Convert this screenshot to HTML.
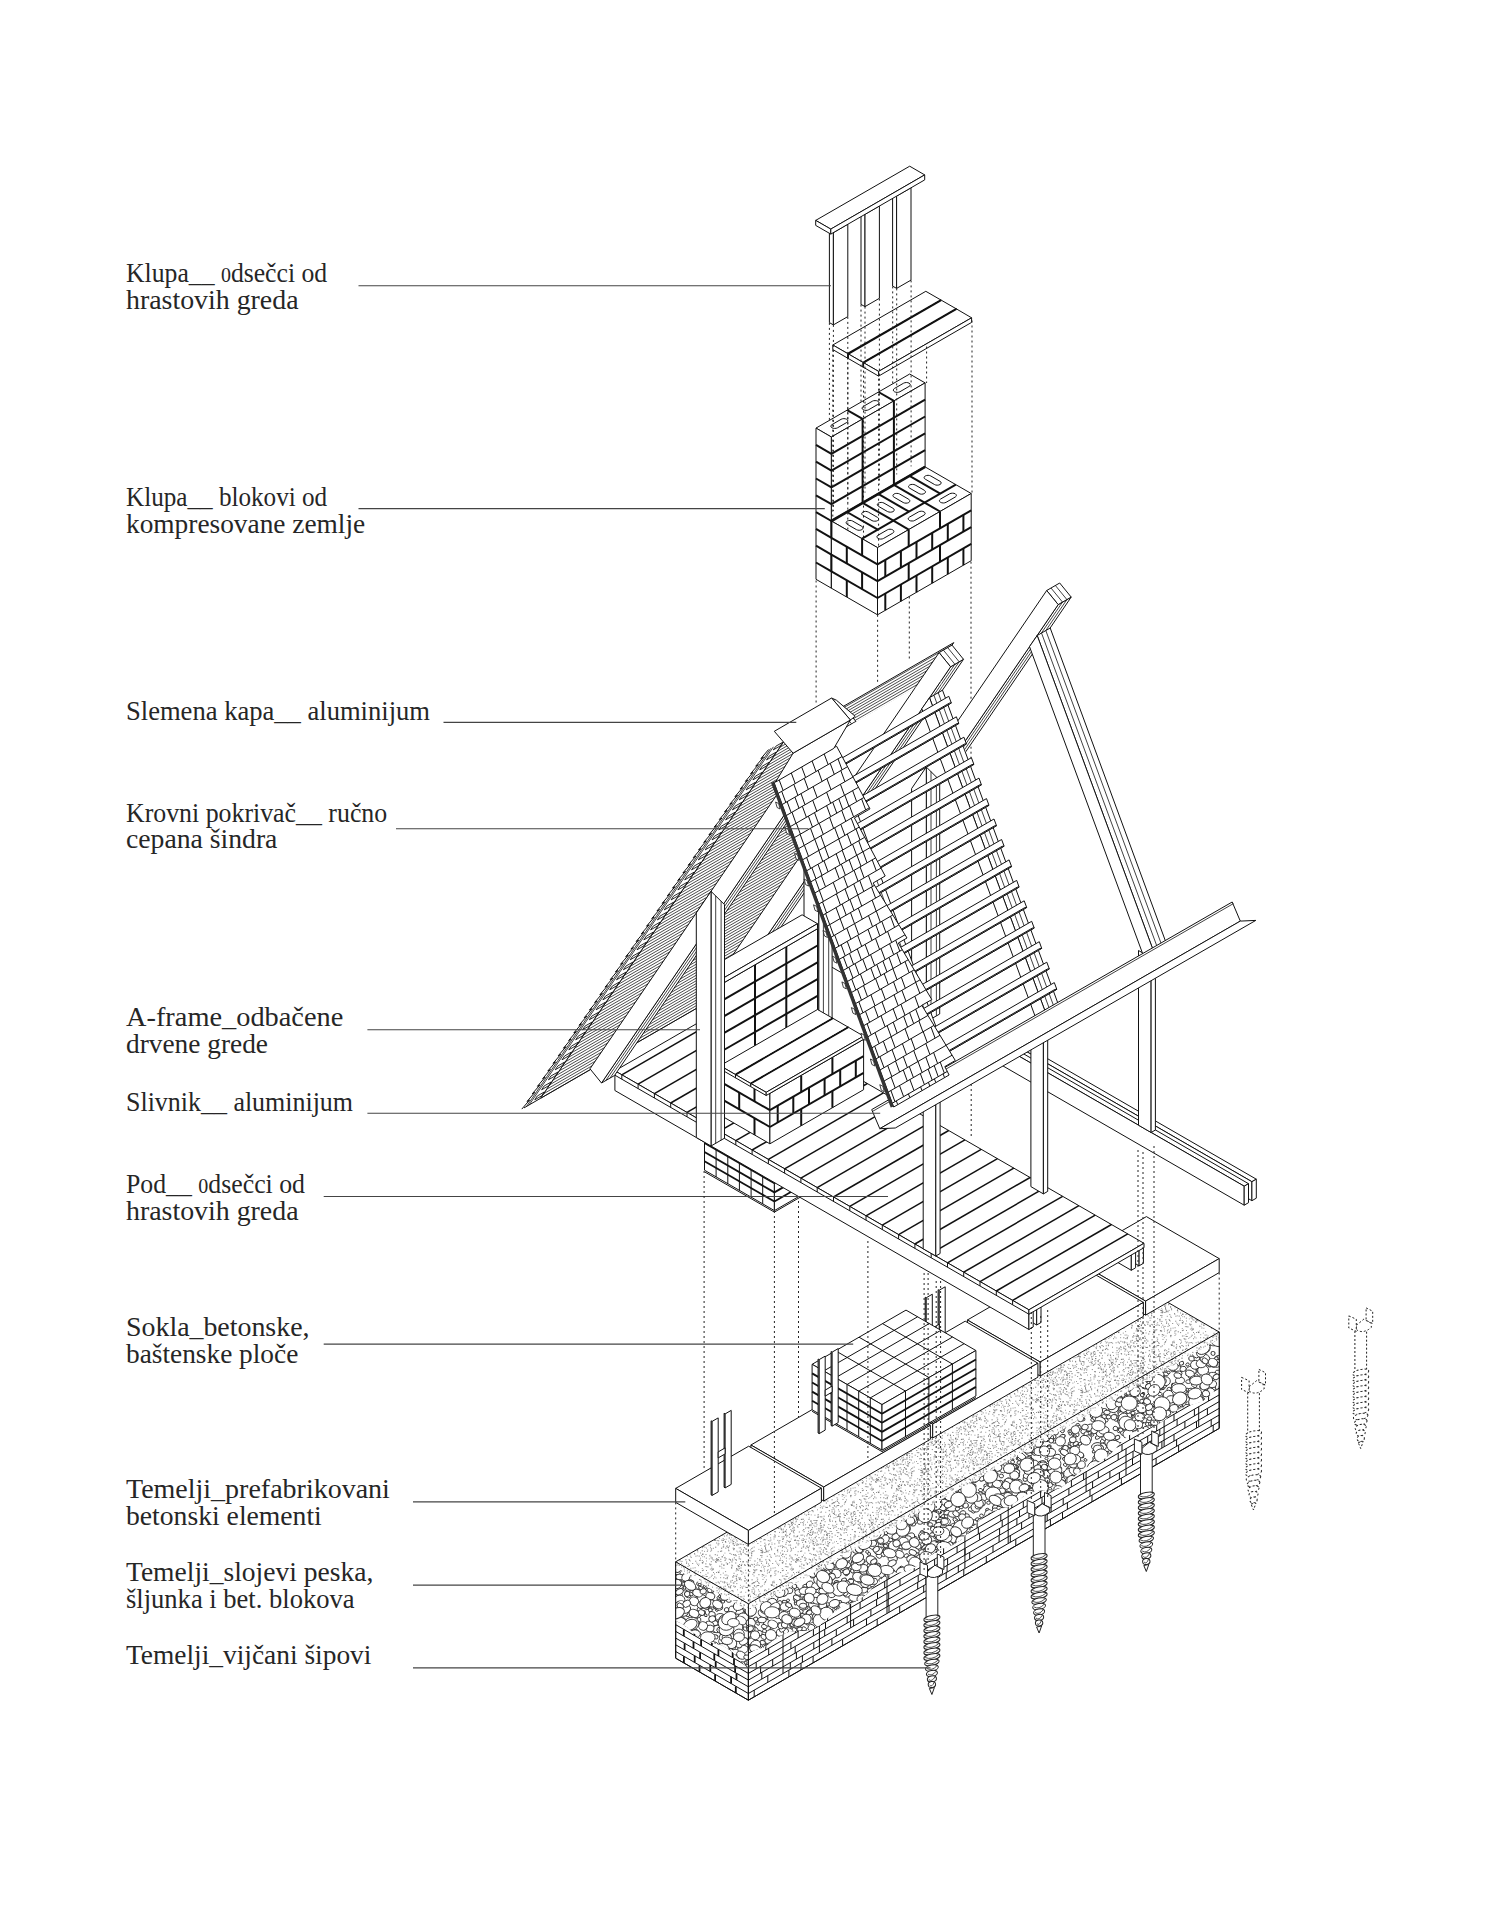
<!DOCTYPE html>
<html><head><meta charset="utf-8"><title>Aksonometrija</title>
<style>
html,body{margin:0;padding:0;background:#fff}
body{width:1493px;height:1920px;position:relative;overflow:hidden;font-family:"Liberation Serif","DejaVu Serif",serif}
svg{position:absolute;left:0;top:0}
.lb{position:absolute;left:126px;color:#1e1e1e;white-space:nowrap;font-size:25.5px;line-height:27px}
</style></head><body>
<svg width="1493" height="1920" viewBox="0 0 1493 1920" stroke-linecap="butt" stroke-linejoin="miter">
<text x="126" y="282.1" textLength="201.2" lengthAdjust="spacingAndGlyphs" font-family="'Liberation Serif','DejaVu Serif',serif" font-size="26.4" fill="#262626">Klupa__ <tspan font-size="20.5">0</tspan>dsečci od</text>
<text x="126" y="309.1" textLength="172.5" lengthAdjust="spacingAndGlyphs" font-family="'Liberation Serif','DejaVu Serif',serif" font-size="26.4" fill="#262626">hrastovih greda</text>
<text x="126" y="506" textLength="201.2" lengthAdjust="spacingAndGlyphs" font-family="'Liberation Serif','DejaVu Serif',serif" font-size="26.4" fill="#262626">Klupa__ blokovi od</text>
<text x="126" y="532.8" textLength="239.2" lengthAdjust="spacingAndGlyphs" font-family="'Liberation Serif','DejaVu Serif',serif" font-size="26.4" fill="#262626">kompresovane zemlje</text>
<text x="126" y="719.7" textLength="304" lengthAdjust="spacingAndGlyphs" font-family="'Liberation Serif','DejaVu Serif',serif" font-size="26.4" fill="#262626">Slemena kapa__ aluminijum</text>
<text x="126" y="821.5" textLength="261.2" lengthAdjust="spacingAndGlyphs" font-family="'Liberation Serif','DejaVu Serif',serif" font-size="26.4" fill="#262626">Krovni pokrivač__ ručno</text>
<text x="126" y="848.3" textLength="151.4" lengthAdjust="spacingAndGlyphs" font-family="'Liberation Serif','DejaVu Serif',serif" font-size="26.4" fill="#262626">cepana šindra</text>
<text x="126" y="1026.1" textLength="217.3" lengthAdjust="spacingAndGlyphs" font-family="'Liberation Serif','DejaVu Serif',serif" font-size="26.4" fill="#262626">A-frame_odbačene</text>
<text x="126" y="1052.9" textLength="142" lengthAdjust="spacingAndGlyphs" font-family="'Liberation Serif','DejaVu Serif',serif" font-size="26.4" fill="#262626">drvene grede</text>
<text x="126" y="1110.5" textLength="227" lengthAdjust="spacingAndGlyphs" font-family="'Liberation Serif','DejaVu Serif',serif" font-size="26.4" fill="#262626">Slivnik__ aluminijum</text>
<text x="126" y="1193" textLength="179" lengthAdjust="spacingAndGlyphs" font-family="'Liberation Serif','DejaVu Serif',serif" font-size="26.4" fill="#262626">Pod__ <tspan font-size="20.5">0</tspan>dsečci od</text>
<text x="126" y="1220.3" textLength="172.5" lengthAdjust="spacingAndGlyphs" font-family="'Liberation Serif','DejaVu Serif',serif" font-size="26.4" fill="#262626">hrastovih greda</text>
<text x="126" y="1336.3" textLength="183.5" lengthAdjust="spacingAndGlyphs" font-family="'Liberation Serif','DejaVu Serif',serif" font-size="26.4" fill="#262626">Sokla_betonske,</text>
<text x="126" y="1363.1" textLength="172.3" lengthAdjust="spacingAndGlyphs" font-family="'Liberation Serif','DejaVu Serif',serif" font-size="26.4" fill="#262626">baštenske ploče</text>
<text x="126" y="1498.2" textLength="263.9" lengthAdjust="spacingAndGlyphs" font-family="'Liberation Serif','DejaVu Serif',serif" font-size="26.4" fill="#262626">Temelji_prefabrikovani</text>
<text x="126" y="1524.5" textLength="195.8" lengthAdjust="spacingAndGlyphs" font-family="'Liberation Serif','DejaVu Serif',serif" font-size="26.4" fill="#262626">betonski elementi</text>
<text x="126" y="1581.3" textLength="247.3" lengthAdjust="spacingAndGlyphs" font-family="'Liberation Serif','DejaVu Serif',serif" font-size="26.4" fill="#262626">Temelji_slojevi peska,</text>
<text x="126" y="1608" textLength="228.5" lengthAdjust="spacingAndGlyphs" font-family="'Liberation Serif','DejaVu Serif',serif" font-size="26.4" fill="#262626">šljunka i bet. blokova</text>
<text x="126" y="1664.3" textLength="245.4" lengthAdjust="spacingAndGlyphs" font-family="'Liberation Serif','DejaVu Serif',serif" font-size="26.4" fill="#262626">Temelji_vijčani šipovi</text>
<polygon points="829.4,230.3 833.4,232.6 833.4,324.9 829.4,322.6" fill="#fff" stroke="#111" stroke-width="1" />
<polygon points="833.4,232.6 847.8,224.2 847.8,316.6 833.4,324.9" fill="#fff" stroke="#111" stroke-width="1" />
<polygon points="861,212.1 865,214.3 865,306.6 861,304.4" fill="#fff" stroke="#111" stroke-width="1" />
<polygon points="865,214.3 879.4,206 879.4,298.3 865,306.6" fill="#fff" stroke="#111" stroke-width="1" />
<polygon points="892.6,193.8 896.6,196.1 896.6,288.4 892.6,286.1" fill="#fff" stroke="#111" stroke-width="1" />
<polygon points="896.6,196.1 911,187.8 911,280.1 896.6,288.4" fill="#fff" stroke="#111" stroke-width="1" />
<polygon points="815.7,220.4 909.7,166.2 924.7,174.9 830.8,229.1" fill="#fff" stroke="#111" stroke-width="1" />
<polygon points="815.7,220.4 830.8,229.1 830.8,234.1 815.7,225.4" fill="#fff" stroke="#111" stroke-width="1" />
<polygon points="830.8,229.1 924.7,174.9 924.7,179.9 830.8,234.1" fill="#fff" stroke="#111" stroke-width="1" />
<polygon points="832.8,345 925.8,291.3 941.1,300.1 848.1,353.8" fill="#fff" stroke="#111" stroke-width="1" />
<polygon points="832.8,345 848.1,353.8 848.1,358.4 832.8,349.6" fill="#fff" stroke="#111" stroke-width="1" />
<polygon points="848.1,353.8 941.1,300.1 941.1,304.7 848.1,358.4" fill="#fff" stroke="#111" stroke-width="1" />
<polygon points="848.1,353.8 941.1,300.1 956.4,308.9 863.3,362.6" fill="#fff" stroke="#111" stroke-width="1" />
<polygon points="848.1,353.8 863.3,362.6 863.3,367.2 848.1,358.4" fill="#fff" stroke="#111" stroke-width="1" />
<polygon points="863.3,362.6 956.4,308.9 956.4,313.5 863.3,367.2" fill="#fff" stroke="#111" stroke-width="1" />
<polygon points="863.3,362.6 956.4,308.9 971.6,317.8 878.6,371.4" fill="#fff" stroke="#111" stroke-width="1" />
<polygon points="863.3,362.6 878.6,371.4 878.6,376.1 863.3,367.2" fill="#fff" stroke="#111" stroke-width="1" />
<polygon points="878.6,371.4 971.6,317.8 971.6,322.4 878.6,376.1" fill="#fff" stroke="#111" stroke-width="1" />
<line x1="848.1" y1="353.8" x2="941.1" y2="300.1" stroke="#111" stroke-width="2.2" />
<line x1="848.1" y1="353.8" x2="848.1" y2="358.4" stroke="#111" stroke-width="1.6" />
<line x1="863.3" y1="362.6" x2="956.4" y2="308.9" stroke="#111" stroke-width="2.2" />
<line x1="863.3" y1="362.6" x2="863.3" y2="367.2" stroke="#111" stroke-width="1.6" />
<polygon points="816,428.1 909.7,374 925.1,382.9 831.4,437" fill="#fff" stroke="#111" stroke-width="1" />
<polygon points="816,428.1 831.4,437 831.4,588.2 816,579.3" fill="#fff" stroke="#111" stroke-width="1" />
<polygon points="831.4,437 925.1,382.9 925.1,534.1 831.4,588.2" fill="#fff" stroke="#111" stroke-width="1" />
<line x1="831.4" y1="521" x2="925.1" y2="466.9" stroke="#111" stroke-width="2.0" />
<line x1="831.4" y1="504.2" x2="925.1" y2="450.1" stroke="#111" stroke-width="2.0" />
<line x1="831.4" y1="487.4" x2="925.1" y2="433.3" stroke="#111" stroke-width="2.0" />
<line x1="831.4" y1="470.6" x2="925.1" y2="416.5" stroke="#111" stroke-width="2.0" />
<line x1="831.4" y1="453.8" x2="925.1" y2="399.7" stroke="#111" stroke-width="2.0" />
<line x1="862.6" y1="502.9" x2="862.6" y2="418.9" stroke="#111" stroke-width="2.0" />
<line x1="847.2" y1="410.1" x2="862.6" y2="418.9" stroke="#111" stroke-width="2.0" />
<line x1="893.9" y1="484.9" x2="893.9" y2="400.9" stroke="#111" stroke-width="2.0" />
<line x1="878.5" y1="392" x2="893.9" y2="400.9" stroke="#111" stroke-width="2.0" />
<line x1="816" y1="562.5" x2="831.4" y2="571.4" stroke="#111" stroke-width="2.0" />
<line x1="816" y1="545.7" x2="831.4" y2="554.6" stroke="#111" stroke-width="2.0" />
<line x1="816" y1="528.9" x2="831.4" y2="537.8" stroke="#111" stroke-width="2.0" />
<line x1="816" y1="512.1" x2="831.4" y2="521" stroke="#111" stroke-width="2.0" />
<line x1="816" y1="495.3" x2="831.4" y2="504.2" stroke="#111" stroke-width="2.0" />
<line x1="816" y1="478.5" x2="831.4" y2="487.4" stroke="#111" stroke-width="2.0" />
<line x1="816" y1="461.7" x2="831.4" y2="470.6" stroke="#111" stroke-width="2.0" />
<line x1="816" y1="444.9" x2="831.4" y2="453.8" stroke="#111" stroke-width="2.0" />
<polygon points="831.4,521 925.1,466.9 971.2,493.5 877.5,547.6" fill="#fff" stroke="#111" stroke-width="1" />
<polygon points="831.4,521 877.5,547.6 877.5,614.8 831.4,588.2" fill="#fff" stroke="#111" stroke-width="1" />
<polygon points="877.5,547.6 971.2,493.5 971.2,560.7 877.5,614.8" fill="#fff" stroke="#111" stroke-width="1" />
<line x1="831.4" y1="571.4" x2="877.5" y2="598" stroke="#111" stroke-width="2.0" />
<line x1="831.4" y1="554.6" x2="877.5" y2="581.2" stroke="#111" stroke-width="2.0" />
<line x1="831.4" y1="537.8" x2="877.5" y2="564.4" stroke="#111" stroke-width="2.0" />
<line x1="831.4" y1="537.8" x2="831.4" y2="521" stroke="#111" stroke-width="2.0" />
<line x1="862.1" y1="555.5" x2="862.1" y2="538.7" stroke="#111" stroke-width="2.0" />
<line x1="846.8" y1="563.4" x2="846.8" y2="546.6" stroke="#111" stroke-width="2.0" />
<line x1="831.4" y1="571.4" x2="831.4" y2="554.6" stroke="#111" stroke-width="2.0" />
<line x1="862.1" y1="589.1" x2="862.1" y2="572.3" stroke="#111" stroke-width="2.0" />
<line x1="846.8" y1="597" x2="846.8" y2="580.2" stroke="#111" stroke-width="2.0" />
<line x1="877.5" y1="598" x2="971.2" y2="543.9" stroke="#111" stroke-width="2.0" />
<line x1="877.5" y1="581.2" x2="971.2" y2="527.1" stroke="#111" stroke-width="2.0" />
<line x1="877.5" y1="564.4" x2="971.2" y2="510.3" stroke="#111" stroke-width="2.0" />
<line x1="908.7" y1="546.4" x2="908.7" y2="529.6" stroke="#111" stroke-width="2.0" />
<line x1="940" y1="528.3" x2="940" y2="511.5" stroke="#111" stroke-width="2.0" />
<line x1="908.7" y1="580" x2="908.7" y2="563.2" stroke="#111" stroke-width="2.0" />
<line x1="940" y1="561.9" x2="940" y2="545.1" stroke="#111" stroke-width="2.0" />
<line x1="885.3" y1="576.7" x2="885.3" y2="559.9" stroke="#111" stroke-width="2.0" />
<line x1="900.9" y1="567.7" x2="900.9" y2="550.9" stroke="#111" stroke-width="2.0" />
<line x1="916.5" y1="558.7" x2="916.5" y2="541.9" stroke="#111" stroke-width="2.0" />
<line x1="932.2" y1="549.6" x2="932.2" y2="532.8" stroke="#111" stroke-width="2.0" />
<line x1="947.8" y1="540.6" x2="947.8" y2="523.8" stroke="#111" stroke-width="2.0" />
<line x1="963.4" y1="531.6" x2="963.4" y2="514.8" stroke="#111" stroke-width="2.0" />
<line x1="885.3" y1="610.3" x2="885.3" y2="593.5" stroke="#111" stroke-width="2.0" />
<line x1="900.9" y1="601.3" x2="900.9" y2="584.5" stroke="#111" stroke-width="2.0" />
<line x1="916.5" y1="592.3" x2="916.5" y2="575.5" stroke="#111" stroke-width="2.0" />
<line x1="932.2" y1="583.2" x2="932.2" y2="566.4" stroke="#111" stroke-width="2.0" />
<line x1="947.8" y1="574.2" x2="947.8" y2="557.4" stroke="#111" stroke-width="2.0" />
<line x1="963.4" y1="565.2" x2="963.4" y2="548.4" stroke="#111" stroke-width="2.0" />
<line x1="862.1" y1="538.7" x2="955.8" y2="484.6" stroke="#111" stroke-width="2.0" />
<line x1="831.4" y1="521" x2="925.1" y2="466.9" stroke="#111" stroke-width="2.6" />
<line x1="847" y1="512" x2="877.7" y2="529.7" stroke="#111" stroke-width="2.0" />
<line x1="862.6" y1="502.9" x2="893.4" y2="520.7" stroke="#111" stroke-width="2.0" />
<line x1="878.2" y1="493.9" x2="909" y2="511.7" stroke="#111" stroke-width="2.0" />
<line x1="893.9" y1="484.9" x2="924.6" y2="502.7" stroke="#111" stroke-width="2.0" />
<line x1="909.5" y1="475.9" x2="940.2" y2="493.6" stroke="#111" stroke-width="2.0" />
<line x1="893.4" y1="520.7" x2="908.7" y2="529.6" stroke="#111" stroke-width="2.0" />
<line x1="924.6" y1="502.7" x2="940" y2="511.5" stroke="#111" stroke-width="2.0" />
<polygon points="856.4,529.6 857.7,530.1 859.2,530.3 860.7,530.1 861.9,529.6 862.8,528.9 863.1,528 862.8,527.1 861.9,526.4 852.7,521.1 851.5,520.6 850,520.4 848.5,520.6 847.2,521.1 846.4,521.8 846.1,522.7 846.4,523.6 847.2,524.3" fill="#fff" stroke="#111" stroke-width="1" />
<polygon points="872,520.6 873.3,521.1 874.8,521.2 876.3,521.1 877.5,520.6 878.4,519.8 878.7,519 878.4,518.1 877.5,517.4 868.4,512.1 867.1,511.6 865.6,511.4 864.1,511.6 862.8,512.1 862,512.8 861.7,513.7 862,514.5 862.8,515.3" fill="#fff" stroke="#111" stroke-width="1" />
<polygon points="887.6,511.6 888.9,512 890.4,512.2 891.9,512 893.2,511.6 894,510.8 894.3,510 894,509.1 893.2,508.4 884,503.1 882.7,502.6 881.2,502.4 879.7,502.6 878.4,503.1 877.6,503.8 877.3,504.7 877.6,505.5 878.4,506.3" fill="#fff" stroke="#111" stroke-width="1" />
<polygon points="903.2,502.5 904.5,503 906,503.2 907.5,503 908.8,502.5 909.6,501.8 909.9,500.9 909.6,500.1 908.8,499.3 899.6,494 898.3,493.5 896.8,493.4 895.3,493.5 894.1,494 893.2,494.8 892.9,495.6 893.2,496.5 894.1,497.2" fill="#fff" stroke="#111" stroke-width="1" />
<polygon points="918.9,493.5 920.1,494 921.6,494.2 923.1,494 924.4,493.5 925.2,492.8 925.5,491.9 925.2,491.1 924.4,490.3 915.2,485 913.9,484.5 912.4,484.4 910.9,484.5 909.7,485 908.8,485.8 908.5,486.6 908.8,487.5 909.7,488.2" fill="#fff" stroke="#111" stroke-width="1" />
<polygon points="934.5,484.5 935.7,485 937.2,485.2 938.7,485 940,484.5 940.9,483.8 941.2,482.9 940.9,482 940,481.3 930.8,476 929.6,475.5 928.1,475.3 926.6,475.5 925.3,476 924.4,476.7 924.1,477.6 924.4,478.5 925.3,479.2" fill="#fff" stroke="#111" stroke-width="1" />
<polygon points="892.8,533.1 893.6,532.4 893.9,531.5 893.6,530.6 892.8,529.9 891.5,529.4 890,529.2 888.5,529.4 887.3,529.9 878.1,535.2 877.2,535.9 876.9,536.8 877.2,537.7 878.1,538.4 879.3,538.9 880.8,539.1 882.3,538.9 883.6,538.4" fill="#fff" stroke="#111" stroke-width="1" />
<polygon points="846.7,422.5 847.5,421.7 847.8,420.9 847.5,420 846.7,419.3 845.4,418.8 843.9,418.6 842.4,418.8 841.1,419.3 832,424.6 831.1,425.3 830.8,426.2 831.1,427 832,427.8 833.2,428.3 834.7,428.4 836.2,428.3 837.5,427.8" fill="#fff" stroke="#111" stroke-width="1" />
<polygon points="924,515.1 924.9,514.3 925.2,513.5 924.9,512.6 924,511.9 922.8,511.4 921.3,511.2 919.8,511.4 918.5,511.9 909.3,517.2 908.5,517.9 908.2,518.8 908.5,519.6 909.3,520.4 910.6,520.9 912.1,521 913.6,520.9 914.8,520.4" fill="#fff" stroke="#111" stroke-width="1" />
<polygon points="877.9,404.4 878.8,403.7 879.1,402.8 878.8,402 877.9,401.2 876.6,400.7 875.1,400.6 873.6,400.7 872.4,401.2 863.2,406.5 862.3,407.3 862,408.1 862.3,409 863.2,409.7 864.5,410.2 866,410.4 867.5,410.2 868.7,409.7" fill="#fff" stroke="#111" stroke-width="1" />
<polygon points="955.3,497 956.1,496.3 956.4,495.4 956.1,494.6 955.3,493.8 954,493.3 952.5,493.2 951,493.3 949.7,493.8 940.5,499.1 939.7,499.9 939.4,500.7 939.7,501.6 940.5,502.3 941.8,502.8 943.3,503 944.8,502.8 946.1,502.3" fill="#fff" stroke="#111" stroke-width="1" />
<polygon points="909.1,386.4 910,385.7 910.3,384.8 910,383.9 909.1,383.2 907.9,382.7 906.4,382.5 904.9,382.7 903.6,383.2 894.4,388.5 893.6,389.2 893.3,390.1 893.6,391 894.4,391.7 895.7,392.2 897.2,392.4 898.7,392.2 900,391.7" fill="#fff" stroke="#111" stroke-width="1" />
<line x1="829.4" y1="322.9" x2="829.4" y2="422.9" stroke="#222" stroke-width="1" stroke-dasharray="2 3"/>
<line x1="861" y1="304.6" x2="861" y2="404.6" stroke="#222" stroke-width="1" stroke-dasharray="2 3"/>
<line x1="892.7" y1="286.4" x2="892.7" y2="386.4" stroke="#222" stroke-width="1" stroke-dasharray="2 3"/>
<line x1="833.4" y1="324.9" x2="833.4" y2="510.9" stroke="#222" stroke-width="1" stroke-dasharray="2 3"/>
<line x1="865" y1="306.6" x2="865" y2="492.6" stroke="#222" stroke-width="1" stroke-dasharray="2 3"/>
<line x1="896.7" y1="288.4" x2="896.7" y2="474.4" stroke="#222" stroke-width="1" stroke-dasharray="2 3"/>
<line x1="847.8" y1="316.9" x2="847.8" y2="502.9" stroke="#222" stroke-width="1" stroke-dasharray="2 3"/>
<line x1="879.4" y1="298.6" x2="879.4" y2="484.6" stroke="#222" stroke-width="1" stroke-dasharray="2 3"/>
<line x1="911.1" y1="280.4" x2="911.1" y2="466.4" stroke="#222" stroke-width="1" stroke-dasharray="2 3"/>
<line x1="832.8" y1="349.6" x2="832.8" y2="521" stroke="#222" stroke-width="1" stroke-dasharray="2 3"/>
<line x1="847.8" y1="357.6" x2="847.8" y2="529.5" stroke="#222" stroke-width="1" stroke-dasharray="2 3"/>
<line x1="863.5" y1="365.6" x2="863.5" y2="538.5" stroke="#222" stroke-width="1" stroke-dasharray="2 3"/>
<line x1="878.6" y1="373.7" x2="878.6" y2="547.6" stroke="#222" stroke-width="1" stroke-dasharray="2 3"/>
<line x1="972" y1="320.5" x2="972" y2="493.5" stroke="#222" stroke-width="1" stroke-dasharray="2 3"/>
<line x1="926.6" y1="346.5" x2="926.6" y2="383" stroke="#222" stroke-width="1" stroke-dasharray="2 3"/>
<line x1="816.1" y1="580.5" x2="816.1" y2="705" stroke="#222" stroke-width="1" stroke-dasharray="2 3"/>
<line x1="877.6" y1="614.8" x2="877.6" y2="682" stroke="#222" stroke-width="1" stroke-dasharray="2 3"/>
<line x1="909.3" y1="596.5" x2="909.3" y2="660" stroke="#222" stroke-width="1" stroke-dasharray="2 3"/>
<line x1="971" y1="561.7" x2="971" y2="950" stroke="#222" stroke-width="1" stroke-dasharray="2 3"/>
<defs><pattern id="sand" width="80" height="80" patternUnits="userSpaceOnUse"><rect width="80" height="80" fill="#fff"/><path d="M25.9 12.1h1.1M5.8 42.9h0.9M4.6 40.6h0.7M34.7 5.6h0.8M34 66.1h0.8M17.9 50.2h1.3M46.2 31.7h1.3M3.7 68.7h0.9M11.5 9.4h0.9M65.3 14.5h1M51.1 29.8h1M5 4.8h0.8M54.4 34.2h0.9M46.8 36.3h0.9M63.6 55.9h0.8M46 42h1.2M58.4 23h1.3M9.4 33.4h1.2M12.2 39.1h0.7M53.5 61.2h1M70 25.1h1.1M47.5 46.4h1M67.2 75.6h1M53.1 4.9h1.1M51.8 79.4h1.2M22.8 30.9h1.1M1.8 36.9h0.8M9.4 4.7h1.2M10.3 19.8h0.9M69.7 6.4h1M44 70.7h1.2M69.1 22.3h0.9M28.7 70.7h1.3M12.1 14.1h0.8M18.7 38.8h1.1M21 0.3h1M29.5 45.3h1.3M55.2 41.2h1.1M54.1 4.3h1.2M62.4 70h1.2M31.4 31.9h0.8M50.7 5h0.7M16.7 13h0.9M4.2 0h0.8M8.1 29.1h0.7M69.9 49.1h0.8M20.2 27.8h0.9M9.8 67.9h1.3M37.3 38.7h0.8M8.2 27.4h0.9M66.3 12.9h0.7M76.1 42.3h0.8M43.5 2.2h1M78.3 69.1h1.1M20.9 29.3h0.8M61.8 42.6h1.2M26.4 17.8h1.2M78.8 68.2h1.2M65.5 59.2h0.8M41.4 28.4h0.7M2.2 22.4h0.9M55.4 76.5h1M75 79h1.3M29.2 17.6h0.8M15.7 16.3h1.1M72 67.2h1M52.2 64h0.8M52.8 72.8h1.2M60 38.2h0.8M63.1 26.6h1.2M77.7 31.7h0.9M75.7 58h0.8M10.2 12.1h1.2M64.5 11.7h1.2M78.4 52.6h0.9M43.9 10.5h0.7M77.7 52h1M74.7 34.7h1.2M66.1 16.9h0.9M23.4 19.2h1.1M20.7 33.5h0.8M72.8 28.3h1M46.7 72.3h1M73.4 40.1h1M41.9 1.5h1M14.6 0.3h1.2M13.8 37.9h1.1M44.5 26.1h1M44.4 62.7h0.8M44.8 19.9h0.9M61.8 40.6h1M60.8 73h1M49 40.4h1M55.4 36.2h1M38.2 75.3h1.1M70.1 75.4h0.9M44.8 75.5h1.2M11 9.7h1M5.8 19.3h0.7M53.6 62.7h1.2M12.4 57.3h1.1M11.4 70.6h1.3M17.6 76.2h0.9M39 79.2h1.2M12.9 34.5h1M27.1 15.7h0.9M57.8 1.6h1M35.2 1.4h0.9M49.9 41h0.7M78.8 63.1h1.3M8.4 21.2h0.7M62.3 21.6h0.8M33.8 72.9h1.2M20.7 11.9h1.3M45.6 56h0.8M4.6 55.1h1M5.8 75.1h1.1M64.1 6.7h1.2M5.3 69h1M27.1 44.2h1.3M21.4 10.3h1M19.1 8.8h0.8M4 16.1h0.9M24.4 60.8h0.9M40 14.2h0.9M1.5 20h0.7M58.6 44.1h0.8M38 74.8h0.8M65.5 34.6h1M66.8 31.4h1M55 78.6h0.9M66.6 56.5h1.1M32.4 27.8h0.7M10.4 5.7h1.1M20.4 13.1h0.8M67.3 69.6h1.1M22.6 19.4h0.9M36.8 12.6h1M21.1 76.9h1.3M43.8 19.6h1.3M24.8 28.5h0.7M30.5 38h1M16.1 40.4h0.7M21.1 7.2h0.9M3.3 1.8h0.9M18.6 46.8h1M60 52.6h1.1M70.3 31.2h0.9M78.8 12h1.1M51.5 3.5h1.2M71.4 50.2h1.1M65 11.1h1M40.3 66.8h1.2M66.1 46.7h1.2M54.6 55.5h0.8M2.5 10.6h0.9M8.4 66.9h1M50.2 50.1h1.1M39.1 0.3h1.2M59.9 40.2h1M52.7 5.3h1.1M20.2 6h0.9M58.3 16.4h1.1M78.1 39.5h0.9M38.3 54.7h1.2M49.4 51.4h0.7M11.8 20.3h1.1M24.4 45.4h0.7M4.9 21.5h1.1M55.4 54.1h0.9M41.3 37.2h1M9.5 71.5h0.8M78.3 74.9h0.7M36.7 65.6h1.3M36 21.5h0.8M75.6 16.9h1M11.3 41.9h1.3M10.6 65.6h1M70.9 56.3h0.8M71.8 38.9h0.7M0.3 39.3h1M24.2 11.3h0.9M25.3 67.2h0.7M60.1 67.1h0.8M74.1 57h1.2M23.2 29.8h0.9M79.9 47.1h0.9M34.2 22h0.7M8.1 66.8h0.9M74.8 19.9h0.9M40.9 15.2h0.9M76.5 70.7h1.2M50.5 73.1h1.3M43.9 57.6h0.7M58.6 36.1h1.2M51.6 22.9h0.7M74.1 10.2h1M27.5 23.8h1.1M78.1 20.8h1.1M24.1 44.6h0.9M13.4 12.9h0.8M72.5 39.8h0.8M72.5 79.7h1M11.2 15.4h0.8M27.4 7.3h0.8M20.7 45.6h1.2M60 33h0.9M41.9 30.1h0.9M5 22.2h1.3M10.1 40.3h1.1M69 17.3h0.9M19.9 32h1M76.3 67.9h1.2M1.7 2.6h1.1M71.7 37.9h1.1M0 31.3h1.3M66 68.4h1.3M19.9 8.7h0.8M41.8 54.6h1.3M57.7 51.8h1.2M36.6 44.1h0.7M62.6 18.6h1.3M51.6 24.3h0.8M20.1 50.9h1.1M9 5.6h1M46.6 31h0.8M48.1 0.8h0.9M36.9 76.7h1.1M70.7 38h0.8M19.8 76.8h1.1M24.6 1.7h1M54 33.6h0.9M53.4 74h0.8M2.7 27h1M54.6 15.8h1.2M59.1 40.4h0.8M77.6 24.9h1.2M18.5 17.7h1.2M23.6 76.2h1M15 17.9h1M53.2 75.9h0.8M31.5 17h1.3M11.4 4.1h0.7M31.5 71.9h1.2M58.6 79.8h1.3M26.3 14.8h1.3M59.7 2.6h1.1M30.3 29.9h0.9M13.5 0.2h0.9M28.1 76.4h0.8M77.1 16.6h0.9M65.7 65.8h1M3.9 37.9h0.9M73.6 15.4h0.9M71.8 2.4h0.9M64.9 61.3h0.7M2.8 5h1.3M20.6 59.8h1.2M27.1 21.8h1.3M49.4 21h1.1M25.3 22.1h0.7M60.5 73.3h1.1M75.5 1.9h0.8M38 76.5h1.3M30.9 20.1h1M39.5 74.2h0.8M64.2 59.1h1.2M61.8 48.6h0.9M25.6 28.9h1.2M6.3 15.8h1.2M19.8 5.2h0.7M44.2 26.1h1.3M70.7 79h0.9M6.7 7.7h1M56.8 35.8h0.8M33.3 49.6h1.1M59.8 67.8h1.1M9.7 67.3h0.9M45.4 29.8h1.1M15.9 19.8h0.8M12.3 70.7h1M26.1 31.7h1.3M40.6 18.5h1.2M52.3 79.3h0.8M38 65.5h1.2M73.2 3.2h0.9M9.5 15.2h1.3M46.7 74.4h0.9M69.3 35.9h0.9M62.2 75.7h0.8M47.7 49.6h0.8M29.5 11.3h0.8M20.4 48h1.1M16.3 0.9h0.9M54.3 14.8h0.9M16.3 63.6h1M5.1 8.1h0.9M44 51.1h0.8M13.1 55.6h0.9M22.7 24.6h1.3M25 45.3h0.9M33.3 69.1h1.3M29.1 15.8h1.1M16.3 0.5h1.2M33.9 65.6h0.9M70.6 36.9h0.8M1.2 44.1h1.1M72.8 7.1h1.1M29.7 40.4h0.8M22.7 41.7h1.3M8.7 39.2h1.2M77.4 15.8h0.8M75.4 78h1M4.3 74.1h0.9M72.3 49.6h1.2M12.8 62.9h0.8M32.4 67.7h1.2M14.6 17.5h0.9M41.4 30.7h0.8M19.8 58h1.2M3.3 45h1.2M3.1 67.1h0.8M48 44h1.1M24.5 33.6h1M34.1 52.7h1M35.1 1.9h1.1M39.2 18.8h1.2M62.4 36.7h0.8M37.9 8.6h0.8M34.4 7.3h1M40.8 3.3h1.1M6.6 58.7h1.2M40.9 4.3h1M30.2 76.1h0.8M68.6 79.7h1.1M65.2 15.5h1.3M39.3 76.5h1.2M13.2 63.1h1.3M5.2 28.1h1.2M12.7 71.7h0.9M65.3 11.5h1M73.6 16.7h0.9M40.5 25.5h0.7M14.6 12.9h1.3M54.4 71.6h0.8M62.8 9.2h1M50.9 28.8h1.2M44.4 46.4h1.2M8.4 79.4h1.1M31.5 63.8h0.9M79.2 46.2h0.9M61.2 35.4h0.8M59.5 3.9h1.2M20.3 51.1h1.3M46.9 53.1h0.9M0.1 2.7h0.8M49.3 34.6h1M71.6 10.6h0.8M52.2 1.8h0.7M28.4 8.5h0.9M17.9 46.7h1.1M16.3 49.9h1M10.8 74.9h0.8M11.9 7.7h1.1M69.7 62.6h0.9M21.1 0.9h1.1M45 28h1.1M35.5 75h1.1M19.9 72.3h0.7M42.5 32.5h0.8M4.7 62.3h0.7M44.1 75.3h0.8M16 48.6h1M51.3 65.1h0.8M24.8 24h0.7M71.1 62.6h1.1M0.5 67.6h1.1M37.2 59.3h1M18.1 8.4h0.8M3.1 26.8h1.1M55.6 67.6h1.1M21.3 44.3h1M63.1 41.9h0.9M51.4 77.2h0.8M70.4 1.2h0.9M18.9 59.5h1.3M59.7 26.1h1.2M26.3 19.1h1.2M50.5 55.4h1.1M78.3 37.6h1.2M55.8 68.6h1M58 45.6h0.9M17 49.8h0.7M72.9 11.6h0.7M8.5 74.3h0.9M11.3 2.3h0.7M55.4 50.7h1.1M58.9 5.3h1.1M29.1 65.4h1.2M71.3 5.3h1.2M73.2 75.5h0.8M16.5 9h0.7M67.8 65h1.1M66 50.5h0.9M8 7.8h1.2M16.4 25.5h1M1.7 20.5h0.9M57.3 29.4h0.9M77.1 40.3h1.2M49.5 2.5h0.9M34.9 61.8h0.9M56.4 43h0.8M69 7.3h1.2M13.6 0.1h0.8M61 78.2h0.7M39.3 39.3h1.2M14.8 39.6h0.9M66.5 20.8h1.3M22.7 17.2h1.1M39.9 8.8h1.1M6.5 63h1.1M63 50.2h0.9M32.1 31.6h1.2M6.9 71.1h0.7M16.5 21.1h1.2M40.1 30.3h1.2M18.7 36.9h1M60.4 60.2h1.1M27.9 26.1h0.8M67.4 53h1.1M13.6 35.1h1.2M46.3 10.1h1M70.8 19h0.8M24.1 56.3h1.2M12.4 12.5h0.8M26.1 41.8h0.8M26.2 15.1h1.3M58.3 8.1h1.3M8.1 30.7h1.3M63.6 58.7h1M15.7 51h0.8M16.5 31.1h0.7M31.9 63.3h1.1M40 50.6h1M11.3 48.3h0.9M59.3 72.6h1M45.9 59.9h1M18.3 57.8h1.2M61.9 56h1.2M54.4 51.3h1M25 50.3h0.8M33.6 62.6h1.1M50.4 20h1M36.4 49.7h0.9M54 74.4h0.8M52.4 62.3h0.9M39.2 78h0.7M43.5 12.9h1.2M75.2 41.5h0.8M46 43.3h1.1M41 51.1h1.2M41.7 32.8h1.3M16.8 54.7h0.9M61 9.8h1.3M28.4 4.5h0.9M32 1.1h1M33.6 55.9h0.9M21.2 18h1.1M75.2 42.2h0.8M64.1 31.4h0.8M10.3 62.1h1.2M50.7 37.5h1M18.1 77.1h0.9M51.1 65.5h1.2M37.4 23.5h1M10 66.7h0.9M68.1 21.4h0.9M20.3 34.1h0.8M0.2 57.7h0.9M19.6 24.1h1M34.3 51h1.1M29 74.3h1.2M4.6 66.2h1.2M62.7 11.2h1.2M50.7 1.2h0.7M76.1 52.5h0.9M8.1 11.4h0.8M62.1 27.7h0.8M72.3 63.3h0.8M71.3 48.7h1.2M53.5 71.5h1.2M67.1 15.8h1.1M42.5 59.4h1M70.6 44.4h0.9M18.7 11.1h1M4.7 37.4h0.8M39.3 39.9h1M69 0.5h1.2M37.4 45h1.1M67.2 30h1M76.8 6h1.1M50.9 2.3h1.1M54.6 74.5h0.9M78.5 40.9h1M71.8 2.7h1.1M50 27.1h1.2M29.3 38h1M61.6 16.9h1M33.8 44.3h1.2M23.4 66.2h0.9M40.3 21.7h1M78 52.4h1.2M26.5 25.4h0.9M46.9 50.8h1.2M3.2 57.8h1.2M43.6 4h0.9M0.5 15.2h1.3M48.7 52.6h1.2M72.8 48.9h1.1M50.1 55.7h1.1M54.5 17h1.1M36.6 61h0.8M14.5 3h1.2M73.1 52.5h0.9M65.8 62.9h1M20.6 24.2h1M25.5 34.5h1.1M74.7 4.4h1M3.2 9.5h1.2M46 73.5h1M1.1 31h1.1M75 78.5h1M33 8.2h1.1M17 12.1h0.7M0.4 54.7h0.8M77.3 7.1h1.2M10.3 1.4h1.1M19.4 58.7h0.8M4 61.9h1.1M68.4 58.4h0.8M50.3 56.7h1M74.6 20.3h1.3M57.4 0.9h0.7M52.1 65.4h0.7M24.9 58.4h0.8M68.9 38.9h0.7M29.4 46h1M54.2 11.6h1.2M29.1 51.6h1.1M33.4 30.9h1.2M75.6 62.8h1M23.4 4.9h1.3M56.3 66.2h0.9M48.5 78.2h1.2M48.1 24.7h1M71 30.1h1.1M48.1 71.7h1.2M22.7 0.1h0.9M33.8 46.9h1.2M71 3.4h1.2M64.9 69.4h1M21.9 68.1h1.2M54.8 73.1h0.9M6.8 44.3h1.2M16 60h1.3M18.7 48.6h1.1M37.2 16.5h0.9M60.1 63.3h1M7 64.5h1.2M18.6 46.4h1.2M70.8 41.7h1M47.1 15.1h0.8M14.5 56.1h0.9M45.2 32.2h1M11.9 3.6h1.3M29.9 8.5h1.1M63 12.5h1.1M27.6 41.6h0.7M2.7 79.2h1.2M38.9 45.4h0.9M62.3 34.1h1.3M61.4 65.5h1.3M20.3 3h0.8M14.5 6.7h0.7M44.6 69.7h1M75.8 72.8h0.7M47.8 31.8h0.8M76.7 20.6h1M51.3 76.5h1.1M31.4 35.9h0.8M77.3 79.3h0.8M3.1 20.5h0.9M72.2 72.4h1.2M3.8 62.9h1.1M51.7 78.8h0.7M11.6 60.4h1.3M54.2 23.9h1.1M60.6 8.4h0.9M20.6 9.9h1M13.5 19.1h0.8M54.2 1h1.1M15.6 2.9h1.3M17.6 74.7h1.2M71.1 11.2h1M7.8 74.3h1.2M50.3 36.2h0.9M65.8 38.2h1.1M11.4 17.7h0.7M57.1 44.3h0.8M69.7 21.3h0.9M12.5 21.7h1.2M26.8 13.4h1M25.4 72.3h0.8M78.3 4.5h1.2M53.5 16.9h1M22.9 20.6h0.8M29.1 79.3h1.3M74 7.8h0.9M71.7 4.6h1.1M23.5 78.3h0.7M64.6 27.3h0.8M0.2 66.6h1M14.9 34.8h1.2M17.5 45.7h0.8M14.4 61.6h1.1M15.7 6.3h0.8M48.7 39.6h0.9M16.5 49h1.1M64.9 46.6h0.8M5.3 58.6h0.9M57.7 4.4h1.2M26.8 67.4h1.2M39.4 1.2h1.2M38.1 69.8h0.9M14.9 66.5h0.9M13.1 29.7h1.1M0.4 41.6h1M41.3 9.7h1.1M65.3 69.2h0.9M56.9 30.5h1.2M4.9 69.8h1.3M39.6 41.1h1M43 1.7h1.3M17.9 14.6h0.8M20 65.4h0.7M7.7 55.9h0.8M1.4 48h1M41.8 56.2h0.8M69.6 57.4h0.7M9.8 39.5h1M22.4 9.8h0.9M11 47.3h1.2M11.8 45.8h1.1M13.1 66.1h1.3M31.1 33.6h1.2M42 31.7h1.3M62.2 27.1h0.8M26.8 34.8h1.3M64.4 73h1.2M67.8 4.3h1M76.6 74.7h0.8M33.8 50.6h0.9M42.5 5.5h1M40.4 1.7h0.8M77.6 62.1h1.3M50.7 64.7h1.2M70.8 2.7h1.1M21.3 54.3h0.9M43.4 74h1.1M20 41.6h1M76.1 23h0.9M51.8 9.6h1.1M76.5 41.1h0.9M37.3 42.7h0.8M9.9 10.5h0.9M32.5 23.1h0.8M7 43.7h1.2M48.8 45.6h1.1M16.1 56.8h1M43.8 49h1M24.8 19.4h0.8M41 30.7h1.1M1 28.2h1.2M19.1 44.5h1M22.8 79h0.9M61.8 12.7h0.7M69.7 35.2h0.7M31 35.2h1.1M8.7 18h1.3M59.1 12.4h0.9M28.2 54h1.1M68 65.7h1M59.1 59.5h1.2M38 62.8h1.1M73.2 10.2h1.2M0.3 61.3h1.1M39.8 77h1M33.4 62.7h1.2M48.6 30.4h1M36.6 57.8h0.9M31.3 44.4h0.9M25.8 63h1.2M40 35.5h0.8M24.3 11.6h1M46.5 7h1.3M25.9 67.5h1.2M76.7 16.3h1M72.8 0.9h0.7M45.2 39.8h1.3M61.9 43.1h1.3M41.4 41.4h1.1M31.2 28.6h1.1M28.1 75.8h1.1M42 7.9h0.9M32.1 44.9h1M70.4 77.2h1M35.2 50h1.3M27.5 42.4h1.2M13.7 25.4h1.3M66.1 41h0.8M71.6 55.2h1.2M79.2 71.1h1M12.5 23.2h1M40.4 15h0.8M50.4 48.3h0.9M79.5 50.9h0.7M32.9 63h0.9M55.3 0.3h0.9M67.4 46.9h1.1M15.7 39.8h1M21.3 51.7h1M79.8 46h0.9M9.7 12.5h1.2M8.5 8h0.8M41.8 65.9h1.1M64.5 5h0.7M61.6 25.8h1.1M28.3 13.6h0.9M8 72.3h1M27.9 36h0.9M4.4 71.2h1M76.8 35.2h1.1M19.9 3.5h1.3M68.4 25.2h1.2M65.3 24.3h1.1M76.8 39.6h1.3M19.4 31.2h1.1M17.7 24.7h1.2M38.8 63.4h0.8M13.9 28.7h0.8M77.7 23.3h1M9.2 42.7h0.9M32.3 5.2h0.8M66.1 28.1h0.8M15.3 22.7h0.8M2.8 53.1h0.9M12.5 56.5h0.8M21.6 66.8h0.8M35.5 66.9h1.2M12.7 28.2h1.1M30.2 76.7h0.8M76.1 40.4h0.8M36.2 10.5h1.1M20.9 72h1.1M29.4 19.7h1.1M17 69.8h0.8M41 43.4h0.9M61.7 30.8h1.1M45.4 24.9h0.9M6.9 14.2h1.2M25.7 53h0.8M45 28.9h1M23.8 5.3h0.9M18.1 10.1h1.1M22.6 32.3h1.2M62 70.6h1.2M10.6 22.1h0.7M54.4 53.1h0.9M33 52.7h1.1M19.9 67.7h0.9M50.3 14.5h0.8M73 58.7h1.1M3.2 3.2h0.8M15.8 24.2h0.9M3.1 24.9h1.1M14.4 67.2h1M57.3 20.4h1M54.7 27.9h0.7M66.7 62.1h0.9M3.4 68.3h1.1M3.8 19.6h0.8M63.3 16.8h1.2M60 6.9h1.1M31.5 59.8h1.2M22.5 7.2h1.3M33.9 74.4h1.1M59.1 66.4h1.1M36.2 4.3h1.1M34.3 41h1.3M10.2 61h0.7M56.2 64.5h0.9M43.7 77.6h1.1M43.5 20h0.7M28.6 32.9h0.8M24.8 10.9h1.1M53.6 19h0.8M41.2 35.6h1.3M28.1 23.9h1.2M11.4 45.1h0.9M65.2 43.9h1.2M13.5 53.3h1.1M36.9 61.3h1.2M9.2 23.1h0.9M16.5 4.8h0.9M15.8 56.1h1M9 26h1M29 13.4h0.7M0.9 79.4h1.2M6.7 57.4h1.3M45.1 8.7h1M34.7 15.2h1M0.7 73.6h1.1M50.2 74.8h1.1M20.1 19.7h0.8M2.2 62h1.2M23.7 14.9h1.1M67.7 74.1h0.8M62.8 66.4h1.1M26.1 14.8h1.2M25.6 29.5h1M29.5 66.5h0.8M3.3 45.3h1.1M65.6 56.4h1.2M75.6 39.6h1M12.6 24h1M6.4 55h0.8M35.5 77.6h0.8M3.2 35.2h0.8M57.8 0.2h1.2M68.4 63h1M22.7 52.9h1M33.7 27.1h1M53.3 66.1h1.2M13.2 23.7h1M45.1 27.8h0.8M6.8 25.9h1M77.7 72.7h1.2M77.9 76.9h1.1M64.9 4.8h1.1M48.7 23.8h1M76.2 38.5h1.1M23.9 27.5h1.2M2.2 15.1h1.1M35.8 6.8h1.1M29.8 46.5h0.9M42.4 45.2h0.9M9.1 14.4h1.2M43.8 9h1.2M20.3 7.6h1M20.1 39.1h1M18.1 45.8h0.8M41.1 47.1h0.7M32.6 5.9h1M69.1 44h1.1M60.6 9.2h1.3M57.7 8.2h1.2M31.4 13.7h1.3M45 62h0.8M62.1 4.6h0.8M29.8 1.2h1.1M17.1 24h1.1M34.1 71.1h1.1M69.8 45h1.3M69.7 13.4h1.1M27.3 61.1h1.1M66.1 9.8h0.9M59 75.8h1.1M3.5 48.3h0.8M43.9 64.2h0.8M74 54h0.9M15.5 35.7h1.2M46.5 9.1h0.7M8.8 64.1h0.8M44.3 23.2h1.1M30.5 11.5h1.2M43.1 55.2h1.2M75.9 1.1h0.9M12.1 40.1h1.2M64 2.8h0.8M65.5 54.4h0.9M38.1 12.7h1.2M31.5 69.8h1.1M6.1 26.3h0.8M71.5 47.1h0.7M13.6 28.9h1M46.2 31h0.9M0.5 46.3h0.9M1.6 36.8h1.3M3.6 11.7h1.1M21.8 21.9h1M21 45.5h1M76.6 79.4h0.7M44.9 61.7h1.2M61.9 50.6h1.1M29 22.5h1.2M69.8 75.1h1.1M24.3 61.1h1.1M40.7 50.8h0.9M44.1 32.5h0.7M27 25.9h1.3M38.5 29.4h0.8M18.8 27.9h0.8M0.6 69.7h1M35.6 45.5h0.9M13.5 5.3h0.9M24.7 58.1h1M75 27.2h1.3M46.7 6.4h0.8M46.4 79h0.9M62 34.3h1.2M5.4 38.8h1.2M22.1 20.6h0.7M13.2 21.4h1.1M17.5 32h0.8M48.2 69.1h1.1M15.7 58.7h1.3M48.1 6.3h1.2M70 27.3h0.8M15.1 43h1.2M51.2 73.8h0.8M26.1 59.9h1.1M32.4 54.3h0.9M4.6 33.1h0.7M50.1 26.8h1M47.8 20.6h1M1.1 74h1M79 4.5h1.1M57.9 26.3h0.8M12.5 11.4h1.2M7.2 65.1h1M43.1 47.1h1M52.6 48.1h0.9M59.3 20.6h1.1M61.1 62.1h0.9M61.8 78.2h1M22.3 41.9h1.3M10.5 0.7h1M52.4 61.9h0.9M79.2 18.3h1.2M7.2 2.2h0.8M4.8 40.1h1M14.5 75.2h0.9M11.9 14.2h1.1M73.7 13h0.7M62.2 19.4h1.3M39.9 50.9h0.9M64 36.8h0.9M72.3 8.6h1.1M5.2 51.6h0.9M69.1 4.8h1M32.8 73.5h1.3M50.2 17.9h0.9M21 34.7h0.8M16.3 60.7h1.1M23.9 79.5h0.8M45.6 12.5h1.2M69.5 21.4h1.2M65.8 22.6h0.9M38.8 71.3h0.8M54.6 47.8h1M46.3 70.6h0.8M70.7 28.8h1.2M69.1 14.6h1.2M79.6 23.8h0.7M8.9 77.9h0.7M72.9 12.1h1.1M7.8 13.5h1.1M7.2 27.2h1.3M57.3 70.6h1.3M2.6 18.8h1.2M55.2 3h1M18.5 34.4h0.8M1.6 79.3h0.9M70.3 9.6h1M10.9 34.3h0.8M54.8 11.8h1.1M40.1 9h0.9M39.7 73.5h0.9M17.2 77.4h1.2M58.5 21.8h0.8M21.2 5.5h0.7M40.7 32.6h1M29 0.8h1.1M52.2 43.5h1M55.2 78.6h1.2M57.4 31.9h0.9M33.5 77.8h0.9M30.8 32.8h0.8M79.9 0.4h1.1M74.1 20.4h1.1" stroke="#666" stroke-width="0.8" fill="none"/></pattern></defs>
<polygon points="675.7,1561.8 748.4,1603.8 748.4,1700.2 675.7,1658.2" fill="#fff" stroke="#111" stroke-width="1" />
<polygon points="748.4,1603.8 1219.2,1332 1219.2,1428.4 748.4,1700.2" fill="#fff" stroke="#111" stroke-width="1" />
<line x1="675.7" y1="1651.5" x2="748.4" y2="1693.5" stroke="#111" stroke-width="1" />
<line x1="748.4" y1="1693.5" x2="1219.2" y2="1421.7" stroke="#111" stroke-width="1" />
<line x1="675.7" y1="1644.8" x2="748.4" y2="1686.8" stroke="#111" stroke-width="1" />
<line x1="748.4" y1="1686.8" x2="1219.2" y2="1415" stroke="#111" stroke-width="1" />
<line x1="675.7" y1="1638.1" x2="748.4" y2="1680.1" stroke="#111" stroke-width="1" />
<line x1="748.4" y1="1680.1" x2="1219.2" y2="1408.3" stroke="#111" stroke-width="1" />
<line x1="675.7" y1="1631.4" x2="748.4" y2="1673.4" stroke="#111" stroke-width="1" />
<line x1="748.4" y1="1673.4" x2="1219.2" y2="1401.6" stroke="#111" stroke-width="1" />
<line x1="675.7" y1="1624.7" x2="748.4" y2="1666.7" stroke="#111" stroke-width="1" />
<line x1="748.4" y1="1666.7" x2="1219.2" y2="1394.9" stroke="#111" stroke-width="1" />
<line x1="675.7" y1="1618" x2="748.4" y2="1660" stroke="#111" stroke-width="1" />
<line x1="748.4" y1="1660" x2="1219.2" y2="1388.2" stroke="#111" stroke-width="1" />
<line x1="675.7" y1="1611.3" x2="748.4" y2="1653.3" stroke="#111" stroke-width="1" />
<line x1="748.4" y1="1653.3" x2="1219.2" y2="1381.5" stroke="#111" stroke-width="1" />
<line x1="683.9" y1="1663" x2="683.9" y2="1656.3" stroke="#111" stroke-width="1.8" />
<line x1="699.5" y1="1672" x2="699.5" y2="1665.3" stroke="#111" stroke-width="1.8" />
<line x1="715.1" y1="1681" x2="715.1" y2="1674.3" stroke="#111" stroke-width="1.8" />
<line x1="735.8" y1="1693" x2="735.8" y2="1686.3" stroke="#111" stroke-width="1.8" />
<line x1="754.2" y1="1696.8" x2="754.2" y2="1690.1" stroke="#111" stroke-width="1" />
<line x1="788.9" y1="1676.8" x2="788.9" y2="1670.1" stroke="#111" stroke-width="1" />
<line x1="801" y1="1669.8" x2="801" y2="1663.1" stroke="#111" stroke-width="1" />
<line x1="813.1" y1="1662.8" x2="813.1" y2="1656.1" stroke="#111" stroke-width="1" />
<line x1="842.6" y1="1645.8" x2="842.6" y2="1639.1" stroke="#111" stroke-width="1" />
<line x1="877.2" y1="1625.8" x2="877.2" y2="1619.1" stroke="#111" stroke-width="1" />
<line x1="899.7" y1="1612.8" x2="899.7" y2="1606.1" stroke="#111" stroke-width="1" />
<line x1="929.2" y1="1595.8" x2="929.2" y2="1589.1" stroke="#111" stroke-width="1" />
<line x1="963.8" y1="1575.8" x2="963.8" y2="1569.1" stroke="#111" stroke-width="1" />
<line x1="986.3" y1="1562.8" x2="986.3" y2="1556.1" stroke="#111" stroke-width="1" />
<line x1="1015.8" y1="1545.8" x2="1015.8" y2="1539.1" stroke="#111" stroke-width="1" />
<line x1="1050.4" y1="1525.8" x2="1050.4" y2="1519.1" stroke="#111" stroke-width="1" />
<line x1="1062.5" y1="1518.8" x2="1062.5" y2="1512.1" stroke="#111" stroke-width="1" />
<line x1="1092" y1="1501.8" x2="1092" y2="1495.1" stroke="#111" stroke-width="1" />
<line x1="1121.4" y1="1484.8" x2="1121.4" y2="1478.1" stroke="#111" stroke-width="1" />
<line x1="1156.1" y1="1464.8" x2="1156.1" y2="1458.1" stroke="#111" stroke-width="1" />
<line x1="1178.6" y1="1451.8" x2="1178.6" y2="1445.1" stroke="#111" stroke-width="1" />
<line x1="1213.2" y1="1431.8" x2="1213.2" y2="1425.1" stroke="#111" stroke-width="1" />
<line x1="694.7" y1="1662.5" x2="694.7" y2="1655.8" stroke="#111" stroke-width="1.8" />
<line x1="710.3" y1="1671.5" x2="710.3" y2="1664.8" stroke="#111" stroke-width="1.8" />
<line x1="731.1" y1="1683.5" x2="731.1" y2="1676.8" stroke="#111" stroke-width="1.8" />
<line x1="767.8" y1="1682.3" x2="767.8" y2="1675.6" stroke="#111" stroke-width="1" />
<line x1="790.3" y1="1669.3" x2="790.3" y2="1662.6" stroke="#111" stroke-width="1" />
<line x1="802.4" y1="1662.3" x2="802.4" y2="1655.6" stroke="#111" stroke-width="1" />
<line x1="831.9" y1="1645.3" x2="831.9" y2="1638.6" stroke="#111" stroke-width="1" />
<line x1="866.5" y1="1625.3" x2="866.5" y2="1618.6" stroke="#111" stroke-width="1" />
<line x1="889" y1="1612.3" x2="889" y2="1605.6" stroke="#111" stroke-width="1" />
<line x1="923.7" y1="1592.3" x2="923.7" y2="1585.6" stroke="#111" stroke-width="1" />
<line x1="946.2" y1="1579.3" x2="946.2" y2="1572.6" stroke="#111" stroke-width="1" />
<line x1="958.3" y1="1572.3" x2="958.3" y2="1565.6" stroke="#111" stroke-width="1" />
<line x1="993" y1="1552.3" x2="993" y2="1545.6" stroke="#111" stroke-width="1" />
<line x1="1010.3" y1="1542.3" x2="1010.3" y2="1535.6" stroke="#111" stroke-width="1" />
<line x1="1044.9" y1="1522.3" x2="1044.9" y2="1515.6" stroke="#111" stroke-width="1" />
<line x1="1067.4" y1="1509.3" x2="1067.4" y2="1502.6" stroke="#111" stroke-width="1" />
<line x1="1090" y1="1496.3" x2="1090" y2="1489.6" stroke="#111" stroke-width="1" />
<line x1="1119.4" y1="1479.3" x2="1119.4" y2="1472.6" stroke="#111" stroke-width="1" />
<line x1="1141.9" y1="1466.3" x2="1141.9" y2="1459.6" stroke="#111" stroke-width="1" />
<line x1="1176.6" y1="1446.3" x2="1176.6" y2="1439.6" stroke="#111" stroke-width="1" />
<line x1="1211.2" y1="1426.3" x2="1211.2" y2="1419.6" stroke="#111" stroke-width="1" />
<line x1="684.6" y1="1649.9" x2="684.6" y2="1643.2" stroke="#111" stroke-width="1.8" />
<line x1="700.1" y1="1658.9" x2="700.1" y2="1652.2" stroke="#111" stroke-width="1.8" />
<line x1="715.7" y1="1667.9" x2="715.7" y2="1661.2" stroke="#111" stroke-width="1.8" />
<line x1="736.5" y1="1679.9" x2="736.5" y2="1673.2" stroke="#111" stroke-width="1.8" />
<line x1="761.8" y1="1679.1" x2="761.8" y2="1672.4" stroke="#111" stroke-width="1" />
<line x1="796.4" y1="1659.1" x2="796.4" y2="1652.4" stroke="#111" stroke-width="1" />
<line x1="813.8" y1="1649.1" x2="813.8" y2="1642.4" stroke="#111" stroke-width="1" />
<line x1="836.3" y1="1636.1" x2="836.3" y2="1629.4" stroke="#111" stroke-width="1" />
<line x1="853.6" y1="1626.1" x2="853.6" y2="1619.4" stroke="#111" stroke-width="1" />
<line x1="870.9" y1="1616.1" x2="870.9" y2="1609.4" stroke="#111" stroke-width="1" />
<line x1="888.2" y1="1606.1" x2="888.2" y2="1599.4" stroke="#111" stroke-width="1" />
<line x1="917.7" y1="1589.1" x2="917.7" y2="1582.4" stroke="#111" stroke-width="1" />
<line x1="935" y1="1579.1" x2="935" y2="1572.4" stroke="#111" stroke-width="1" />
<line x1="947.1" y1="1572.1" x2="947.1" y2="1565.4" stroke="#111" stroke-width="1" />
<line x1="969.7" y1="1559.1" x2="969.7" y2="1552.4" stroke="#111" stroke-width="1" />
<line x1="999.1" y1="1542.1" x2="999.1" y2="1535.4" stroke="#111" stroke-width="1" />
<line x1="1021.6" y1="1529.1" x2="1021.6" y2="1522.4" stroke="#111" stroke-width="1" />
<line x1="1051.1" y1="1512.1" x2="1051.1" y2="1505.4" stroke="#111" stroke-width="1" />
<line x1="1063.2" y1="1505.1" x2="1063.2" y2="1498.4" stroke="#111" stroke-width="1" />
<line x1="1092.6" y1="1488.1" x2="1092.6" y2="1481.4" stroke="#111" stroke-width="1" />
<line x1="1109.9" y1="1478.1" x2="1109.9" y2="1471.4" stroke="#111" stroke-width="1" />
<line x1="1132.5" y1="1465.1" x2="1132.5" y2="1458.4" stroke="#111" stroke-width="1" />
<line x1="1161.9" y1="1448.1" x2="1161.9" y2="1441.4" stroke="#111" stroke-width="1" />
<line x1="1174" y1="1441.1" x2="1174" y2="1434.4" stroke="#111" stroke-width="1" />
<line x1="1196.5" y1="1428.1" x2="1196.5" y2="1421.4" stroke="#111" stroke-width="1" />
<line x1="693.5" y1="1648.4" x2="693.5" y2="1641.7" stroke="#111" stroke-width="1.8" />
<line x1="714.3" y1="1660.4" x2="714.3" y2="1653.7" stroke="#111" stroke-width="1.8" />
<line x1="735.1" y1="1672.4" x2="735.1" y2="1665.7" stroke="#111" stroke-width="1.8" />
<line x1="760.6" y1="1673.1" x2="760.6" y2="1666.4" stroke="#111" stroke-width="1" />
<line x1="772.7" y1="1666.1" x2="772.7" y2="1659.4" stroke="#111" stroke-width="1" />
<line x1="795.2" y1="1653.1" x2="795.2" y2="1646.4" stroke="#111" stroke-width="1" />
<line x1="824.7" y1="1636.1" x2="824.7" y2="1629.4" stroke="#111" stroke-width="1" />
<line x1="847.2" y1="1623.1" x2="847.2" y2="1616.4" stroke="#111" stroke-width="1" />
<line x1="876.6" y1="1606.1" x2="876.6" y2="1599.4" stroke="#111" stroke-width="1" />
<line x1="888.7" y1="1599.1" x2="888.7" y2="1592.4" stroke="#111" stroke-width="1" />
<line x1="918.2" y1="1582.1" x2="918.2" y2="1575.4" stroke="#111" stroke-width="1" />
<line x1="947.6" y1="1565.1" x2="947.6" y2="1558.4" stroke="#111" stroke-width="1" />
<line x1="965" y1="1555.1" x2="965" y2="1548.4" stroke="#111" stroke-width="1" />
<line x1="999.6" y1="1535.1" x2="999.6" y2="1528.4" stroke="#111" stroke-width="1" />
<line x1="1016.9" y1="1525.1" x2="1016.9" y2="1518.4" stroke="#111" stroke-width="1" />
<line x1="1029" y1="1518.1" x2="1029" y2="1511.4" stroke="#111" stroke-width="1" />
<line x1="1046.4" y1="1508.1" x2="1046.4" y2="1501.4" stroke="#111" stroke-width="1" />
<line x1="1068.9" y1="1495.1" x2="1068.9" y2="1488.4" stroke="#111" stroke-width="1" />
<line x1="1098.3" y1="1478.1" x2="1098.3" y2="1471.4" stroke="#111" stroke-width="1" />
<line x1="1133" y1="1458.1" x2="1133" y2="1451.4" stroke="#111" stroke-width="1" />
<line x1="1150.3" y1="1448.1" x2="1150.3" y2="1441.4" stroke="#111" stroke-width="1" />
<line x1="1184.9" y1="1428.1" x2="1184.9" y2="1421.4" stroke="#111" stroke-width="1" />
<line x1="1207.4" y1="1415.1" x2="1207.4" y2="1408.4" stroke="#111" stroke-width="1" />
<line x1="683.8" y1="1636.1" x2="683.8" y2="1629.4" stroke="#111" stroke-width="1.8" />
<line x1="701.1" y1="1646.1" x2="701.1" y2="1639.4" stroke="#111" stroke-width="1.8" />
<line x1="718.4" y1="1656.1" x2="718.4" y2="1649.4" stroke="#111" stroke-width="1.8" />
<line x1="734" y1="1665.1" x2="734" y2="1658.4" stroke="#111" stroke-width="1.8" />
<line x1="756.2" y1="1668.9" x2="756.2" y2="1662.2" stroke="#111" stroke-width="1" />
<line x1="790.9" y1="1648.9" x2="790.9" y2="1642.2" stroke="#111" stroke-width="1" />
<line x1="813.4" y1="1635.9" x2="813.4" y2="1629.2" stroke="#111" stroke-width="1" />
<line x1="825.5" y1="1628.9" x2="825.5" y2="1622.2" stroke="#111" stroke-width="1" />
<line x1="860.1" y1="1608.9" x2="860.1" y2="1602.2" stroke="#111" stroke-width="1" />
<line x1="877.5" y1="1598.9" x2="877.5" y2="1592.2" stroke="#111" stroke-width="1" />
<line x1="900" y1="1585.9" x2="900" y2="1579.2" stroke="#111" stroke-width="1" />
<line x1="934.6" y1="1565.9" x2="934.6" y2="1559.2" stroke="#111" stroke-width="1" />
<line x1="957.1" y1="1552.9" x2="957.1" y2="1546.2" stroke="#111" stroke-width="1" />
<line x1="979.6" y1="1539.9" x2="979.6" y2="1533.2" stroke="#111" stroke-width="1" />
<line x1="1002.2" y1="1526.9" x2="1002.2" y2="1520.2" stroke="#111" stroke-width="1" />
<line x1="1019.5" y1="1516.9" x2="1019.5" y2="1510.2" stroke="#111" stroke-width="1" />
<line x1="1042" y1="1503.9" x2="1042" y2="1497.2" stroke="#111" stroke-width="1" />
<line x1="1071.4" y1="1486.9" x2="1071.4" y2="1480.2" stroke="#111" stroke-width="1" />
<line x1="1083.6" y1="1479.9" x2="1083.6" y2="1473.2" stroke="#111" stroke-width="1" />
<line x1="1118.2" y1="1459.9" x2="1118.2" y2="1453.2" stroke="#111" stroke-width="1" />
<line x1="1147.7" y1="1442.9" x2="1147.7" y2="1436.2" stroke="#111" stroke-width="1" />
<line x1="1159.8" y1="1435.9" x2="1159.8" y2="1429.2" stroke="#111" stroke-width="1" />
<line x1="1177.1" y1="1425.9" x2="1177.1" y2="1419.2" stroke="#111" stroke-width="1" />
<line x1="1194.4" y1="1415.9" x2="1194.4" y2="1409.2" stroke="#111" stroke-width="1" />
<line x1="694.6" y1="1635.6" x2="694.6" y2="1628.9" stroke="#111" stroke-width="1.8" />
<line x1="711.9" y1="1645.6" x2="711.9" y2="1638.9" stroke="#111" stroke-width="1.8" />
<line x1="732.7" y1="1657.6" x2="732.7" y2="1650.9" stroke="#111" stroke-width="1.8" />
<line x1="768.7" y1="1655" x2="768.7" y2="1648.3" stroke="#111" stroke-width="1" />
<line x1="798.1" y1="1638" x2="798.1" y2="1631.3" stroke="#111" stroke-width="1" />
<line x1="827.6" y1="1621" x2="827.6" y2="1614.3" stroke="#111" stroke-width="1" />
<line x1="850.1" y1="1608" x2="850.1" y2="1601.3" stroke="#111" stroke-width="1" />
<line x1="862.2" y1="1601" x2="862.2" y2="1594.3" stroke="#111" stroke-width="1" />
<line x1="884.7" y1="1588" x2="884.7" y2="1581.3" stroke="#111" stroke-width="1" />
<line x1="914.2" y1="1571" x2="914.2" y2="1564.3" stroke="#111" stroke-width="1" />
<line x1="943.6" y1="1554" x2="943.6" y2="1547.3" stroke="#111" stroke-width="1" />
<line x1="978.3" y1="1534" x2="978.3" y2="1527.3" stroke="#111" stroke-width="1" />
<line x1="1000.8" y1="1521" x2="1000.8" y2="1514.3" stroke="#111" stroke-width="1" />
<line x1="1023.3" y1="1508" x2="1023.3" y2="1501.3" stroke="#111" stroke-width="1" />
<line x1="1040.6" y1="1498" x2="1040.6" y2="1491.3" stroke="#111" stroke-width="1" />
<line x1="1070.1" y1="1481" x2="1070.1" y2="1474.3" stroke="#111" stroke-width="1" />
<line x1="1104.7" y1="1461" x2="1104.7" y2="1454.3" stroke="#111" stroke-width="1" />
<line x1="1122" y1="1451" x2="1122" y2="1444.3" stroke="#111" stroke-width="1" />
<line x1="1156.7" y1="1431" x2="1156.7" y2="1424.3" stroke="#111" stroke-width="1" />
<line x1="1174" y1="1421" x2="1174" y2="1414.3" stroke="#111" stroke-width="1" />
<line x1="1208.6" y1="1401" x2="1208.6" y2="1394.3" stroke="#111" stroke-width="1" />
<line x1="682.8" y1="1622.1" x2="682.8" y2="1615.4" stroke="#111" stroke-width="1.8" />
<line x1="698.4" y1="1631.1" x2="698.4" y2="1624.4" stroke="#111" stroke-width="1.8" />
<line x1="715.7" y1="1641.1" x2="715.7" y2="1634.4" stroke="#111" stroke-width="1.8" />
<line x1="731.3" y1="1650.1" x2="731.3" y2="1643.4" stroke="#111" stroke-width="1.8" />
<line x1="765.8" y1="1649.9" x2="765.8" y2="1643.2" stroke="#111" stroke-width="1" />
<line x1="795.3" y1="1632.9" x2="795.3" y2="1626.2" stroke="#111" stroke-width="1" />
<line x1="824.7" y1="1615.9" x2="824.7" y2="1609.2" stroke="#111" stroke-width="1" />
<line x1="859.4" y1="1595.9" x2="859.4" y2="1589.2" stroke="#111" stroke-width="1" />
<line x1="888.8" y1="1578.9" x2="888.8" y2="1572.2" stroke="#111" stroke-width="1" />
<line x1="918.2" y1="1561.9" x2="918.2" y2="1555.2" stroke="#111" stroke-width="1" />
<line x1="930.4" y1="1554.9" x2="930.4" y2="1548.2" stroke="#111" stroke-width="1" />
<line x1="942.5" y1="1547.9" x2="942.5" y2="1541.2" stroke="#111" stroke-width="1" />
<line x1="977.1" y1="1527.9" x2="977.1" y2="1521.2" stroke="#111" stroke-width="1" />
<line x1="1011.8" y1="1507.9" x2="1011.8" y2="1501.2" stroke="#111" stroke-width="1" />
<line x1="1041.2" y1="1490.9" x2="1041.2" y2="1484.2" stroke="#111" stroke-width="1" />
<line x1="1070.7" y1="1473.9" x2="1070.7" y2="1467.2" stroke="#111" stroke-width="1" />
<line x1="1100.1" y1="1456.9" x2="1100.1" y2="1450.2" stroke="#111" stroke-width="1" />
<line x1="1129.6" y1="1439.9" x2="1129.6" y2="1433.2" stroke="#111" stroke-width="1" />
<line x1="1159" y1="1422.9" x2="1159" y2="1416.2" stroke="#111" stroke-width="1" />
<line x1="1176.3" y1="1412.9" x2="1176.3" y2="1406.2" stroke="#111" stroke-width="1" />
<line x1="1188.4" y1="1405.9" x2="1188.4" y2="1399.2" stroke="#111" stroke-width="1" />
<line x1="692.6" y1="1621.1" x2="692.6" y2="1614.4" stroke="#111" stroke-width="1.8" />
<line x1="708.2" y1="1630.1" x2="708.2" y2="1623.4" stroke="#111" stroke-width="1.8" />
<line x1="729" y1="1642.1" x2="729" y2="1635.4" stroke="#111" stroke-width="1.8" />
<line x1="744.6" y1="1651.1" x2="744.6" y2="1644.4" stroke="#111" stroke-width="1.8" />
<line x1="756.8" y1="1648.5" x2="756.8" y2="1641.8" stroke="#111" stroke-width="1" />
<line x1="774.1" y1="1638.5" x2="774.1" y2="1631.8" stroke="#111" stroke-width="1" />
<line x1="803.5" y1="1621.5" x2="803.5" y2="1614.8" stroke="#111" stroke-width="1" />
<line x1="838.2" y1="1601.5" x2="838.2" y2="1594.8" stroke="#111" stroke-width="1" />
<line x1="850.3" y1="1594.5" x2="850.3" y2="1587.8" stroke="#111" stroke-width="1" />
<line x1="872.8" y1="1581.5" x2="872.8" y2="1574.8" stroke="#111" stroke-width="1" />
<line x1="907.4" y1="1561.5" x2="907.4" y2="1554.8" stroke="#111" stroke-width="1" />
<line x1="930" y1="1548.5" x2="930" y2="1541.8" stroke="#111" stroke-width="1" />
<line x1="959.4" y1="1531.5" x2="959.4" y2="1524.8" stroke="#111" stroke-width="1" />
<line x1="988.9" y1="1514.5" x2="988.9" y2="1507.8" stroke="#111" stroke-width="1" />
<line x1="1001" y1="1507.5" x2="1001" y2="1500.8" stroke="#111" stroke-width="1" />
<line x1="1013.1" y1="1500.5" x2="1013.1" y2="1493.8" stroke="#111" stroke-width="1" />
<line x1="1030.4" y1="1490.5" x2="1030.4" y2="1483.8" stroke="#111" stroke-width="1" />
<line x1="1042.5" y1="1483.5" x2="1042.5" y2="1476.8" stroke="#111" stroke-width="1" />
<line x1="1077.2" y1="1463.5" x2="1077.2" y2="1456.8" stroke="#111" stroke-width="1" />
<line x1="1089.3" y1="1456.5" x2="1089.3" y2="1449.8" stroke="#111" stroke-width="1" />
<line x1="1101.4" y1="1449.5" x2="1101.4" y2="1442.8" stroke="#111" stroke-width="1" />
<line x1="1130.9" y1="1432.5" x2="1130.9" y2="1425.8" stroke="#111" stroke-width="1" />
<line x1="1143" y1="1425.5" x2="1143" y2="1418.8" stroke="#111" stroke-width="1" />
<line x1="1160.3" y1="1415.5" x2="1160.3" y2="1408.8" stroke="#111" stroke-width="1" />
<line x1="1195" y1="1395.5" x2="1195" y2="1388.8" stroke="#111" stroke-width="1" />
<line x1="783" y1="1673.5" x2="783" y2="1633.3" stroke="#111" stroke-width="1" />
<line x1="819.4" y1="1652.5" x2="819.4" y2="1612.3" stroke="#111" stroke-width="1" />
<line x1="850.6" y1="1627.8" x2="850.6" y2="1601" stroke="#111" stroke-width="1" />
<line x1="887" y1="1613.5" x2="887" y2="1573.3" stroke="#111" stroke-width="1" />
<line x1="925.9" y1="1584.3" x2="925.9" y2="1550.8" stroke="#111" stroke-width="1" />
<line x1="964.9" y1="1568.5" x2="964.9" y2="1535" stroke="#111" stroke-width="1" />
<line x1="1008.2" y1="1543.5" x2="1008.2" y2="1503.3" stroke="#111" stroke-width="1" />
<line x1="1047.2" y1="1521" x2="1047.2" y2="1487.5" stroke="#111" stroke-width="1" />
<line x1="1086.1" y1="1491.8" x2="1086.1" y2="1471.7" stroke="#111" stroke-width="1" />
<line x1="1126" y1="1475.5" x2="1126" y2="1448.7" stroke="#111" stroke-width="1" />
<line x1="1164.1" y1="1446.8" x2="1164.1" y2="1413.3" stroke="#111" stroke-width="1" />
<line x1="1198.7" y1="1426.8" x2="1198.7" y2="1406.7" stroke="#111" stroke-width="1" />
<defs><clipPath id="gc"><polygon points="675.7,1566.8 748.4,1608.8 1219.2,1337 1219.2,1385.7 1211.3,1394.2 1203.5,1400.5 1195.6,1403.8 1187.8,1405.5 1179.9,1408.4 1172.1,1413.8 1164.2,1420.3 1156.4,1425.4 1148.6,1427.9 1140.7,1429.3 1132.9,1432.2 1125,1438.4 1117.2,1446.9 1109.3,1455.1 1101.5,1460.8 1093.6,1464.3 1085.8,1467.8 1077.9,1473.3 1070.1,1480.5 1062.2,1486.9 1054.4,1490.3 1046.6,1490.6 1038.7,1490.3 1030.9,1492.1 1023,1496.8 1015.2,1502.6 1007.3,1507 999.5,1509.4 991.6,1511.6 983.8,1516.2 975.9,1523.9 968.1,1533 960.2,1540.6 952.4,1545.2 944.6,1547.8 936.7,1551 928.9,1556.4 921,1563.1 913.2,1568.8 905.3,1571.7 897.5,1572.6 889.6,1574.4 881.8,1579.2 873.9,1586.7 866.1,1594.5 858.2,1600.2 850.4,1603.5 842.6,1606.6 834.7,1611.6 826.9,1618.6 819,1625.7 811.2,1630 803.3,1631.1 795.5,1630.9 787.6,1632.3 779.8,1636.6 771.9,1642.3 764.1,1647.1 756.2,1649.8 748.4,1651.9 748.4,1669.1 742.3,1662.7 736.3,1655.9 730.2,1650.2 724.2,1646.4 718.1,1644.3 712,1642.9 706,1641 699.9,1637.6 693.8,1632.9 687.8,1627.8 681.7,1623.6 675.7,1620.9"/></clipPath></defs>
<g clip-path="url(#gc)"><polygon points="675.7,1566.8 748.4,1608.8 1219.2,1337 1219.2,1385.7 1211.3,1394.2 1203.5,1400.5 1195.6,1403.8 1187.8,1405.5 1179.9,1408.4 1172.1,1413.8 1164.2,1420.3 1156.4,1425.4 1148.6,1427.9 1140.7,1429.3 1132.9,1432.2 1125,1438.4 1117.2,1446.9 1109.3,1455.1 1101.5,1460.8 1093.6,1464.3 1085.8,1467.8 1077.9,1473.3 1070.1,1480.5 1062.2,1486.9 1054.4,1490.3 1046.6,1490.6 1038.7,1490.3 1030.9,1492.1 1023,1496.8 1015.2,1502.6 1007.3,1507 999.5,1509.4 991.6,1511.6 983.8,1516.2 975.9,1523.9 968.1,1533 960.2,1540.6 952.4,1545.2 944.6,1547.8 936.7,1551 928.9,1556.4 921,1563.1 913.2,1568.8 905.3,1571.7 897.5,1572.6 889.6,1574.4 881.8,1579.2 873.9,1586.7 866.1,1594.5 858.2,1600.2 850.4,1603.5 842.6,1606.6 834.7,1611.6 826.9,1618.6 819,1625.7 811.2,1630 803.3,1631.1 795.5,1630.9 787.6,1632.3 779.8,1636.6 771.9,1642.3 764.1,1647.1 756.2,1649.8 748.4,1651.9 748.4,1669.1 742.3,1662.7 736.3,1655.9 730.2,1650.2 724.2,1646.4 718.1,1644.3 712,1642.9 706,1641 699.9,1637.6 693.8,1632.9 687.8,1627.8 681.7,1623.6 675.7,1620.9" fill="#fff"/>
<g fill="#fff" stroke="#333" stroke-width="0.9"><ellipse cx="868.5" cy="1593.3" rx="2.3" ry="1.9" transform="rotate(-6 868.5 1593.3)"/><ellipse cx="697.8" cy="1633.9" rx="2.7" ry="2.5" transform="rotate(-19 697.8 1633.9)"/><ellipse cx="772.9" cy="1627.5" rx="2" ry="1.6" transform="rotate(0 772.9 1627.5)"/><ellipse cx="920.6" cy="1559.5" rx="1.7" ry="1.7" transform="rotate(4 920.6 1559.5)"/><ellipse cx="698.5" cy="1612.6" rx="2.1" ry="1.7" transform="rotate(-14 698.5 1612.6)"/><ellipse cx="1123.2" cy="1409.4" rx="2.5" ry="2.4" transform="rotate(7 1123.2 1409.4)"/><ellipse cx="1188.5" cy="1381.6" rx="2.8" ry="1.9" transform="rotate(-5 1188.5 1381.6)"/><ellipse cx="771.5" cy="1649.6" rx="1.5" ry="1.3" transform="rotate(-25 771.5 1649.6)"/><ellipse cx="1012.5" cy="1506.3" rx="2.2" ry="1.9" transform="rotate(13 1012.5 1506.3)"/><ellipse cx="847.7" cy="1603.9" rx="1.6" ry="1.6" transform="rotate(-23 847.7 1603.9)"/><ellipse cx="682.6" cy="1619.8" rx="2.9" ry="2.3" transform="rotate(12 682.6 1619.8)"/><ellipse cx="1174.9" cy="1405.2" rx="1.6" ry="1.1" transform="rotate(15 1174.9 1405.2)"/><ellipse cx="736.5" cy="1619" rx="1.8" ry="1.5" transform="rotate(-14 736.5 1619)"/><ellipse cx="820.9" cy="1624.2" rx="1.9" ry="1.8" transform="rotate(-27 820.9 1624.2)"/><ellipse cx="1209.8" cy="1365.9" rx="1.5" ry="1.1" transform="rotate(11 1209.8 1365.9)"/><ellipse cx="1005.3" cy="1464.6" rx="2.1" ry="1.9" transform="rotate(-5 1005.3 1464.6)"/><ellipse cx="802.2" cy="1629.6" rx="1.6" ry="1.6" transform="rotate(39 802.2 1629.6)"/><ellipse cx="996.2" cy="1482.6" rx="2" ry="1.8" transform="rotate(0 996.2 1482.6)"/><ellipse cx="792.2" cy="1613" rx="2.8" ry="2.4" transform="rotate(3 792.2 1613)"/><ellipse cx="685.8" cy="1588.3" rx="2.8" ry="2.7" transform="rotate(-21 685.8 1588.3)"/><ellipse cx="763.7" cy="1636.9" rx="2.9" ry="2.3" transform="rotate(35 763.7 1636.9)"/><ellipse cx="772" cy="1614.8" rx="2.1" ry="1.6" transform="rotate(19 772 1614.8)"/><ellipse cx="1119.2" cy="1412.1" rx="1.5" ry="1.3" transform="rotate(-32 1119.2 1412.1)"/><ellipse cx="1119.4" cy="1431.3" rx="2.1" ry="1.4" transform="rotate(1 1119.4 1431.3)"/><ellipse cx="722.7" cy="1600.5" rx="2.3" ry="1.8" transform="rotate(-10 722.7 1600.5)"/><ellipse cx="825.6" cy="1573.3" rx="2.9" ry="2.2" transform="rotate(27 825.6 1573.3)"/><ellipse cx="974.5" cy="1486" rx="1.6" ry="1.5" transform="rotate(-30 974.5 1486)"/><ellipse cx="1000.7" cy="1468.8" rx="2.1" ry="1.5" transform="rotate(2 1000.7 1468.8)"/><ellipse cx="921.1" cy="1519.9" rx="2" ry="1.5" transform="rotate(-29 921.1 1519.9)"/><ellipse cx="1158.7" cy="1402.5" rx="2.8" ry="1.9" transform="rotate(35 1158.7 1402.5)"/><ellipse cx="1120.8" cy="1428.9" rx="2.5" ry="1.8" transform="rotate(20 1120.8 1428.9)"/><ellipse cx="872.8" cy="1537" rx="2" ry="1.7" transform="rotate(-16 872.8 1537)"/><ellipse cx="788.1" cy="1621.5" rx="1.8" ry="1.5" transform="rotate(22 788.1 1621.5)"/><ellipse cx="777.7" cy="1605.9" rx="2.4" ry="2.3" transform="rotate(-36 777.7 1605.9)"/><ellipse cx="1074.1" cy="1471.7" rx="1.9" ry="1.8" transform="rotate(-3 1074.1 1471.7)"/><ellipse cx="753.5" cy="1665" rx="2.1" ry="1.6" transform="rotate(-32 753.5 1665)"/><ellipse cx="1093.8" cy="1451.5" rx="1.6" ry="1.3" transform="rotate(-28 1093.8 1451.5)"/><ellipse cx="851.8" cy="1568.6" rx="3" ry="3" transform="rotate(23 851.8 1568.6)"/><ellipse cx="982.5" cy="1522.3" rx="2.9" ry="2.6" transform="rotate(10 982.5 1522.3)"/><ellipse cx="1042.7" cy="1491.9" rx="2.7" ry="1.8" transform="rotate(17 1042.7 1491.9)"/><ellipse cx="824.8" cy="1625.5" rx="2.5" ry="2.3" transform="rotate(-29 824.8 1625.5)"/><ellipse cx="1189.6" cy="1410.9" rx="2.6" ry="2.4" transform="rotate(24 1189.6 1410.9)"/><ellipse cx="953.3" cy="1542.1" rx="2.7" ry="2.5" transform="rotate(-16 953.3 1542.1)"/><ellipse cx="998.7" cy="1523.8" rx="1.6" ry="1.6" transform="rotate(22 998.7 1523.8)"/><ellipse cx="1143.1" cy="1394" rx="1.7" ry="1.4" transform="rotate(-21 1143.1 1394)"/><ellipse cx="1175.9" cy="1404.5" rx="2.5" ry="2" transform="rotate(22 1175.9 1404.5)"/><ellipse cx="1069.9" cy="1482.4" rx="2.7" ry="2.2" transform="rotate(-33 1069.9 1482.4)"/><ellipse cx="1142.1" cy="1401.6" rx="2.4" ry="2.2" transform="rotate(23 1142.1 1401.6)"/><ellipse cx="711.2" cy="1586.4" rx="1.6" ry="1.5" transform="rotate(-6 711.2 1586.4)"/><ellipse cx="963.8" cy="1504.3" rx="1.7" ry="1.3" transform="rotate(27 963.8 1504.3)"/><ellipse cx="885.9" cy="1533.1" rx="1.8" ry="1.6" transform="rotate(-4 885.9 1533.1)"/><ellipse cx="1128.4" cy="1395.3" rx="2.5" ry="1.7" transform="rotate(25 1128.4 1395.3)"/><ellipse cx="876.2" cy="1595.3" rx="2" ry="1.4" transform="rotate(31 876.2 1595.3)"/><ellipse cx="1169.2" cy="1389.5" rx="2.2" ry="2.2" transform="rotate(0 1169.2 1389.5)"/><ellipse cx="837.6" cy="1609.3" rx="1.7" ry="1.4" transform="rotate(-39 837.6 1609.3)"/><ellipse cx="1193.3" cy="1379.5" rx="2.7" ry="2" transform="rotate(-11 1193.3 1379.5)"/><ellipse cx="715.9" cy="1644.1" rx="2.2" ry="1.7" transform="rotate(34 715.9 1644.1)"/><ellipse cx="1062.1" cy="1430.6" rx="2.4" ry="1.9" transform="rotate(36 1062.1 1430.6)"/><ellipse cx="1059.7" cy="1468.2" rx="2" ry="1.7" transform="rotate(14 1059.7 1468.2)"/><ellipse cx="982.9" cy="1495.1" rx="3" ry="2" transform="rotate(26 982.9 1495.1)"/><ellipse cx="1010.8" cy="1484.4" rx="2.6" ry="2.5" transform="rotate(18 1010.8 1484.4)"/><ellipse cx="764.9" cy="1618.4" rx="1.6" ry="1.6" transform="rotate(31 764.9 1618.4)"/><ellipse cx="1025" cy="1484.6" rx="1.5" ry="1.2" transform="rotate(19 1025 1484.6)"/><ellipse cx="880.6" cy="1580" rx="1.9" ry="1.6" transform="rotate(-6 880.6 1580)"/><ellipse cx="1053.8" cy="1482.8" rx="2.5" ry="1.9" transform="rotate(37 1053.8 1482.8)"/><ellipse cx="1073.6" cy="1437.1" rx="1.7" ry="1.4" transform="rotate(26 1073.6 1437.1)"/><ellipse cx="911.9" cy="1521.5" rx="2.2" ry="2.1" transform="rotate(-27 911.9 1521.5)"/><ellipse cx="828.8" cy="1580.7" rx="1.5" ry="1.1" transform="rotate(-9 828.8 1580.7)"/><ellipse cx="1201.3" cy="1357.5" rx="1.9" ry="1.9" transform="rotate(-24 1201.3 1357.5)"/><ellipse cx="954.7" cy="1494.7" rx="1.8" ry="1.4" transform="rotate(-9 954.7 1494.7)"/><ellipse cx="874" cy="1547.5" rx="2.9" ry="2.3" transform="rotate(26 874 1547.5)"/><ellipse cx="1115" cy="1415.6" rx="1.6" ry="1.5" transform="rotate(-2 1115 1415.6)"/><ellipse cx="1064.1" cy="1473.5" rx="1.8" ry="1.4" transform="rotate(33 1064.1 1473.5)"/><ellipse cx="884.2" cy="1569.4" rx="1.8" ry="1.7" transform="rotate(-36 884.2 1569.4)"/><ellipse cx="1015.1" cy="1475.8" rx="2.9" ry="2.2" transform="rotate(-20 1015.1 1475.8)"/><ellipse cx="715.6" cy="1636.8" rx="2.5" ry="2" transform="rotate(24 715.6 1636.8)"/><ellipse cx="698" cy="1619.6" rx="2.9" ry="2.6" transform="rotate(15 698 1619.6)"/><ellipse cx="934.1" cy="1560.7" rx="2.6" ry="2" transform="rotate(-8 934.1 1560.7)"/><ellipse cx="913" cy="1523.8" rx="2.8" ry="2.3" transform="rotate(1 913 1523.8)"/><ellipse cx="1172.8" cy="1370.5" rx="1.9" ry="1.3" transform="rotate(-6 1172.8 1370.5)"/><ellipse cx="1149.5" cy="1418.7" rx="2.3" ry="1.8" transform="rotate(5 1149.5 1418.7)"/><ellipse cx="1146.1" cy="1428.4" rx="2.7" ry="1.9" transform="rotate(13 1146.1 1428.4)"/><ellipse cx="984.1" cy="1529.1" rx="2.8" ry="2.6" transform="rotate(25 984.1 1529.1)"/><ellipse cx="1162.1" cy="1376.5" rx="2.5" ry="2.3" transform="rotate(8 1162.1 1376.5)"/><ellipse cx="780.1" cy="1627.7" rx="2.7" ry="2" transform="rotate(-22 780.1 1627.7)"/><ellipse cx="792.6" cy="1625.2" rx="3" ry="2.8" transform="rotate(-11 792.6 1625.2)"/><ellipse cx="782.4" cy="1641.7" rx="1.9" ry="1.3" transform="rotate(10 782.4 1641.7)"/><ellipse cx="877.9" cy="1535.9" rx="2.1" ry="1.8" transform="rotate(24 877.9 1535.9)"/><ellipse cx="735.8" cy="1606.7" rx="1.8" ry="1.5" transform="rotate(-12 735.8 1606.7)"/><ellipse cx="1016" cy="1466.5" rx="2.7" ry="1.9" transform="rotate(27 1016 1466.5)"/><ellipse cx="1001.2" cy="1462.8" rx="2.6" ry="1.7" transform="rotate(0 1001.2 1462.8)"/><ellipse cx="778.1" cy="1630.6" rx="2.6" ry="2.2" transform="rotate(-7 778.1 1630.6)"/><ellipse cx="1025.6" cy="1461.5" rx="2.8" ry="2.8" transform="rotate(24 1025.6 1461.5)"/><ellipse cx="903.5" cy="1581.4" rx="1.5" ry="1.2" transform="rotate(-29 903.5 1581.4)"/><ellipse cx="1069.8" cy="1467.3" rx="2.1" ry="1.6" transform="rotate(-24 1069.8 1467.3)"/><ellipse cx="881.4" cy="1542.6" rx="2.6" ry="2.1" transform="rotate(-4 881.4 1542.6)"/><ellipse cx="1079.7" cy="1428.3" rx="1.8" ry="1.5" transform="rotate(16 1079.7 1428.3)"/><ellipse cx="1100.4" cy="1465.2" rx="2.9" ry="2.6" transform="rotate(17 1100.4 1465.2)"/><ellipse cx="690.6" cy="1574.3" rx="2.8" ry="2.5" transform="rotate(10 690.6 1574.3)"/><ellipse cx="915.7" cy="1520.8" rx="2.4" ry="2.4" transform="rotate(-15 915.7 1520.8)"/><ellipse cx="688.4" cy="1595.2" rx="2.8" ry="2.6" transform="rotate(-3 688.4 1595.2)"/><ellipse cx="683.4" cy="1579.3" rx="2.6" ry="2.2" transform="rotate(39 683.4 1579.3)"/><ellipse cx="1122.5" cy="1421.7" rx="2.7" ry="1.9" transform="rotate(-31 1122.5 1421.7)"/><ellipse cx="987.5" cy="1482.3" rx="1.8" ry="1.2" transform="rotate(32 987.5 1482.3)"/><ellipse cx="1193.4" cy="1413.6" rx="2.1" ry="1.9" transform="rotate(-9 1193.4 1413.6)"/><ellipse cx="1144.5" cy="1386.8" rx="1.4" ry="1" transform="rotate(6 1144.5 1386.8)"/><ellipse cx="752.7" cy="1658.3" rx="2.7" ry="2.2" transform="rotate(-36 752.7 1658.3)"/><ellipse cx="999.9" cy="1466.2" rx="1.9" ry="1.7" transform="rotate(30 999.9 1466.2)"/><ellipse cx="1049.4" cy="1446.4" rx="1.8" ry="1.7" transform="rotate(-9 1049.4 1446.4)"/><ellipse cx="718.7" cy="1597.8" rx="1.7" ry="1.4" transform="rotate(6 718.7 1597.8)"/><ellipse cx="1081.2" cy="1443.2" rx="1.5" ry="1.4" transform="rotate(-35 1081.2 1443.2)"/><ellipse cx="936.8" cy="1541.8" rx="2.5" ry="1.9" transform="rotate(11 936.8 1541.8)"/><ellipse cx="970.5" cy="1487.8" rx="2.9" ry="2.5" transform="rotate(-34 970.5 1487.8)"/><ellipse cx="1213" cy="1353.4" rx="2" ry="1.9" transform="rotate(25 1213 1353.4)"/><ellipse cx="1097.5" cy="1407.7" rx="1.6" ry="1.5" transform="rotate(24 1097.5 1407.7)"/><ellipse cx="679.2" cy="1582.5" rx="2.9" ry="2.1" transform="rotate(13 679.2 1582.5)"/><ellipse cx="1049.1" cy="1493" rx="1.8" ry="1.3" transform="rotate(-38 1049.1 1493)"/><ellipse cx="797.3" cy="1641.8" rx="2.5" ry="1.8" transform="rotate(24 797.3 1641.8)"/><ellipse cx="989.5" cy="1474.5" rx="2.7" ry="2.6" transform="rotate(33 989.5 1474.5)"/><ellipse cx="737.6" cy="1636.7" rx="2.7" ry="2.2" transform="rotate(9 737.6 1636.7)"/><ellipse cx="1124.8" cy="1394.5" rx="1.5" ry="1.3" transform="rotate(-16 1124.8 1394.5)"/><ellipse cx="752" cy="1653.2" rx="1.4" ry="1.4" transform="rotate(24 752 1653.2)"/><ellipse cx="805.9" cy="1615.9" rx="1.7" ry="1.4" transform="rotate(-31 805.9 1615.9)"/><ellipse cx="1005.5" cy="1481.3" rx="1.6" ry="1.4" transform="rotate(27 1005.5 1481.3)"/><ellipse cx="796.1" cy="1603.1" rx="1.9" ry="1.7" transform="rotate(-28 796.1 1603.1)"/><ellipse cx="1209.1" cy="1390.8" rx="1.4" ry="1" transform="rotate(-30 1209.1 1390.8)"/><ellipse cx="1030.3" cy="1477.9" rx="2.1" ry="1.7" transform="rotate(8 1030.3 1477.9)"/><ellipse cx="1179.8" cy="1405.3" rx="2.7" ry="2.6" transform="rotate(26 1179.8 1405.3)"/><ellipse cx="762.8" cy="1642.7" rx="2.8" ry="2.2" transform="rotate(30 762.8 1642.7)"/><ellipse cx="1192.2" cy="1379.3" rx="2.5" ry="1.9" transform="rotate(-15 1192.2 1379.3)"/><ellipse cx="901.1" cy="1524.8" rx="2.1" ry="2.1" transform="rotate(12 901.1 1524.8)"/><ellipse cx="1107.3" cy="1454" rx="3" ry="2.7" transform="rotate(-18 1107.3 1454)"/><ellipse cx="942.6" cy="1496.1" rx="1.8" ry="1.7" transform="rotate(33 942.6 1496.1)"/><ellipse cx="1111.1" cy="1447.8" rx="2.8" ry="2.6" transform="rotate(2 1111.1 1447.8)"/><ellipse cx="735.7" cy="1619.9" rx="2.4" ry="1.9" transform="rotate(2 735.7 1619.9)"/><ellipse cx="824.2" cy="1597.5" rx="2.4" ry="2" transform="rotate(35 824.2 1597.5)"/><ellipse cx="1178.6" cy="1403.3" rx="2.9" ry="2" transform="rotate(-23 1178.6 1403.3)"/><ellipse cx="1175.2" cy="1361.3" rx="1.8" ry="1.6" transform="rotate(39 1175.2 1361.3)"/><ellipse cx="954.6" cy="1532.4" rx="2.5" ry="2.3" transform="rotate(20 954.6 1532.4)"/><ellipse cx="869.4" cy="1538.7" rx="2.5" ry="1.8" transform="rotate(-19 869.4 1538.7)"/><ellipse cx="1051.2" cy="1470.4" rx="2.4" ry="2.1" transform="rotate(15 1051.2 1470.4)"/><ellipse cx="778.5" cy="1593.8" rx="1.4" ry="1.1" transform="rotate(-28 778.5 1593.8)"/><ellipse cx="711.6" cy="1648.6" rx="2.5" ry="1.9" transform="rotate(21 711.6 1648.6)"/><ellipse cx="795.5" cy="1599.3" rx="2.1" ry="1.8" transform="rotate(-4 795.5 1599.3)"/><ellipse cx="793" cy="1641.6" rx="1.9" ry="1.8" transform="rotate(-37 793 1641.6)"/><ellipse cx="854.9" cy="1600.9" rx="2.7" ry="2.4" transform="rotate(-17 854.9 1600.9)"/><ellipse cx="689.5" cy="1631.6" rx="1.7" ry="1.5" transform="rotate(6 689.5 1631.6)"/><ellipse cx="833.4" cy="1567" rx="1.6" ry="1.5" transform="rotate(-9 833.4 1567)"/><ellipse cx="1016.6" cy="1466.5" rx="1.5" ry="1" transform="rotate(28 1016.6 1466.5)"/><ellipse cx="745.7" cy="1628.9" rx="2.6" ry="1.8" transform="rotate(23 745.7 1628.9)"/><ellipse cx="920.8" cy="1541.3" rx="1.6" ry="1.2" transform="rotate(23 920.8 1541.3)"/><ellipse cx="927.7" cy="1553" rx="1.8" ry="1.3" transform="rotate(-22 927.7 1553)"/><ellipse cx="920.4" cy="1549.2" rx="2.2" ry="2.1" transform="rotate(-35 920.4 1549.2)"/><ellipse cx="1142.2" cy="1394.7" rx="1.4" ry="1.2" transform="rotate(-30 1142.2 1394.7)"/><ellipse cx="1083.4" cy="1419.5" rx="1.6" ry="1.3" transform="rotate(-26 1083.4 1419.5)"/><ellipse cx="955.7" cy="1494.8" rx="1.5" ry="1.2" transform="rotate(-2 955.7 1494.8)"/><ellipse cx="1009.6" cy="1460.7" rx="1.8" ry="1.6" transform="rotate(5 1009.6 1460.7)"/><ellipse cx="1201.5" cy="1401" rx="1.6" ry="1.5" transform="rotate(1 1201.5 1401)"/><ellipse cx="828.7" cy="1616.6" rx="1.7" ry="1.2" transform="rotate(-18 828.7 1616.6)"/><ellipse cx="965.4" cy="1529.1" rx="1.5" ry="1.2" transform="rotate(-14 965.4 1529.1)"/><ellipse cx="1060.5" cy="1450.1" rx="1.6" ry="1.6" transform="rotate(-1 1060.5 1450.1)"/><ellipse cx="753.5" cy="1646.3" rx="2.2" ry="1.5" transform="rotate(-2 753.5 1646.3)"/><ellipse cx="1001.3" cy="1476" rx="2.2" ry="1.9" transform="rotate(12 1001.3 1476)"/><ellipse cx="1126.7" cy="1449.8" rx="2.6" ry="2.5" transform="rotate(-10 1126.7 1449.8)"/><ellipse cx="834" cy="1572.2" rx="2.4" ry="2.3" transform="rotate(-33 834 1572.2)"/><ellipse cx="765.3" cy="1625.6" rx="1.6" ry="1.2" transform="rotate(19 765.3 1625.6)"/><ellipse cx="1190.7" cy="1377.6" rx="2.5" ry="1.6" transform="rotate(35 1190.7 1377.6)"/><ellipse cx="973" cy="1510.4" rx="2.9" ry="2.4" transform="rotate(39 973 1510.4)"/><ellipse cx="850.3" cy="1602.2" rx="1.7" ry="1.7" transform="rotate(-3 850.3 1602.2)"/><ellipse cx="1200.9" cy="1366.5" rx="2.1" ry="1.6" transform="rotate(13 1200.9 1366.5)"/><ellipse cx="702.9" cy="1591" rx="2.7" ry="1.8" transform="rotate(8 702.9 1591)"/><ellipse cx="962.2" cy="1519.9" rx="2.5" ry="1.8" transform="rotate(-20 962.2 1519.9)"/><ellipse cx="745.5" cy="1614.8" rx="1.6" ry="1.3" transform="rotate(6 745.5 1614.8)"/><ellipse cx="775.2" cy="1606.6" rx="1.7" ry="1.4" transform="rotate(-3 775.2 1606.6)"/><ellipse cx="1166.6" cy="1408.4" rx="2.8" ry="2.7" transform="rotate(-18 1166.6 1408.4)"/><ellipse cx="940.4" cy="1499.3" rx="2.9" ry="2" transform="rotate(-38 940.4 1499.3)"/><ellipse cx="884.4" cy="1591.1" rx="2.8" ry="2.2" transform="rotate(2 884.4 1591.1)"/><ellipse cx="1128.3" cy="1429.9" rx="2.2" ry="1.5" transform="rotate(-20 1128.3 1429.9)"/><ellipse cx="1024.4" cy="1499.5" rx="2.8" ry="2.8" transform="rotate(-24 1024.4 1499.5)"/><ellipse cx="740.9" cy="1639.6" rx="1.7" ry="1.5" transform="rotate(-19 740.9 1639.6)"/><ellipse cx="920.8" cy="1541.3" rx="2.5" ry="1.7" transform="rotate(19 920.8 1541.3)"/><ellipse cx="970.5" cy="1522.3" rx="2.7" ry="1.8" transform="rotate(-1 970.5 1522.3)"/><ellipse cx="1082.2" cy="1456.1" rx="1.7" ry="1.7" transform="rotate(22 1082.2 1456.1)"/><ellipse cx="951.1" cy="1552" rx="1.7" ry="1.4" transform="rotate(36 951.1 1552)"/><ellipse cx="857.9" cy="1591.4" rx="2" ry="1.7" transform="rotate(21 857.9 1591.4)"/><ellipse cx="691.8" cy="1588.1" rx="1.8" ry="1.2" transform="rotate(-29 691.8 1588.1)"/><ellipse cx="946.5" cy="1497.5" rx="2.3" ry="2.3" transform="rotate(6 946.5 1497.5)"/><ellipse cx="1080" cy="1443.8" rx="1.7" ry="1.4" transform="rotate(-38 1080 1443.8)"/><ellipse cx="824.2" cy="1587.1" rx="2.9" ry="2.7" transform="rotate(26 824.2 1587.1)"/><ellipse cx="1047.1" cy="1480.1" rx="2.9" ry="2.1" transform="rotate(21 1047.1 1480.1)"/><ellipse cx="868.8" cy="1590.7" rx="2.4" ry="2.2" transform="rotate(30 868.8 1590.7)"/><ellipse cx="841.8" cy="1553.9" rx="2.3" ry="2" transform="rotate(-18 841.8 1553.9)"/><ellipse cx="676" cy="1576.3" rx="2.5" ry="1.6" transform="rotate(-21 676 1576.3)"/><ellipse cx="1083.2" cy="1477.7" rx="1.4" ry="1" transform="rotate(34 1083.2 1477.7)"/><ellipse cx="818.4" cy="1588.2" rx="2.2" ry="1.7" transform="rotate(-6 818.4 1588.2)"/><ellipse cx="870.1" cy="1540.1" rx="1.5" ry="1.1" transform="rotate(-32 870.1 1540.1)"/><ellipse cx="1076.4" cy="1434.5" rx="2.7" ry="2.4" transform="rotate(-12 1076.4 1434.5)"/><ellipse cx="837.1" cy="1616" rx="2.3" ry="1.5" transform="rotate(-27 837.1 1616)"/><ellipse cx="929.8" cy="1548.7" rx="1.8" ry="1.6" transform="rotate(24 929.8 1548.7)"/><ellipse cx="718.3" cy="1601.9" rx="2.5" ry="2.4" transform="rotate(23 718.3 1601.9)"/><ellipse cx="792.3" cy="1624.6" rx="2.3" ry="1.6" transform="rotate(-24 792.3 1624.6)"/><ellipse cx="799.2" cy="1618.7" rx="1.8" ry="1.3" transform="rotate(-6 799.2 1618.7)"/><ellipse cx="1089.4" cy="1411.9" rx="2.6" ry="1.9" transform="rotate(-16 1089.4 1411.9)"/><ellipse cx="1073.8" cy="1458.9" rx="2.8" ry="2.1" transform="rotate(-15 1073.8 1458.9)"/><ellipse cx="871.2" cy="1546.1" rx="1.8" ry="1.6" transform="rotate(26 871.2 1546.1)"/><ellipse cx="1199.7" cy="1397.9" rx="1.9" ry="1.4" transform="rotate(17 1199.7 1397.9)"/><ellipse cx="720" cy="1596.2" rx="1.5" ry="1.2" transform="rotate(-27 720 1596.2)"/><ellipse cx="1161.4" cy="1398.4" rx="1.7" ry="1.2" transform="rotate(0 1161.4 1398.4)"/><ellipse cx="919.2" cy="1554.7" rx="2.2" ry="2.1" transform="rotate(-31 919.2 1554.7)"/><ellipse cx="703.8" cy="1612.5" rx="1.8" ry="1.6" transform="rotate(-22 703.8 1612.5)"/><ellipse cx="972.9" cy="1523.5" rx="2.6" ry="2.1" transform="rotate(-4 972.9 1523.5)"/><ellipse cx="1188.1" cy="1393.2" rx="1.6" ry="1.3" transform="rotate(10 1188.1 1393.2)"/><ellipse cx="766" cy="1660.4" rx="2.9" ry="2" transform="rotate(-2 766 1660.4)"/><ellipse cx="889.6" cy="1529.7" rx="2.6" ry="2.4" transform="rotate(-5 889.6 1529.7)"/><ellipse cx="704.3" cy="1587.5" rx="2.9" ry="2" transform="rotate(-16 704.3 1587.5)"/><ellipse cx="812" cy="1577" rx="1.5" ry="1.1" transform="rotate(2 812 1577)"/><ellipse cx="828" cy="1572.1" rx="2.6" ry="2.1" transform="rotate(-12 828 1572.1)"/><ellipse cx="693.3" cy="1638.2" rx="1.6" ry="1.2" transform="rotate(19 693.3 1638.2)"/><ellipse cx="1174.1" cy="1391.8" rx="2.9" ry="2.5" transform="rotate(-16 1174.1 1391.8)"/><ellipse cx="1085.5" cy="1459.9" rx="1.6" ry="1.2" transform="rotate(36 1085.5 1459.9)"/><ellipse cx="734.8" cy="1621" rx="1.8" ry="1.3" transform="rotate(-2 734.8 1621)"/><ellipse cx="818.3" cy="1622" rx="1.9" ry="1.4" transform="rotate(19 818.3 1622)"/><ellipse cx="836.7" cy="1583" rx="2.7" ry="2.6" transform="rotate(5 836.7 1583)"/><ellipse cx="731.2" cy="1636.3" rx="2.8" ry="2.8" transform="rotate(-13 731.2 1636.3)"/><ellipse cx="1133.9" cy="1401.5" rx="2" ry="1.6" transform="rotate(-11 1133.9 1401.5)"/><ellipse cx="800.3" cy="1591.6" rx="2.9" ry="2.3" transform="rotate(10 800.3 1591.6)"/><ellipse cx="1104.1" cy="1417.3" rx="2.9" ry="2.7" transform="rotate(39 1104.1 1417.3)"/><ellipse cx="1103.8" cy="1454.5" rx="1.8" ry="1.6" transform="rotate(-9 1103.8 1454.5)"/><ellipse cx="811.3" cy="1605.5" rx="1.9" ry="1.8" transform="rotate(-12 811.3 1605.5)"/><ellipse cx="1147.6" cy="1433.5" rx="1.6" ry="1.6" transform="rotate(19 1147.6 1433.5)"/><ellipse cx="1055.6" cy="1432.6" rx="2.8" ry="2.4" transform="rotate(-3 1055.6 1432.6)"/><ellipse cx="1117" cy="1444.9" rx="2.8" ry="2" transform="rotate(-12 1117 1444.9)"/><ellipse cx="795.7" cy="1600.8" rx="1.4" ry="1.3" transform="rotate(-21 795.7 1600.8)"/><ellipse cx="680.6" cy="1615.8" rx="1.7" ry="1.4" transform="rotate(-7 680.6 1615.8)"/><ellipse cx="1197.5" cy="1367.6" rx="2.4" ry="2.3" transform="rotate(-2 1197.5 1367.6)"/><ellipse cx="1093.8" cy="1427.6" rx="2.8" ry="2.4" transform="rotate(-31 1093.8 1427.6)"/><ellipse cx="1138.8" cy="1415.1" rx="2.2" ry="1.7" transform="rotate(30 1138.8 1415.1)"/><ellipse cx="846.3" cy="1573.8" rx="2" ry="2" transform="rotate(15 846.3 1573.8)"/><ellipse cx="742.2" cy="1605.5" rx="2.3" ry="1.9" transform="rotate(17 742.2 1605.5)"/><ellipse cx="791.9" cy="1615.7" rx="2.7" ry="2.5" transform="rotate(-11 791.9 1615.7)"/><ellipse cx="1099" cy="1456.5" rx="1.8" ry="1.7" transform="rotate(39 1099 1456.5)"/><ellipse cx="927.6" cy="1549.5" rx="2.9" ry="2.1" transform="rotate(-15 927.6 1549.5)"/><ellipse cx="1093.1" cy="1419.9" rx="2.3" ry="1.9" transform="rotate(13 1093.1 1419.9)"/><ellipse cx="1198.8" cy="1411.8" rx="2.3" ry="2.1" transform="rotate(-25 1198.8 1411.8)"/><ellipse cx="1008" cy="1506.3" rx="2.8" ry="2.2" transform="rotate(33 1008 1506.3)"/><ellipse cx="759.4" cy="1633.1" rx="2.8" ry="2.7" transform="rotate(36 759.4 1633.1)"/><ellipse cx="1187.5" cy="1389.7" rx="1.6" ry="1.4" transform="rotate(24 1187.5 1389.7)"/><ellipse cx="1031.9" cy="1460" rx="1.8" ry="1.5" transform="rotate(1 1031.9 1460)"/><ellipse cx="791.9" cy="1582.1" rx="1.9" ry="1.8" transform="rotate(19 791.9 1582.1)"/><ellipse cx="868.7" cy="1570.9" rx="1.7" ry="1.4" transform="rotate(32 868.7 1570.9)"/><ellipse cx="1024" cy="1494.5" rx="2.6" ry="2.3" transform="rotate(16 1024 1494.5)"/><ellipse cx="1143.1" cy="1439.1" rx="1.5" ry="1.5" transform="rotate(-4 1143.1 1439.1)"/><ellipse cx="680.7" cy="1619.5" rx="2.5" ry="1.7" transform="rotate(-3 680.7 1619.5)"/><ellipse cx="1218" cy="1357.5" rx="2.6" ry="1.9" transform="rotate(-24 1218 1357.5)"/><ellipse cx="941.5" cy="1535.5" rx="1.9" ry="1.3" transform="rotate(-22 941.5 1535.5)"/><ellipse cx="689.7" cy="1593.4" rx="2.2" ry="1.6" transform="rotate(-1 689.7 1593.4)"/><ellipse cx="1206.5" cy="1373.9" rx="2.9" ry="2.4" transform="rotate(-24 1206.5 1373.9)"/><ellipse cx="816.5" cy="1578.5" rx="1.5" ry="1.4" transform="rotate(37 816.5 1578.5)"/><ellipse cx="915.1" cy="1538.2" rx="2" ry="1.8" transform="rotate(-8 915.1 1538.2)"/><ellipse cx="1155.3" cy="1409.1" rx="1.4" ry="1.3" transform="rotate(18 1155.3 1409.1)"/><ellipse cx="1045" cy="1495.4" rx="2" ry="1.6" transform="rotate(-16 1045 1495.4)"/><ellipse cx="1060.4" cy="1474.4" rx="2.9" ry="2" transform="rotate(-10 1060.4 1474.4)"/><ellipse cx="1120.8" cy="1430.2" rx="2.5" ry="1.9" transform="rotate(35 1120.8 1430.2)"/><ellipse cx="937.9" cy="1509.3" rx="1.6" ry="1.5" transform="rotate(24 937.9 1509.3)"/><ellipse cx="699.2" cy="1609.6" rx="2.2" ry="1.7" transform="rotate(31 699.2 1609.6)"/><ellipse cx="998.8" cy="1522.6" rx="2.4" ry="2" transform="rotate(-13 998.8 1522.6)"/><ellipse cx="1035.2" cy="1492.3" rx="1.8" ry="1.4" transform="rotate(-8 1035.2 1492.3)"/><ellipse cx="1178.2" cy="1393.7" rx="1.8" ry="1.4" transform="rotate(25 1178.2 1393.7)"/><ellipse cx="1073.2" cy="1420.7" rx="1.7" ry="1.1" transform="rotate(24 1073.2 1420.7)"/><ellipse cx="855.7" cy="1548.6" rx="1.8" ry="1.7" transform="rotate(17 855.7 1548.6)"/><ellipse cx="1194.2" cy="1385.2" rx="2.9" ry="2" transform="rotate(34 1194.2 1385.2)"/><ellipse cx="839.2" cy="1603" rx="2.8" ry="2.2" transform="rotate(-32 839.2 1603)"/><ellipse cx="1103.1" cy="1440.8" rx="3" ry="2" transform="rotate(-35 1103.1 1440.8)"/><ellipse cx="677.2" cy="1611.8" rx="2.4" ry="1.7" transform="rotate(-27 677.2 1611.8)"/><ellipse cx="1035.2" cy="1484.9" rx="3" ry="2.3" transform="rotate(38 1035.2 1484.9)"/><ellipse cx="932.4" cy="1517" rx="1.8" ry="1.8" transform="rotate(39 932.4 1517)"/><ellipse cx="830.8" cy="1570.9" rx="1.6" ry="1.3" transform="rotate(18 830.8 1570.9)"/><ellipse cx="714.2" cy="1631.3" rx="1.5" ry="1.2" transform="rotate(23 714.2 1631.3)"/><ellipse cx="961" cy="1541.3" rx="2.4" ry="1.8" transform="rotate(-8 961 1541.3)"/><ellipse cx="1153" cy="1432.7" rx="2.3" ry="1.6" transform="rotate(-25 1153 1432.7)"/><ellipse cx="1073.5" cy="1419.4" rx="2.7" ry="2.5" transform="rotate(1 1073.5 1419.4)"/><ellipse cx="733.7" cy="1625.2" rx="2.5" ry="2.1" transform="rotate(18 733.7 1625.2)"/><ellipse cx="1200.3" cy="1408" rx="2.9" ry="2.5" transform="rotate(-14 1200.3 1408)"/><ellipse cx="875" cy="1592.4" rx="2.7" ry="2.5" transform="rotate(25 875 1592.4)"/><ellipse cx="1072.3" cy="1440.5" rx="2.6" ry="1.9" transform="rotate(8 1072.3 1440.5)"/><ellipse cx="1152.2" cy="1405.5" rx="1.8" ry="1.8" transform="rotate(-33 1152.2 1405.5)"/><ellipse cx="1104.7" cy="1410.8" rx="2.6" ry="2.2" transform="rotate(32 1104.7 1410.8)"/><ellipse cx="949.6" cy="1551.3" rx="1.5" ry="1.4" transform="rotate(-31 949.6 1551.3)"/><ellipse cx="801.9" cy="1632.5" rx="2.1" ry="1.9" transform="rotate(-19 801.9 1632.5)"/><ellipse cx="1053.8" cy="1436.8" rx="2.2" ry="2" transform="rotate(-22 1053.8 1436.8)"/><ellipse cx="879.2" cy="1555.4" rx="2.9" ry="2.8" transform="rotate(39 879.2 1555.4)"/><ellipse cx="1017.6" cy="1503.9" rx="2.6" ry="2.1" transform="rotate(29 1017.6 1503.9)"/><ellipse cx="1195.6" cy="1379.3" rx="1.6" ry="1.5" transform="rotate(-28 1195.6 1379.3)"/><ellipse cx="773.6" cy="1656.5" rx="2.3" ry="2.1" transform="rotate(-29 773.6 1656.5)"/><ellipse cx="925.7" cy="1520.7" rx="2.7" ry="1.8" transform="rotate(-1 925.7 1520.7)"/><ellipse cx="737.6" cy="1658.6" rx="1.5" ry="1.2" transform="rotate(-2 737.6 1658.6)"/><ellipse cx="1091.7" cy="1430.9" rx="2.9" ry="2.1" transform="rotate(-29 1091.7 1430.9)"/><ellipse cx="804.9" cy="1586.2" rx="2.2" ry="1.7" transform="rotate(-26 804.9 1586.2)"/><ellipse cx="971.5" cy="1529.1" rx="1.8" ry="1.7" transform="rotate(-22 971.5 1529.1)"/><ellipse cx="1036.9" cy="1503.3" rx="2.6" ry="2.3" transform="rotate(2 1036.9 1503.3)"/><ellipse cx="957.2" cy="1492.6" rx="2.9" ry="2.7" transform="rotate(14 957.2 1492.6)"/><ellipse cx="857.6" cy="1573.8" rx="2.7" ry="2.7" transform="rotate(33 857.6 1573.8)"/><ellipse cx="1070.3" cy="1456.9" rx="2" ry="1.5" transform="rotate(-29 1070.3 1456.9)"/><ellipse cx="980.6" cy="1490.2" rx="2" ry="1.7" transform="rotate(20 980.6 1490.2)"/><ellipse cx="824.7" cy="1620.3" rx="2" ry="2" transform="rotate(38 824.7 1620.3)"/><ellipse cx="1022.5" cy="1511.4" rx="2" ry="1.7" transform="rotate(-14 1022.5 1511.4)"/><ellipse cx="690.5" cy="1581.5" rx="1.9" ry="1.6" transform="rotate(5 690.5 1581.5)"/><ellipse cx="1071.1" cy="1444" rx="2.9" ry="2.5" transform="rotate(3 1071.1 1444)"/><ellipse cx="1063.8" cy="1448.1" rx="2.4" ry="1.8" transform="rotate(37 1063.8 1448.1)"/><ellipse cx="1206.4" cy="1346.6" rx="1.4" ry="1.2" transform="rotate(-23 1206.4 1346.6)"/><ellipse cx="804" cy="1629.1" rx="2.5" ry="2.2" transform="rotate(34 804 1629.1)"/><ellipse cx="1067.7" cy="1468.8" rx="1.4" ry="0.9" transform="rotate(-5 1067.7 1468.8)"/><ellipse cx="895.8" cy="1558.7" rx="1.4" ry="1.1" transform="rotate(32 895.8 1558.7)"/><ellipse cx="1136.5" cy="1383.6" rx="1.7" ry="1.2" transform="rotate(26 1136.5 1383.6)"/><ellipse cx="743.5" cy="1621.3" rx="2.8" ry="2.3" transform="rotate(-14 743.5 1621.3)"/><ellipse cx="939.1" cy="1542" rx="1.5" ry="1.4" transform="rotate(38 939.1 1542)"/><ellipse cx="729.9" cy="1613.7" rx="1.6" ry="1.3" transform="rotate(12 729.9 1613.7)"/><ellipse cx="1216.3" cy="1401.2" rx="2.4" ry="2.1" transform="rotate(-27 1216.3 1401.2)"/><ellipse cx="1007.9" cy="1480.3" rx="2.8" ry="2.1" transform="rotate(-28 1007.9 1480.3)"/><ellipse cx="818.7" cy="1604.5" rx="2.7" ry="1.9" transform="rotate(0 818.7 1604.5)"/><ellipse cx="1012.3" cy="1481.3" rx="2.3" ry="1.5" transform="rotate(-35 1012.3 1481.3)"/><ellipse cx="859.9" cy="1591.6" rx="1.8" ry="1.7" transform="rotate(-20 859.9 1591.6)"/><ellipse cx="710.4" cy="1610" rx="1.9" ry="1.8" transform="rotate(-22 710.4 1610)"/><ellipse cx="1141.4" cy="1409.3" rx="2.2" ry="2.1" transform="rotate(8 1141.4 1409.3)"/><ellipse cx="781.1" cy="1593.3" rx="1.9" ry="1.3" transform="rotate(11 781.1 1593.3)"/><ellipse cx="893.6" cy="1556.2" rx="2.9" ry="2.1" transform="rotate(-27 893.6 1556.2)"/><ellipse cx="901.1" cy="1577.8" rx="2.5" ry="2" transform="rotate(-26 901.1 1577.8)"/><ellipse cx="684.6" cy="1625" rx="2.4" ry="1.7" transform="rotate(10 684.6 1625)"/><ellipse cx="712.5" cy="1607.9" rx="1.6" ry="1.4" transform="rotate(17 712.5 1607.9)"/><ellipse cx="827.5" cy="1604.6" rx="2.1" ry="1.8" transform="rotate(-32 827.5 1604.6)"/><ellipse cx="750.1" cy="1620.3" rx="2" ry="1.5" transform="rotate(-32 750.1 1620.3)"/><ellipse cx="1216.3" cy="1358.4" rx="1.8" ry="1.6" transform="rotate(-22 1216.3 1358.4)"/><ellipse cx="1072.5" cy="1447.7" rx="1.6" ry="1.1" transform="rotate(3 1072.5 1447.7)"/><ellipse cx="1181.5" cy="1363.3" rx="2.2" ry="1.8" transform="rotate(-24 1181.5 1363.3)"/><ellipse cx="981.7" cy="1524.7" rx="1.9" ry="1.8" transform="rotate(25 981.7 1524.7)"/><ellipse cx="814.9" cy="1599.8" rx="1.6" ry="1.4" transform="rotate(15 814.9 1599.8)"/><ellipse cx="1208" cy="1344.4" rx="2.5" ry="2.4" transform="rotate(-30 1208 1344.4)"/><ellipse cx="773.7" cy="1630.1" rx="2.6" ry="2" transform="rotate(15 773.7 1630.1)"/><ellipse cx="1083.7" cy="1431.2" rx="3" ry="2.4" transform="rotate(-39 1083.7 1431.2)"/><ellipse cx="728.5" cy="1651.5" rx="2.4" ry="1.7" transform="rotate(29 728.5 1651.5)"/><ellipse cx="802.6" cy="1600.2" rx="2.5" ry="1.6" transform="rotate(-36 802.6 1600.2)"/><ellipse cx="1160.2" cy="1433.8" rx="1.9" ry="1.8" transform="rotate(22 1160.2 1433.8)"/><ellipse cx="1025.3" cy="1509.9" rx="2.4" ry="2.4" transform="rotate(5 1025.3 1509.9)"/><ellipse cx="992.6" cy="1497.2" rx="1.9" ry="1.5" transform="rotate(0 992.6 1497.2)"/><ellipse cx="853.2" cy="1564.3" rx="2.2" ry="1.8" transform="rotate(-6 853.2 1564.3)"/><ellipse cx="835.7" cy="1591" rx="1.8" ry="1.7" transform="rotate(16 835.7 1591)"/><ellipse cx="992" cy="1482.4" rx="2.9" ry="2.4" transform="rotate(-9 992 1482.4)"/><ellipse cx="937.7" cy="1543.6" rx="2.7" ry="2.2" transform="rotate(18 937.7 1543.6)"/><ellipse cx="961.2" cy="1507.2" rx="1.9" ry="1.5" transform="rotate(20 961.2 1507.2)"/><ellipse cx="846" cy="1565.6" rx="2.7" ry="2.3" transform="rotate(14 846 1565.6)"/><ellipse cx="1074.9" cy="1436" rx="1.5" ry="1.2" transform="rotate(-37 1074.9 1436)"/><ellipse cx="995.4" cy="1507.7" rx="2.9" ry="2.7" transform="rotate(-21 995.4 1507.7)"/><ellipse cx="799.5" cy="1629" rx="2.6" ry="2.1" transform="rotate(-10 799.5 1629)"/><ellipse cx="977.8" cy="1520.7" rx="2.8" ry="2.7" transform="rotate(29 977.8 1520.7)"/><ellipse cx="946.7" cy="1512.7" rx="3" ry="2.1" transform="rotate(-27 946.7 1512.7)"/><ellipse cx="1182.5" cy="1411.6" rx="1.9" ry="1.8" transform="rotate(31 1182.5 1411.6)"/><ellipse cx="838.9" cy="1604.8" rx="2" ry="1.4" transform="rotate(32 838.9 1604.8)"/><ellipse cx="935.5" cy="1537.5" rx="1.8" ry="1.2" transform="rotate(-8 935.5 1537.5)"/><ellipse cx="753.6" cy="1628" rx="2.6" ry="2" transform="rotate(14 753.6 1628)"/><ellipse cx="837.1" cy="1556.9" rx="2.5" ry="2.1" transform="rotate(-16 837.1 1556.9)"/><ellipse cx="1151.1" cy="1433.4" rx="1.8" ry="1.5" transform="rotate(5 1151.1 1433.4)"/><ellipse cx="765.5" cy="1618.1" rx="2.4" ry="2.1" transform="rotate(0 765.5 1618.1)"/><ellipse cx="691.1" cy="1594" rx="2.1" ry="1.6" transform="rotate(32 691.1 1594)"/><ellipse cx="747.4" cy="1621.9" rx="2.8" ry="2" transform="rotate(6 747.4 1621.9)"/><ellipse cx="766.3" cy="1648.2" rx="2.7" ry="2" transform="rotate(22 766.3 1648.2)"/><ellipse cx="1213.1" cy="1342.1" rx="2" ry="1.5" transform="rotate(9 1213.1 1342.1)"/><ellipse cx="1144.9" cy="1413.5" rx="2" ry="1.9" transform="rotate(-31 1144.9 1413.5)"/><ellipse cx="1102.7" cy="1430.8" rx="3" ry="2" transform="rotate(-3 1102.7 1430.8)"/><ellipse cx="749.4" cy="1612.3" rx="1.5" ry="1.2" transform="rotate(-5 749.4 1612.3)"/><ellipse cx="884.6" cy="1573.8" rx="2.2" ry="2.2" transform="rotate(-26 884.6 1573.8)"/><ellipse cx="980.8" cy="1496.8" rx="2.8" ry="2" transform="rotate(30 980.8 1496.8)"/><ellipse cx="906.3" cy="1555.6" rx="2.3" ry="1.7" transform="rotate(-33 906.3 1555.6)"/><ellipse cx="922.3" cy="1513.8" rx="2.5" ry="2" transform="rotate(-13 922.3 1513.8)"/><ellipse cx="1146.2" cy="1399.1" rx="2.1" ry="2" transform="rotate(-11 1146.2 1399.1)"/><ellipse cx="824.7" cy="1605.8" rx="2.5" ry="2" transform="rotate(-7 824.7 1605.8)"/><ellipse cx="1120.3" cy="1421.8" rx="2.7" ry="2.1" transform="rotate(18 1120.3 1421.8)"/><ellipse cx="691.6" cy="1636.5" rx="2.5" ry="2.2" transform="rotate(0 691.6 1636.5)"/><ellipse cx="841.4" cy="1564.4" rx="2.4" ry="2.2" transform="rotate(-19 841.4 1564.4)"/><ellipse cx="812.5" cy="1609.6" rx="1.7" ry="1.4" transform="rotate(-14 812.5 1609.6)"/><ellipse cx="811.5" cy="1601.8" rx="2.4" ry="1.7" transform="rotate(-15 811.5 1601.8)"/><ellipse cx="1005.5" cy="1498.4" rx="2.6" ry="2.3" transform="rotate(-22 1005.5 1498.4)"/><ellipse cx="1139.2" cy="1418" rx="2.6" ry="2" transform="rotate(-4 1139.2 1418)"/><ellipse cx="1135.4" cy="1425.8" rx="1.6" ry="1.4" transform="rotate(-37 1135.4 1425.8)"/><ellipse cx="1206" cy="1389.9" rx="1.8" ry="1.7" transform="rotate(-25 1206 1389.9)"/><ellipse cx="993.5" cy="1466.3" rx="2.8" ry="2.3" transform="rotate(26 993.5 1466.3)"/><ellipse cx="999.2" cy="1518.1" rx="1.7" ry="1.7" transform="rotate(-12 999.2 1518.1)"/><ellipse cx="700.1" cy="1583.2" rx="1.5" ry="1.3" transform="rotate(-30 700.1 1583.2)"/><ellipse cx="886.1" cy="1545.4" rx="2.9" ry="2.8" transform="rotate(29 886.1 1545.4)"/><ellipse cx="955.6" cy="1538.9" rx="1.8" ry="1.8" transform="rotate(24 955.6 1538.9)"/><ellipse cx="855.6" cy="1550.9" rx="2.9" ry="2.4" transform="rotate(8 855.6 1550.9)"/><ellipse cx="816" cy="1613.3" rx="2.1" ry="2" transform="rotate(-3 816 1613.3)"/><ellipse cx="1198.6" cy="1365.1" rx="2.6" ry="2.4" transform="rotate(-20 1198.6 1365.1)"/><ellipse cx="934.9" cy="1513.7" rx="1.7" ry="1.7" transform="rotate(-10 934.9 1513.7)"/><ellipse cx="984.4" cy="1472.3" rx="2.6" ry="2.4" transform="rotate(30 984.4 1472.3)"/><ellipse cx="847.1" cy="1572.4" rx="2.6" ry="2.3" transform="rotate(-7 847.1 1572.4)"/><ellipse cx="820.9" cy="1624.6" rx="2.2" ry="1.8" transform="rotate(22 820.9 1624.6)"/><ellipse cx="1088.5" cy="1433.4" rx="2.7" ry="1.8" transform="rotate(-17 1088.5 1433.4)"/><ellipse cx="975.5" cy="1500.2" rx="2.3" ry="1.7" transform="rotate(-5 975.5 1500.2)"/><ellipse cx="733.8" cy="1614.8" rx="2.7" ry="2.3" transform="rotate(8 733.8 1614.8)"/><ellipse cx="807.5" cy="1623.2" rx="1.9" ry="1.8" transform="rotate(22 807.5 1623.2)"/><ellipse cx="1132.2" cy="1413.6" rx="2.5" ry="2.4" transform="rotate(-24 1132.2 1413.6)"/><ellipse cx="705.6" cy="1615.2" rx="1.6" ry="1.2" transform="rotate(29 705.6 1615.2)"/><ellipse cx="818.5" cy="1578.2" rx="2.3" ry="1.7" transform="rotate(-1 818.5 1578.2)"/><ellipse cx="955.4" cy="1520" rx="2.7" ry="1.8" transform="rotate(34 955.4 1520)"/><ellipse cx="766.4" cy="1646.3" rx="2.3" ry="1.9" transform="rotate(-22 766.4 1646.3)"/><ellipse cx="892.6" cy="1570.8" rx="1.8" ry="1.5" transform="rotate(11 892.6 1570.8)"/><ellipse cx="974.3" cy="1480.6" rx="2.4" ry="2.2" transform="rotate(-27 974.3 1480.6)"/><ellipse cx="1093.5" cy="1414.1" rx="2.7" ry="2.6" transform="rotate(-35 1093.5 1414.1)"/><ellipse cx="788" cy="1600.4" rx="1.5" ry="1.3" transform="rotate(-19 788 1600.4)"/><ellipse cx="965.7" cy="1505.5" rx="2.7" ry="2.4" transform="rotate(-30 965.7 1505.5)"/><ellipse cx="752.3" cy="1626" rx="1.6" ry="1.4" transform="rotate(22 752.3 1626)"/><ellipse cx="846.8" cy="1552.4" rx="2.6" ry="2.1" transform="rotate(34 846.8 1552.4)"/><ellipse cx="895.5" cy="1526.6" rx="2.9" ry="2.4" transform="rotate(-4 895.5 1526.6)"/><ellipse cx="1110.2" cy="1451.9" rx="2.2" ry="1.5" transform="rotate(-7 1110.2 1451.9)"/><ellipse cx="940.3" cy="1538.9" rx="2.3" ry="1.9" transform="rotate(5 940.3 1538.9)"/><ellipse cx="1010.8" cy="1511.5" rx="1.5" ry="1.2" transform="rotate(30 1010.8 1511.5)"/><ellipse cx="754.7" cy="1643.9" rx="2.4" ry="2.3" transform="rotate(-2 754.7 1643.9)"/><ellipse cx="697.5" cy="1623.7" rx="2.6" ry="1.9" transform="rotate(11 697.5 1623.7)"/><ellipse cx="1058.1" cy="1429.4" rx="2.1" ry="1.6" transform="rotate(7 1058.1 1429.4)"/><ellipse cx="808.7" cy="1615.5" rx="1.9" ry="1.7" transform="rotate(-15 808.7 1615.5)"/><ellipse cx="1128.8" cy="1394.7" rx="2.6" ry="1.7" transform="rotate(34 1128.8 1394.7)"/><ellipse cx="728.3" cy="1619.2" rx="1.7" ry="1.3" transform="rotate(0 728.3 1619.2)"/><ellipse cx="806" cy="1607.5" rx="1.9" ry="1.9" transform="rotate(-9 806 1607.5)"/><ellipse cx="855.8" cy="1607.8" rx="1.9" ry="1.7" transform="rotate(26 855.8 1607.8)"/><ellipse cx="1104" cy="1419.6" rx="1.6" ry="1" transform="rotate(-4 1104 1419.6)"/><ellipse cx="844" cy="1580.2" rx="2.6" ry="2" transform="rotate(-27 844 1580.2)"/><ellipse cx="948.7" cy="1552.2" rx="2.8" ry="2.1" transform="rotate(4 948.7 1552.2)"/><ellipse cx="764.3" cy="1626.5" rx="2.9" ry="2.2" transform="rotate(6 764.3 1626.5)"/><ellipse cx="778.1" cy="1649.7" rx="1.6" ry="1.2" transform="rotate(17 778.1 1649.7)"/><ellipse cx="703" cy="1588.8" rx="2.2" ry="1.4" transform="rotate(-27 703 1588.8)"/><ellipse cx="786.8" cy="1590.5" rx="1.7" ry="1.4" transform="rotate(-29 786.8 1590.5)"/><ellipse cx="944.6" cy="1509.9" rx="1.8" ry="1.7" transform="rotate(-36 944.6 1509.9)"/><ellipse cx="794.3" cy="1641.7" rx="2.1" ry="1.8" transform="rotate(29 794.3 1641.7)"/><ellipse cx="680.3" cy="1612.6" rx="2.3" ry="2.1" transform="rotate(-17 680.3 1612.6)"/><ellipse cx="836.3" cy="1584.5" rx="1.9" ry="1.6" transform="rotate(-16 836.3 1584.5)"/><ellipse cx="1050.9" cy="1437.7" rx="2.7" ry="2.2" transform="rotate(-21 1050.9 1437.7)"/><ellipse cx="712.7" cy="1618.9" rx="2.6" ry="2" transform="rotate(-7 712.7 1618.9)"/><ellipse cx="877.3" cy="1596.1" rx="2.8" ry="2.8" transform="rotate(35 877.3 1596.1)"/><ellipse cx="1131.8" cy="1425.2" rx="1.7" ry="1.7" transform="rotate(11 1131.8 1425.2)"/><ellipse cx="1011.1" cy="1460.3" rx="2.8" ry="2" transform="rotate(-19 1011.1 1460.3)"/><ellipse cx="839.7" cy="1584.1" rx="2.5" ry="1.7" transform="rotate(12 839.7 1584.1)"/><ellipse cx="710.3" cy="1627" rx="2.5" ry="1.7" transform="rotate(-24 710.3 1627)"/><ellipse cx="932.5" cy="1528.1" rx="2" ry="1.8" transform="rotate(19 932.5 1528.1)"/><ellipse cx="937.8" cy="1534.5" rx="2.2" ry="1.6" transform="rotate(35 937.8 1534.5)"/><ellipse cx="1114.4" cy="1460" rx="2.1" ry="2" transform="rotate(-20 1114.4 1460)"/><ellipse cx="1085" cy="1473.5" rx="2.7" ry="2.6" transform="rotate(-18 1085 1473.5)"/><ellipse cx="972.2" cy="1497.9" rx="2" ry="1.8" transform="rotate(27 972.2 1497.9)"/><ellipse cx="1063.6" cy="1435.9" rx="1.6" ry="1.4" transform="rotate(-23 1063.6 1435.9)"/><ellipse cx="796.6" cy="1589" rx="2.5" ry="1.9" transform="rotate(27 796.6 1589)"/><ellipse cx="1148" cy="1395.8" rx="1.8" ry="1.4" transform="rotate(-39 1148 1395.8)"/><ellipse cx="927.2" cy="1504.4" rx="2.8" ry="2.2" transform="rotate(-39 927.2 1504.4)"/><ellipse cx="855.9" cy="1561.2" rx="1.4" ry="1" transform="rotate(16 855.9 1561.2)"/><ellipse cx="985.7" cy="1485.8" rx="1.9" ry="1.8" transform="rotate(-10 985.7 1485.8)"/><ellipse cx="1165.8" cy="1373.9" rx="2.8" ry="1.8" transform="rotate(16 1165.8 1373.9)"/><ellipse cx="1075.8" cy="1453.5" rx="2.7" ry="1.9" transform="rotate(3 1075.8 1453.5)"/><ellipse cx="936.3" cy="1510.7" rx="2.5" ry="2.2" transform="rotate(22 936.3 1510.7)"/><ellipse cx="1030.5" cy="1503.9" rx="2.7" ry="2.3" transform="rotate(-13 1030.5 1503.9)"/><ellipse cx="923.1" cy="1512.6" rx="1.9" ry="1.7" transform="rotate(34 923.1 1512.6)"/><ellipse cx="1060.3" cy="1487.7" rx="2.6" ry="2.1" transform="rotate(-3 1060.3 1487.7)"/><ellipse cx="898" cy="1527.6" rx="2.4" ry="2.2" transform="rotate(-20 898 1527.6)"/><ellipse cx="1168.6" cy="1372.5" rx="1.6" ry="1.3" transform="rotate(-13 1168.6 1372.5)"/><ellipse cx="1217.6" cy="1364.9" rx="2.7" ry="2.3" transform="rotate(-26 1217.6 1364.9)"/><ellipse cx="830.5" cy="1564.3" rx="2.1" ry="1.4" transform="rotate(-1 830.5 1564.3)"/><ellipse cx="1197.7" cy="1374.3" rx="2.8" ry="2.5" transform="rotate(6 1197.7 1374.3)"/><ellipse cx="891.9" cy="1555.9" rx="2" ry="1.8" transform="rotate(0 891.9 1555.9)"/><ellipse cx="1034.1" cy="1506.6" rx="1.7" ry="1.3" transform="rotate(-39 1034.1 1506.6)"/><ellipse cx="679.7" cy="1594.6" rx="2.7" ry="2.4" transform="rotate(37 679.7 1594.6)"/><ellipse cx="1024.2" cy="1485.3" rx="1.4" ry="1.1" transform="rotate(-19 1024.2 1485.3)"/><ellipse cx="779.2" cy="1624.3" rx="2" ry="1.6" transform="rotate(-7 779.2 1624.3)"/><ellipse cx="728.9" cy="1647.5" rx="2.4" ry="1.6" transform="rotate(7 728.9 1647.5)"/><ellipse cx="1212.9" cy="1387.9" rx="1.5" ry="1.4" transform="rotate(13 1212.9 1387.9)"/><ellipse cx="1181.5" cy="1410.4" rx="2.8" ry="2.1" transform="rotate(6 1181.5 1410.4)"/><ellipse cx="887.7" cy="1575.8" rx="2.4" ry="1.8" transform="rotate(3 887.7 1575.8)"/><ellipse cx="1015.2" cy="1512.1" rx="2.3" ry="2.3" transform="rotate(-37 1015.2 1512.1)"/><ellipse cx="1008.4" cy="1503.9" rx="2.9" ry="2.6" transform="rotate(-1 1008.4 1503.9)"/><ellipse cx="999.5" cy="1507.6" rx="2.9" ry="1.9" transform="rotate(-14 999.5 1507.6)"/><ellipse cx="776.5" cy="1642" rx="1.4" ry="1.3" transform="rotate(24 776.5 1642)"/><ellipse cx="927.9" cy="1517.9" rx="2.5" ry="2.1" transform="rotate(8 927.9 1517.9)"/><ellipse cx="1024.6" cy="1509.4" rx="2.6" ry="2.6" transform="rotate(-20 1024.6 1509.4)"/><ellipse cx="930" cy="1524.5" rx="2.7" ry="1.9" transform="rotate(4 930 1524.5)"/><ellipse cx="1188.8" cy="1353.7" rx="1.8" ry="1.5" transform="rotate(34 1188.8 1353.7)"/><ellipse cx="1144.2" cy="1404.1" rx="2.3" ry="2.2" transform="rotate(-34 1144.2 1404.1)"/><ellipse cx="821.7" cy="1573.2" rx="1.9" ry="1.7" transform="rotate(6 821.7 1573.2)"/><ellipse cx="734" cy="1631.4" rx="1.6" ry="1.5" transform="rotate(25 734 1631.4)"/><ellipse cx="1190.7" cy="1404.1" rx="1.8" ry="1.1" transform="rotate(29 1190.7 1404.1)"/><ellipse cx="794.3" cy="1630.1" rx="2.6" ry="2.3" transform="rotate(26 794.3 1630.1)"/><ellipse cx="902.7" cy="1571.9" rx="2.9" ry="2.2" transform="rotate(14 902.7 1571.9)"/><ellipse cx="1148" cy="1412.9" rx="1.8" ry="1.4" transform="rotate(3 1148 1412.9)"/><ellipse cx="1153" cy="1431" rx="1.8" ry="1.6" transform="rotate(13 1153 1431)"/><ellipse cx="732.3" cy="1647.3" rx="1.9" ry="1.3" transform="rotate(-17 732.3 1647.3)"/><ellipse cx="968.1" cy="1532.9" rx="1.7" ry="1.1" transform="rotate(-12 968.1 1532.9)"/><ellipse cx="824.6" cy="1567.6" rx="2.6" ry="1.8" transform="rotate(13 824.6 1567.6)"/><ellipse cx="693.6" cy="1618.3" rx="2.8" ry="2.2" transform="rotate(-4 693.6 1618.3)"/><ellipse cx="700.4" cy="1594.8" rx="2.7" ry="2.4" transform="rotate(22 700.4 1594.8)"/><ellipse cx="1077.7" cy="1425" rx="2" ry="1.5" transform="rotate(-17 1077.7 1425)"/><ellipse cx="849.2" cy="1569.7" rx="1.9" ry="1.8" transform="rotate(11 849.2 1569.7)"/><ellipse cx="927.2" cy="1563.5" rx="2.9" ry="2.3" transform="rotate(5 927.2 1563.5)"/><ellipse cx="869.1" cy="1553.9" rx="1.6" ry="1.3" transform="rotate(21 869.1 1553.9)"/><ellipse cx="952" cy="1553.7" rx="2.2" ry="1.7" transform="rotate(27 952 1553.7)"/><ellipse cx="925.5" cy="1512.6" rx="2.4" ry="2.2" transform="rotate(33 925.5 1512.6)"/><ellipse cx="893.3" cy="1556.6" rx="1.9" ry="1.5" transform="rotate(-2 893.3 1556.6)"/><ellipse cx="1174.9" cy="1420.8" rx="2.2" ry="2.1" transform="rotate(-28 1174.9 1420.8)"/><ellipse cx="1049.8" cy="1489.5" rx="2.1" ry="2.1" transform="rotate(-37 1049.8 1489.5)"/><ellipse cx="1134.2" cy="1408.4" rx="2.7" ry="2" transform="rotate(20 1134.2 1408.4)"/><ellipse cx="941.9" cy="1507.8" rx="2.7" ry="2.4" transform="rotate(-32 941.9 1507.8)"/><ellipse cx="852.6" cy="1571" rx="2.1" ry="1.8" transform="rotate(31 852.6 1571)"/><ellipse cx="1046.5" cy="1458.5" rx="1.6" ry="1.1" transform="rotate(1 1046.5 1458.5)"/><ellipse cx="958.9" cy="1549.1" rx="2.1" ry="1.6" transform="rotate(-6 958.9 1549.1)"/><ellipse cx="1190.5" cy="1390" rx="2.3" ry="1.8" transform="rotate(-19 1190.5 1390)"/><ellipse cx="980.8" cy="1501.7" rx="3" ry="2.5" transform="rotate(-23 980.8 1501.7)"/><ellipse cx="687.2" cy="1594" rx="2.7" ry="2.5" transform="rotate(-21 687.2 1594)"/><ellipse cx="956.3" cy="1521.7" rx="2.3" ry="1.5" transform="rotate(-34 956.3 1521.7)"/><ellipse cx="1072.8" cy="1444.2" rx="2.9" ry="2.7" transform="rotate(-15 1072.8 1444.2)"/><ellipse cx="715.9" cy="1630.6" rx="1.8" ry="1.2" transform="rotate(-1 715.9 1630.6)"/><ellipse cx="729.2" cy="1636.4" rx="1.8" ry="1.5" transform="rotate(-21 729.2 1636.4)"/><ellipse cx="833.8" cy="1610.5" rx="2.1" ry="1.9" transform="rotate(-12 833.8 1610.5)"/><ellipse cx="1028.9" cy="1487.4" rx="2" ry="1.7" transform="rotate(-24 1028.9 1487.4)"/><ellipse cx="1064.8" cy="1458.7" rx="2.4" ry="1.7" transform="rotate(-13 1064.8 1458.7)"/><ellipse cx="1145.3" cy="1378.5" rx="2.1" ry="2" transform="rotate(22 1145.3 1378.5)"/><ellipse cx="890.3" cy="1539.9" rx="2.5" ry="1.9" transform="rotate(17 890.3 1539.9)"/><ellipse cx="1106.5" cy="1437.3" rx="2.7" ry="2.7" transform="rotate(-9 1106.5 1437.3)"/><ellipse cx="753.1" cy="1661.1" rx="1.4" ry="1.2" transform="rotate(-8 753.1 1661.1)"/><ellipse cx="896.7" cy="1534.7" rx="2.7" ry="2.2" transform="rotate(20 896.7 1534.7)"/><ellipse cx="765.6" cy="1647" rx="1.7" ry="1.4" transform="rotate(-39 765.6 1647)"/><ellipse cx="1061.8" cy="1475.6" rx="2.4" ry="1.9" transform="rotate(18 1061.8 1475.6)"/><ellipse cx="845.4" cy="1585.6" rx="2.4" ry="2.1" transform="rotate(-24 845.4 1585.6)"/><ellipse cx="909.9" cy="1519.8" rx="2" ry="1.8" transform="rotate(6 909.9 1519.8)"/><ellipse cx="1092.8" cy="1415.5" rx="2.6" ry="1.8" transform="rotate(-32 1092.8 1415.5)"/><ellipse cx="990.8" cy="1484.4" rx="2.8" ry="2.8" transform="rotate(-17 990.8 1484.4)"/><ellipse cx="1075.9" cy="1454.2" rx="1.8" ry="1.8" transform="rotate(36 1075.9 1454.2)"/><ellipse cx="699.7" cy="1599.5" rx="1.7" ry="1.4" transform="rotate(31 699.7 1599.5)"/><ellipse cx="736.5" cy="1620" rx="1.4" ry="1.4" transform="rotate(-18 736.5 1620)"/><ellipse cx="803.3" cy="1599" rx="1.6" ry="1.1" transform="rotate(-19 803.3 1599)"/><ellipse cx="958.4" cy="1505.4" rx="2.2" ry="2.1" transform="rotate(17 958.4 1505.4)"/><ellipse cx="1180.6" cy="1408.7" rx="2.3" ry="1.9" transform="rotate(-13 1180.6 1408.7)"/><ellipse cx="740.1" cy="1641.5" rx="1.6" ry="1.5" transform="rotate(30 740.1 1641.5)"/><ellipse cx="726.6" cy="1609.7" rx="2.3" ry="2.1" transform="rotate(-11 726.6 1609.7)"/><ellipse cx="1061.6" cy="1438.5" rx="2.4" ry="1.9" transform="rotate(38 1061.6 1438.5)"/><ellipse cx="1083.1" cy="1416.2" rx="1.8" ry="1.3" transform="rotate(-28 1083.1 1416.2)"/><ellipse cx="830.5" cy="1611" rx="1.6" ry="1.3" transform="rotate(28 830.5 1611)"/><ellipse cx="691.5" cy="1623.7" rx="2.2" ry="2.1" transform="rotate(-12 691.5 1623.7)"/><ellipse cx="1199.2" cy="1368.9" rx="2.9" ry="2.8" transform="rotate(-23 1199.2 1368.9)"/><ellipse cx="1191.5" cy="1358.6" rx="2.8" ry="2.5" transform="rotate(19 1191.5 1358.6)"/><ellipse cx="795.5" cy="1641.9" rx="1.6" ry="1.4" transform="rotate(17 795.5 1641.9)"/><ellipse cx="1070.7" cy="1447.4" rx="2.6" ry="1.7" transform="rotate(34 1070.7 1447.4)"/><ellipse cx="1126.5" cy="1419.1" rx="2.7" ry="2" transform="rotate(3 1126.5 1419.1)"/><ellipse cx="711.2" cy="1590.5" rx="2.8" ry="2.5" transform="rotate(-5 711.2 1590.5)"/><ellipse cx="1194.1" cy="1411.7" rx="1.5" ry="1.4" transform="rotate(18 1194.1 1411.7)"/><ellipse cx="755.8" cy="1662.6" rx="2.1" ry="1.8" transform="rotate(25 755.8 1662.6)"/><ellipse cx="762.2" cy="1658.9" rx="1.8" ry="1.2" transform="rotate(-29 762.2 1658.9)"/><ellipse cx="1096.7" cy="1419.4" rx="1.6" ry="1.6" transform="rotate(13 1096.7 1419.4)"/><ellipse cx="810.2" cy="1598" rx="2.9" ry="1.9" transform="rotate(-6 810.2 1598)"/><ellipse cx="748.2" cy="1613.5" rx="2.9" ry="2.8" transform="rotate(18 748.2 1613.5)"/><ellipse cx="726.2" cy="1626.1" rx="2.2" ry="1.5" transform="rotate(0 726.2 1626.1)"/><ellipse cx="810.3" cy="1628" rx="2.1" ry="1.5" transform="rotate(-20 810.3 1628)"/><ellipse cx="1053.2" cy="1467.9" rx="2.8" ry="2.3" transform="rotate(1 1053.2 1467.9)"/><ellipse cx="849.7" cy="1549.4" rx="1.9" ry="1.5" transform="rotate(-30 849.7 1549.4)"/><ellipse cx="764.7" cy="1657.2" rx="2.2" ry="2.1" transform="rotate(15 764.7 1657.2)"/><ellipse cx="1105.5" cy="1420.2" rx="2.6" ry="1.9" transform="rotate(4 1105.5 1420.2)"/><ellipse cx="1113.5" cy="1406.9" rx="2" ry="1.8" transform="rotate(24 1113.5 1406.9)"/><ellipse cx="804.1" cy="1588.3" rx="1.6" ry="1.4" transform="rotate(19 804.1 1588.3)"/><ellipse cx="1115.4" cy="1428.5" rx="2.3" ry="2.2" transform="rotate(11 1115.4 1428.5)"/><ellipse cx="1025.6" cy="1478.9" rx="2.6" ry="2.2" transform="rotate(-29 1025.6 1478.9)"/><ellipse cx="946.7" cy="1520.4" rx="2.3" ry="1.8" transform="rotate(-8 946.7 1520.4)"/><ellipse cx="923.3" cy="1569" rx="1.5" ry="1" transform="rotate(17 923.3 1569)"/><ellipse cx="959.7" cy="1523.3" rx="2" ry="1.5" transform="rotate(-38 959.7 1523.3)"/><ellipse cx="1190.5" cy="1370.2" rx="2.1" ry="1.6" transform="rotate(-35 1190.5 1370.2)"/><ellipse cx="1142.2" cy="1395.1" rx="1.8" ry="1.6" transform="rotate(23 1142.2 1395.1)"/><ellipse cx="930.8" cy="1516.7" rx="2.7" ry="2.5" transform="rotate(28 930.8 1516.7)"/><ellipse cx="718.8" cy="1653.8" rx="2.5" ry="2.1" transform="rotate(-28 718.8 1653.8)"/><ellipse cx="728.9" cy="1600" rx="2.7" ry="2.4" transform="rotate(-2 728.9 1600)"/><ellipse cx="1187.4" cy="1393.4" rx="1.6" ry="1.3" transform="rotate(-6 1187.4 1393.4)"/><ellipse cx="1185.6" cy="1401.9" rx="1.6" ry="1.2" transform="rotate(-12 1185.6 1401.9)"/><ellipse cx="901.3" cy="1547.1" rx="2.7" ry="1.9" transform="rotate(17 901.3 1547.1)"/><ellipse cx="1193.1" cy="1411.9" rx="1.9" ry="1.7" transform="rotate(-31 1193.1 1411.9)"/><ellipse cx="1041.8" cy="1478.9" rx="1.9" ry="1.3" transform="rotate(-30 1041.8 1478.9)"/><ellipse cx="829" cy="1580.2" rx="2.4" ry="2.3" transform="rotate(1 829 1580.2)"/><ellipse cx="1024.2" cy="1465.5" rx="2.7" ry="1.9" transform="rotate(-19 1024.2 1465.5)"/><ellipse cx="1175.9" cy="1370.7" rx="1.7" ry="1.2" transform="rotate(-22 1175.9 1370.7)"/><ellipse cx="934.4" cy="1548.8" rx="2" ry="1.7" transform="rotate(-8 934.4 1548.8)"/><ellipse cx="1173.6" cy="1389" rx="2.9" ry="2.1" transform="rotate(38 1173.6 1389)"/><ellipse cx="1069.4" cy="1446.2" rx="1.8" ry="1.3" transform="rotate(30 1069.4 1446.2)"/><ellipse cx="1077.3" cy="1446.9" rx="2.2" ry="1.6" transform="rotate(-25 1077.3 1446.9)"/><ellipse cx="1069.2" cy="1456.9" rx="1.4" ry="1.3" transform="rotate(-5 1069.2 1456.9)"/><ellipse cx="694.6" cy="1589.5" rx="2.7" ry="2.3" transform="rotate(-13 694.6 1589.5)"/><ellipse cx="885.5" cy="1545.9" rx="2" ry="1.8" transform="rotate(23 885.5 1545.9)"/><ellipse cx="1165" cy="1408.8" rx="1.6" ry="1.1" transform="rotate(-26 1165 1408.8)"/><ellipse cx="997.1" cy="1516.6" rx="2.3" ry="1.9" transform="rotate(-20 997.1 1516.6)"/><ellipse cx="1103.1" cy="1424.2" rx="1.5" ry="1.5" transform="rotate(-19 1103.1 1424.2)"/><ellipse cx="803.6" cy="1617.4" rx="2" ry="1.9" transform="rotate(-16 803.6 1617.4)"/><ellipse cx="690.1" cy="1625.5" rx="3" ry="2.6" transform="rotate(14 690.1 1625.5)"/><ellipse cx="876.7" cy="1538.4" rx="3" ry="2" transform="rotate(8 876.7 1538.4)"/><ellipse cx="836.3" cy="1584.4" rx="2.9" ry="2.1" transform="rotate(-26 836.3 1584.4)"/><ellipse cx="1057.7" cy="1461.4" rx="1.7" ry="1.6" transform="rotate(-31 1057.7 1461.4)"/><ellipse cx="862.2" cy="1574.5" rx="2.2" ry="1.8" transform="rotate(18 862.2 1574.5)"/><ellipse cx="968.9" cy="1482.2" rx="2.7" ry="1.8" transform="rotate(-14 968.9 1482.2)"/><ellipse cx="1031.9" cy="1493.9" rx="1.6" ry="1.2" transform="rotate(28 1031.9 1493.9)"/><ellipse cx="799.5" cy="1621.9" rx="2.7" ry="2.1" transform="rotate(-27 799.5 1621.9)"/><ellipse cx="898.7" cy="1528.7" rx="1.7" ry="1.3" transform="rotate(-29 898.7 1528.7)"/><ellipse cx="1008" cy="1492.8" rx="2" ry="1.9" transform="rotate(-32 1008 1492.8)"/><ellipse cx="1187.8" cy="1409.3" rx="2.9" ry="2.6" transform="rotate(2 1187.8 1409.3)"/><ellipse cx="1017.9" cy="1458.8" rx="1.8" ry="1.2" transform="rotate(30 1017.9 1458.8)"/><ellipse cx="940.2" cy="1531" rx="1.6" ry="1.4" transform="rotate(23 940.2 1531)"/><ellipse cx="1163.2" cy="1388" rx="1.6" ry="1.5" transform="rotate(15 1163.2 1388)"/><ellipse cx="910" cy="1523.5" rx="2.7" ry="2.2" transform="rotate(24 910 1523.5)"/><ellipse cx="899.6" cy="1552.9" rx="2.6" ry="2.5" transform="rotate(-11 899.6 1552.9)"/><ellipse cx="938.4" cy="1553.1" rx="2.6" ry="2.2" transform="rotate(-10 938.4 1553.1)"/><ellipse cx="1165" cy="1418.3" rx="1.9" ry="1.3" transform="rotate(-24 1165 1418.3)"/><ellipse cx="766.9" cy="1648.8" rx="2.2" ry="1.9" transform="rotate(3 766.9 1648.8)"/><ellipse cx="1010.8" cy="1461.2" rx="2.9" ry="2" transform="rotate(-28 1010.8 1461.2)"/><ellipse cx="1050.1" cy="1485.1" rx="2.5" ry="2.4" transform="rotate(-35 1050.1 1485.1)"/><ellipse cx="692.9" cy="1625.4" rx="1.6" ry="1.4" transform="rotate(21 692.9 1625.4)"/><ellipse cx="996.7" cy="1522" rx="2.6" ry="2" transform="rotate(-1 996.7 1522)"/><ellipse cx="1200.6" cy="1396.6" rx="2.5" ry="1.9" transform="rotate(18 1200.6 1396.6)"/><ellipse cx="1124.2" cy="1413.5" rx="2.8" ry="2.5" transform="rotate(-3 1124.2 1413.5)"/><ellipse cx="1127.3" cy="1422.4" rx="2.9" ry="1.9" transform="rotate(31 1127.3 1422.4)"/><ellipse cx="978.8" cy="1529" rx="1.6" ry="1.3" transform="rotate(17 978.8 1529)"/><ellipse cx="924" cy="1570.1" rx="2.4" ry="1.6" transform="rotate(-30 924 1570.1)"/><ellipse cx="717.1" cy="1609.7" rx="1.8" ry="1.5" transform="rotate(-33 717.1 1609.7)"/><ellipse cx="1143" cy="1415.3" rx="2.1" ry="1.6" transform="rotate(8 1143 1415.3)"/><ellipse cx="1207.6" cy="1403.8" rx="2.6" ry="2.4" transform="rotate(-33 1207.6 1403.8)"/><ellipse cx="700.8" cy="1587.5" rx="2.1" ry="2.1" transform="rotate(26 700.8 1587.5)"/><ellipse cx="852.7" cy="1561" rx="1.4" ry="1.1" transform="rotate(-35 852.7 1561)"/><ellipse cx="889.9" cy="1568.9" rx="2.3" ry="2" transform="rotate(-16 889.9 1568.9)"/><ellipse cx="1072.8" cy="1465.9" rx="2.2" ry="1.7" transform="rotate(-17 1072.8 1465.9)"/><ellipse cx="709.6" cy="1624.4" rx="1.7" ry="1.6" transform="rotate(30 709.6 1624.4)"/><ellipse cx="1132.6" cy="1416.7" rx="1.7" ry="1.3" transform="rotate(19 1132.6 1416.7)"/><ellipse cx="800.8" cy="1577" rx="2" ry="1.5" transform="rotate(7 800.8 1577)"/><ellipse cx="737" cy="1622.2" rx="2.9" ry="2.2" transform="rotate(-15 737 1622.2)"/><ellipse cx="1203" cy="1382.6" rx="2.7" ry="1.8" transform="rotate(3 1203 1382.6)"/><ellipse cx="1211.6" cy="1400.3" rx="1.6" ry="1.2" transform="rotate(39 1211.6 1400.3)"/><ellipse cx="1198.9" cy="1363.2" rx="1.4" ry="1.4" transform="rotate(-18 1198.9 1363.2)"/><ellipse cx="918.2" cy="1546.3" rx="2.9" ry="2.8" transform="rotate(30 918.2 1546.3)"/><ellipse cx="1134.9" cy="1384.9" rx="2.1" ry="2" transform="rotate(-19 1134.9 1384.9)"/><ellipse cx="1022.3" cy="1464" rx="2.5" ry="2.2" transform="rotate(-32 1022.3 1464)"/><ellipse cx="782.1" cy="1632.6" rx="2" ry="1.4" transform="rotate(-33 782.1 1632.6)"/><ellipse cx="1124.9" cy="1419.3" rx="2.7" ry="2.6" transform="rotate(34 1124.9 1419.3)"/><ellipse cx="877.8" cy="1565.8" rx="3" ry="2.7" transform="rotate(13 877.8 1565.8)"/><ellipse cx="940.9" cy="1532" rx="2.8" ry="2" transform="rotate(28 940.9 1532)"/><ellipse cx="714.7" cy="1624.7" rx="1.6" ry="1.6" transform="rotate(-4 714.7 1624.7)"/><ellipse cx="942.2" cy="1533.4" rx="2.1" ry="1.4" transform="rotate(-32 942.2 1533.4)"/><ellipse cx="810.5" cy="1587.6" rx="2.7" ry="2.6" transform="rotate(30 810.5 1587.6)"/><ellipse cx="750.8" cy="1654.4" rx="2.4" ry="1.8" transform="rotate(-38 750.8 1654.4)"/><ellipse cx="860" cy="1580.6" rx="3" ry="2.1" transform="rotate(-33 860 1580.6)"/><ellipse cx="799.1" cy="1592" rx="2.1" ry="2.1" transform="rotate(-14 799.1 1592)"/><ellipse cx="972.1" cy="1488.2" rx="2" ry="1.8" transform="rotate(-14 972.1 1488.2)"/><ellipse cx="835.2" cy="1563.3" rx="2.4" ry="1.9" transform="rotate(33 835.2 1563.3)"/><ellipse cx="729.9" cy="1639.7" rx="2" ry="1.4" transform="rotate(8 729.9 1639.7)"/><ellipse cx="970.9" cy="1509.1" rx="2.5" ry="2.2" transform="rotate(-6 970.9 1509.1)"/><ellipse cx="966.7" cy="1516.5" rx="2.8" ry="2.8" transform="rotate(4 966.7 1516.5)"/><ellipse cx="853.3" cy="1587.2" rx="2.6" ry="1.9" transform="rotate(15 853.3 1587.2)"/><ellipse cx="932.7" cy="1561.4" rx="2.1" ry="1.8" transform="rotate(29 932.7 1561.4)"/><ellipse cx="911.1" cy="1576.9" rx="1.5" ry="1.1" transform="rotate(-1 911.1 1576.9)"/><ellipse cx="1045.3" cy="1495.8" rx="2.5" ry="1.6" transform="rotate(-34 1045.3 1495.8)"/><ellipse cx="707.1" cy="1584.7" rx="2.2" ry="2" transform="rotate(-23 707.1 1584.7)"/><ellipse cx="943.1" cy="1556.8" rx="2" ry="1.7" transform="rotate(3 943.1 1556.8)"/><ellipse cx="1115.5" cy="1395.1" rx="1.8" ry="1.4" transform="rotate(30 1115.5 1395.1)"/><ellipse cx="765.6" cy="1616.3" rx="2.4" ry="2.2" transform="rotate(-31 765.6 1616.3)"/><ellipse cx="932.3" cy="1534.7" rx="2.1" ry="1.7" transform="rotate(39 932.3 1534.7)"/><ellipse cx="1180.5" cy="1405.1" rx="2.5" ry="1.8" transform="rotate(-37 1180.5 1405.1)"/><ellipse cx="1065.2" cy="1464.9" rx="1.9" ry="1.4" transform="rotate(33 1065.2 1464.9)"/><ellipse cx="757.7" cy="1623.6" rx="2" ry="1.3" transform="rotate(38 757.7 1623.6)"/><ellipse cx="1132" cy="1385.6" rx="2.1" ry="1.4" transform="rotate(18 1132 1385.6)"/><ellipse cx="1120" cy="1443.7" rx="1.6" ry="1" transform="rotate(-32 1120 1443.7)"/><ellipse cx="1138.8" cy="1415" rx="1.8" ry="1.7" transform="rotate(-30 1138.8 1415)"/><ellipse cx="749.3" cy="1670.2" rx="2.1" ry="1.9" transform="rotate(24 749.3 1670.2)"/><ellipse cx="1213" cy="1388.9" rx="2.9" ry="2.8" transform="rotate(-33 1213 1388.9)"/><ellipse cx="854.9" cy="1566.4" rx="1.9" ry="1.9" transform="rotate(-35 854.9 1566.4)"/><ellipse cx="808.7" cy="1636.8" rx="2.2" ry="2" transform="rotate(1 808.7 1636.8)"/><ellipse cx="906.8" cy="1542.2" rx="2.6" ry="2.3" transform="rotate(31 906.8 1542.2)"/><ellipse cx="1147.7" cy="1424.2" rx="2.3" ry="1.8" transform="rotate(5 1147.7 1424.2)"/><ellipse cx="682.7" cy="1589.1" rx="1.6" ry="1.1" transform="rotate(17 682.7 1589.1)"/><ellipse cx="1038.3" cy="1452.8" rx="2.6" ry="2.4" transform="rotate(9 1038.3 1452.8)"/><ellipse cx="1014.2" cy="1479" rx="1.8" ry="1.3" transform="rotate(29 1014.2 1479)"/><ellipse cx="1187.5" cy="1364.5" rx="1.8" ry="1.5" transform="rotate(-35 1187.5 1364.5)"/><ellipse cx="1002.7" cy="1491.3" rx="2.9" ry="2.4" transform="rotate(11 1002.7 1491.3)"/><ellipse cx="1118.1" cy="1417.2" rx="1.4" ry="1.4" transform="rotate(23 1118.1 1417.2)"/><ellipse cx="683.8" cy="1583.9" rx="2.5" ry="1.7" transform="rotate(-38 683.8 1583.9)"/><ellipse cx="751.3" cy="1622" rx="2" ry="1.5" transform="rotate(-39 751.3 1622)"/><ellipse cx="863.2" cy="1561.6" rx="2.1" ry="1.6" transform="rotate(-14 863.2 1561.6)"/><ellipse cx="736.6" cy="1648" rx="2.2" ry="1.4" transform="rotate(-21 736.6 1648)"/><ellipse cx="963.6" cy="1495.9" rx="2.7" ry="2.6" transform="rotate(-30 963.6 1495.9)"/><ellipse cx="1012.6" cy="1461.9" rx="1.9" ry="1.7" transform="rotate(13 1012.6 1461.9)"/><ellipse cx="1040.4" cy="1462.8" rx="1.5" ry="1" transform="rotate(27 1040.4 1462.8)"/><ellipse cx="1174.5" cy="1365.7" rx="2.6" ry="1.9" transform="rotate(-12 1174.5 1365.7)"/><ellipse cx="1153.3" cy="1426.3" rx="2.7" ry="2.1" transform="rotate(34 1153.3 1426.3)"/><ellipse cx="1018.7" cy="1494.5" rx="1.8" ry="1.4" transform="rotate(-31 1018.7 1494.5)"/><ellipse cx="835.2" cy="1565.5" rx="1.8" ry="1.6" transform="rotate(10 835.2 1565.5)"/><ellipse cx="1150.2" cy="1423.7" rx="1.7" ry="1.5" transform="rotate(-26 1150.2 1423.7)"/><ellipse cx="817.6" cy="1571.9" rx="2" ry="1.9" transform="rotate(12 817.6 1571.9)"/><ellipse cx="691.6" cy="1612.5" rx="2.2" ry="1.5" transform="rotate(-32 691.6 1612.5)"/><ellipse cx="1031.4" cy="1448.6" rx="2.6" ry="1.9" transform="rotate(7 1031.4 1448.6)"/><ellipse cx="908.5" cy="1575.9" rx="2" ry="1.6" transform="rotate(3 908.5 1575.9)"/><ellipse cx="1213.4" cy="1388.4" rx="2.3" ry="2" transform="rotate(11 1213.4 1388.4)"/><ellipse cx="1205.3" cy="1392.4" rx="1.7" ry="1.5" transform="rotate(-4 1205.3 1392.4)"/><ellipse cx="1116.3" cy="1408.8" rx="2.5" ry="2.1" transform="rotate(-5 1116.3 1408.8)"/><ellipse cx="1089.6" cy="1474.1" rx="3" ry="2.8" transform="rotate(-18 1089.6 1474.1)"/><ellipse cx="981.7" cy="1533.2" rx="2.1" ry="1.6" transform="rotate(-37 981.7 1533.2)"/><ellipse cx="999.1" cy="1482.1" rx="1.6" ry="1.3" transform="rotate(-34 999.1 1482.1)"/><ellipse cx="957.4" cy="1508.8" rx="2.2" ry="1.8" transform="rotate(-8 957.4 1508.8)"/><ellipse cx="677" cy="1601.9" rx="3" ry="2.2" transform="rotate(-11 677 1601.9)"/><ellipse cx="1097.9" cy="1437.1" rx="2.7" ry="1.7" transform="rotate(-29 1097.9 1437.1)"/><ellipse cx="922.1" cy="1532.5" rx="2" ry="2" transform="rotate(-4 922.1 1532.5)"/><ellipse cx="1202" cy="1386.7" rx="2.4" ry="2.2" transform="rotate(-13 1202 1386.7)"/><ellipse cx="745.3" cy="1639.8" rx="2.3" ry="1.6" transform="rotate(19 745.3 1639.8)"/><ellipse cx="1051.1" cy="1450.5" rx="2.9" ry="2.2" transform="rotate(-17 1051.1 1450.5)"/><ellipse cx="853.2" cy="1563.9" rx="2.2" ry="2.2" transform="rotate(-30 853.2 1563.9)"/><ellipse cx="1123" cy="1395.4" rx="2.1" ry="1.9" transform="rotate(17 1123 1395.4)"/><ellipse cx="803.6" cy="1632.8" rx="2" ry="1.8" transform="rotate(-2 803.6 1632.8)"/><ellipse cx="973.4" cy="1493.6" rx="1.6" ry="1.4" transform="rotate(-36 973.4 1493.6)"/><ellipse cx="1160.2" cy="1406.4" rx="2.8" ry="2" transform="rotate(-1 1160.2 1406.4)"/><ellipse cx="799.2" cy="1594.6" rx="2.9" ry="2.6" transform="rotate(0 799.2 1594.6)"/><ellipse cx="1153.7" cy="1434.8" rx="2.4" ry="1.6" transform="rotate(29 1153.7 1434.8)"/><ellipse cx="861.5" cy="1550.4" rx="2.2" ry="1.9" transform="rotate(-3 861.5 1550.4)"/><ellipse cx="814.7" cy="1615.2" rx="2.3" ry="1.7" transform="rotate(26 814.7 1615.2)"/><ellipse cx="1182.6" cy="1420.1" rx="1.5" ry="1.2" transform="rotate(-4 1182.6 1420.1)"/><ellipse cx="1098.6" cy="1463.5" rx="1.6" ry="1.3" transform="rotate(37 1098.6 1463.5)"/><ellipse cx="960.6" cy="1491.1" rx="2.1" ry="1.8" transform="rotate(22 960.6 1491.1)"/><ellipse cx="880" cy="1594.8" rx="1.4" ry="1.2" transform="rotate(-32 880 1594.8)"/><ellipse cx="947.8" cy="1551.8" rx="1.8" ry="1.7" transform="rotate(-21 947.8 1551.8)"/><ellipse cx="681.9" cy="1573.4" rx="2" ry="2" transform="rotate(-11 681.9 1573.4)"/><ellipse cx="764.5" cy="1631" rx="2.3" ry="1.5" transform="rotate(6 764.5 1631)"/><ellipse cx="902.5" cy="1571.8" rx="2.5" ry="1.7" transform="rotate(-31 902.5 1571.8)"/><ellipse cx="694.8" cy="1617.2" rx="2.9" ry="2.9" transform="rotate(29 694.8 1617.2)"/><ellipse cx="733.3" cy="1647.6" rx="2.2" ry="2.2" transform="rotate(7 733.3 1647.6)"/><ellipse cx="691.4" cy="1582.3" rx="2.4" ry="2.1" transform="rotate(28 691.4 1582.3)"/><ellipse cx="676.4" cy="1628.4" rx="1.8" ry="1.4" transform="rotate(29 676.4 1628.4)"/><ellipse cx="733.3" cy="1656.4" rx="2.3" ry="2" transform="rotate(-39 733.3 1656.4)"/><ellipse cx="1037.3" cy="1490.1" rx="2.2" ry="1.5" transform="rotate(-22 1037.3 1490.1)"/><ellipse cx="785.8" cy="1592.1" rx="1.8" ry="1.7" transform="rotate(3 785.8 1592.1)"/><ellipse cx="1202.1" cy="1382.6" rx="1.8" ry="1.5" transform="rotate(28 1202.1 1382.6)"/><ellipse cx="953" cy="1526.2" rx="3" ry="2.6" transform="rotate(-25 953 1526.2)"/><ellipse cx="899.7" cy="1550.2" rx="2.5" ry="1.7" transform="rotate(0 899.7 1550.2)"/><ellipse cx="1030.4" cy="1497.3" rx="2.1" ry="1.9" transform="rotate(-16 1030.4 1497.3)"/><ellipse cx="988.5" cy="1502.8" rx="1.8" ry="1.6" transform="rotate(0 988.5 1502.8)"/><ellipse cx="867.8" cy="1592.3" rx="2.8" ry="2.8" transform="rotate(-20 867.8 1592.3)"/><ellipse cx="721.6" cy="1592.9" rx="2.8" ry="2.5" transform="rotate(-13 721.6 1592.9)"/><ellipse cx="1069.9" cy="1431.6" rx="2" ry="1.8" transform="rotate(14 1069.9 1431.6)"/><ellipse cx="797" cy="1592.9" rx="1.8" ry="1.2" transform="rotate(11 797 1592.9)"/><ellipse cx="1183.5" cy="1391.6" rx="2.9" ry="2.3" transform="rotate(1 1183.5 1391.6)"/><ellipse cx="967" cy="1541.5" rx="2.2" ry="1.4" transform="rotate(-11 967 1541.5)"/><ellipse cx="1042" cy="1470.4" rx="2.2" ry="2.1" transform="rotate(20 1042 1470.4)"/><ellipse cx="677.9" cy="1611.6" rx="2.4" ry="2.1" transform="rotate(0 677.9 1611.6)"/><ellipse cx="708.5" cy="1638.1" rx="2.4" ry="1.6" transform="rotate(-30 708.5 1638.1)"/><ellipse cx="1004.9" cy="1469.4" rx="2.5" ry="2.5" transform="rotate(29 1004.9 1469.4)"/><ellipse cx="1128.4" cy="1393.1" rx="2.1" ry="2" transform="rotate(-12 1128.4 1393.1)"/><ellipse cx="1155.9" cy="1417.3" rx="1.4" ry="0.9" transform="rotate(4 1155.9 1417.3)"/><ellipse cx="1039.2" cy="1495.8" rx="1.6" ry="1.3" transform="rotate(-25 1039.2 1495.8)"/><ellipse cx="818.7" cy="1596.4" rx="1.5" ry="1.3" transform="rotate(11 818.7 1596.4)"/><ellipse cx="1110" cy="1402.9" rx="2.8" ry="2.3" transform="rotate(34 1110 1402.9)"/><ellipse cx="786.7" cy="1630.5" rx="1.7" ry="1.7" transform="rotate(3 786.7 1630.5)"/><ellipse cx="980.3" cy="1494.1" rx="2.5" ry="2.2" transform="rotate(-3 980.3 1494.1)"/><ellipse cx="946.3" cy="1539" rx="1.8" ry="1.2" transform="rotate(-1 946.3 1539)"/><ellipse cx="779.8" cy="1606.3" rx="3" ry="2.2" transform="rotate(21 779.8 1606.3)"/><ellipse cx="788.8" cy="1615.1" rx="2.8" ry="2.6" transform="rotate(-36 788.8 1615.1)"/><ellipse cx="1040.7" cy="1469.4" rx="2.5" ry="2.1" transform="rotate(-25 1040.7 1469.4)"/><ellipse cx="809.1" cy="1591.9" rx="2.8" ry="2.3" transform="rotate(0 809.1 1591.9)"/><ellipse cx="980.2" cy="1497.9" rx="2.3" ry="1.5" transform="rotate(-11 980.2 1497.9)"/><ellipse cx="748.1" cy="1665.6" rx="2.4" ry="1.7" transform="rotate(28 748.1 1665.6)"/><ellipse cx="1127.2" cy="1430.4" rx="2.4" ry="2.2" transform="rotate(-18 1127.2 1430.4)"/><ellipse cx="1003.8" cy="1508.5" rx="2.7" ry="2" transform="rotate(-7 1003.8 1508.5)"/><ellipse cx="784.7" cy="1642.8" rx="2.5" ry="2.1" transform="rotate(3 784.7 1642.8)"/><ellipse cx="781.3" cy="1611.1" rx="2.5" ry="2.1" transform="rotate(0 781.3 1611.1)"/><ellipse cx="853.4" cy="1589.8" rx="1.9" ry="1.9" transform="rotate(32 853.4 1589.8)"/><ellipse cx="878.6" cy="1565.1" rx="1.6" ry="1.2" transform="rotate(-34 878.6 1565.1)"/><ellipse cx="1198.9" cy="1396.3" rx="2" ry="1.5" transform="rotate(34 1198.9 1396.3)"/><ellipse cx="737.1" cy="1655.9" rx="1.5" ry="1.5" transform="rotate(11 737.1 1655.9)"/><ellipse cx="948.6" cy="1530.8" rx="2.2" ry="2.1" transform="rotate(31 948.6 1530.8)"/><ellipse cx="752.5" cy="1655" rx="2.4" ry="2.1" transform="rotate(-34 752.5 1655)"/><ellipse cx="741" cy="1626.2" rx="2.2" ry="2.1" transform="rotate(-24 741 1626.2)"/><ellipse cx="777.4" cy="1626.6" rx="2.6" ry="1.8" transform="rotate(20 777.4 1626.6)"/><ellipse cx="1137.3" cy="1433.7" rx="2.9" ry="2.6" transform="rotate(3 1137.3 1433.7)"/><ellipse cx="1128" cy="1428.5" rx="2.5" ry="1.8" transform="rotate(-12 1128 1428.5)"/><ellipse cx="1152.7" cy="1424.2" rx="1.9" ry="1.9" transform="rotate(-35 1152.7 1424.2)"/><ellipse cx="699.5" cy="1583.6" rx="2.9" ry="2.3" transform="rotate(-8 699.5 1583.6)"/><ellipse cx="999.3" cy="1502.9" rx="2.1" ry="1.7" transform="rotate(36 999.3 1502.9)"/><ellipse cx="995.8" cy="1495.1" rx="1.6" ry="1.1" transform="rotate(0 995.8 1495.1)"/><ellipse cx="951.8" cy="1493.2" rx="2.9" ry="2" transform="rotate(30 951.8 1493.2)"/><ellipse cx="722.9" cy="1601.6" rx="1.8" ry="1.4" transform="rotate(20 722.9 1601.6)"/><ellipse cx="945.3" cy="1519.3" rx="2.2" ry="1.7" transform="rotate(36 945.3 1519.3)"/><ellipse cx="810.8" cy="1606.4" rx="2" ry="1.8" transform="rotate(-36 810.8 1606.4)"/><ellipse cx="919.9" cy="1568" rx="1.9" ry="1.5" transform="rotate(-14 919.9 1568)"/><ellipse cx="880.7" cy="1574" rx="2.1" ry="1.8" transform="rotate(-16 880.7 1574)"/><ellipse cx="1010.7" cy="1502.1" rx="2.4" ry="2" transform="rotate(-33 1010.7 1502.1)"/><ellipse cx="686.3" cy="1582.9" rx="1.7" ry="1.5" transform="rotate(-12 686.3 1582.9)"/><ellipse cx="858.5" cy="1559.2" rx="1.7" ry="1.2" transform="rotate(14 858.5 1559.2)"/><ellipse cx="866.7" cy="1591.2" rx="2.5" ry="2" transform="rotate(8 866.7 1591.2)"/><ellipse cx="956" cy="1492.9" rx="2" ry="1.9" transform="rotate(-10 956 1492.9)"/><ellipse cx="790" cy="1633.1" rx="2.8" ry="2.2" transform="rotate(-10 790 1633.1)"/><ellipse cx="867.2" cy="1551.9" rx="1.6" ry="1.4" transform="rotate(0 867.2 1551.9)"/><ellipse cx="1201.5" cy="1402" rx="2.9" ry="2.7" transform="rotate(-38 1201.5 1402)"/><ellipse cx="746.6" cy="1662.6" rx="2.4" ry="2.1" transform="rotate(-5 746.6 1662.6)"/><ellipse cx="817" cy="1602.8" rx="1.8" ry="1.3" transform="rotate(29 817 1602.8)"/><ellipse cx="1160.9" cy="1387.8" rx="2.3" ry="1.7" transform="rotate(26 1160.9 1387.8)"/><ellipse cx="1053.3" cy="1466.8" rx="1.9" ry="1.3" transform="rotate(-1 1053.3 1466.8)"/><ellipse cx="1133.5" cy="1397.6" rx="1.7" ry="1.3" transform="rotate(24 1133.5 1397.6)"/><ellipse cx="1046.8" cy="1436.6" rx="1.5" ry="1.4" transform="rotate(0 1046.8 1436.6)"/><ellipse cx="710.1" cy="1645.8" rx="2" ry="1.7" transform="rotate(-6 710.1 1645.8)"/><ellipse cx="768.8" cy="1652.4" rx="2.3" ry="1.8" transform="rotate(-17 768.8 1652.4)"/><ellipse cx="1188" cy="1407.7" rx="2" ry="1.7" transform="rotate(4 1188 1407.7)"/><ellipse cx="764" cy="1645.6" rx="1.7" ry="1.4" transform="rotate(-38 764 1645.6)"/><ellipse cx="687.6" cy="1614.2" rx="2.4" ry="2.4" transform="rotate(12 687.6 1614.2)"/><ellipse cx="754.6" cy="1665.5" rx="2.2" ry="2.1" transform="rotate(-36 754.6 1665.5)"/><ellipse cx="972.5" cy="1491.5" rx="2" ry="1.4" transform="rotate(6 972.5 1491.5)"/><ellipse cx="1078.7" cy="1427.4" rx="2.5" ry="2.2" transform="rotate(16 1078.7 1427.4)"/><ellipse cx="887.4" cy="1570.9" rx="2" ry="2" transform="rotate(26 887.4 1570.9)"/><ellipse cx="1030.9" cy="1460.7" rx="2.9" ry="2.8" transform="rotate(35 1030.9 1460.7)"/><ellipse cx="1135.3" cy="1427.5" rx="2.7" ry="2.6" transform="rotate(-3 1135.3 1427.5)"/><ellipse cx="1122.9" cy="1433.1" rx="2.3" ry="2.2" transform="rotate(-37 1122.9 1433.1)"/><ellipse cx="709.5" cy="1590.6" rx="2.7" ry="1.9" transform="rotate(30 709.5 1590.6)"/><ellipse cx="811.5" cy="1619.4" rx="2.5" ry="2" transform="rotate(7 811.5 1619.4)"/><ellipse cx="1195" cy="1382" rx="2.3" ry="1.8" transform="rotate(-7 1195 1382)"/><ellipse cx="800.9" cy="1621.5" rx="2.9" ry="2.6" transform="rotate(3 800.9 1621.5)"/><ellipse cx="794.4" cy="1586.3" rx="2.3" ry="2.2" transform="rotate(29 794.4 1586.3)"/><ellipse cx="1101.1" cy="1455.6" rx="2.2" ry="2.1" transform="rotate(-25 1101.1 1455.6)"/><ellipse cx="990.5" cy="1514.3" rx="2.1" ry="1.6" transform="rotate(29 990.5 1514.3)"/><ellipse cx="945.9" cy="1507.3" rx="2.2" ry="1.9" transform="rotate(-11 945.9 1507.3)"/><ellipse cx="980.6" cy="1473.5" rx="2.9" ry="2.2" transform="rotate(3 980.6 1473.5)"/><ellipse cx="845.7" cy="1554.8" rx="1.7" ry="1.2" transform="rotate(28 845.7 1554.8)"/><ellipse cx="768.2" cy="1613" rx="2.2" ry="1.6" transform="rotate(-15 768.2 1613)"/><ellipse cx="957.7" cy="1501.1" rx="2.4" ry="1.6" transform="rotate(1 957.7 1501.1)"/><ellipse cx="790.2" cy="1618.3" rx="1.9" ry="1.7" transform="rotate(9 790.2 1618.3)"/><ellipse cx="1034.3" cy="1453.7" rx="1.7" ry="1.5" transform="rotate(24 1034.3 1453.7)"/><ellipse cx="706" cy="1600.7" rx="2.1" ry="2.1" transform="rotate(4 706 1600.7)"/><ellipse cx="1108.5" cy="1417" rx="2.4" ry="1.9" transform="rotate(-2 1108.5 1417)"/><ellipse cx="1062.4" cy="1436.4" rx="2.7" ry="1.9" transform="rotate(-14 1062.4 1436.4)"/><ellipse cx="1212.2" cy="1362.9" rx="2.9" ry="1.9" transform="rotate(36 1212.2 1362.9)"/><ellipse cx="764.9" cy="1646.8" rx="1.7" ry="1.5" transform="rotate(-39 764.9 1646.8)"/><ellipse cx="701.7" cy="1585.3" rx="2.2" ry="1.7" transform="rotate(19 701.7 1585.3)"/><ellipse cx="1202.8" cy="1399.3" rx="1.7" ry="1.6" transform="rotate(31 1202.8 1399.3)"/><ellipse cx="996.4" cy="1474.6" rx="1.9" ry="1.4" transform="rotate(-24 996.4 1474.6)"/><ellipse cx="901.1" cy="1568.5" rx="2.3" ry="2.2" transform="rotate(-33 901.1 1568.5)"/><ellipse cx="987.4" cy="1509.9" rx="1.8" ry="1.6" transform="rotate(-7 987.4 1509.9)"/><ellipse cx="1023.4" cy="1457.1" rx="1.9" ry="1.7" transform="rotate(-38 1023.4 1457.1)"/><ellipse cx="1005.2" cy="1505" rx="1.9" ry="1.6" transform="rotate(-1 1005.2 1505)"/><ellipse cx="782.7" cy="1620.1" rx="1.8" ry="1.6" transform="rotate(-19 782.7 1620.1)"/><ellipse cx="857.4" cy="1602" rx="2" ry="1.9" transform="rotate(18 857.4 1602)"/><ellipse cx="1009.2" cy="1456.8" rx="2.9" ry="2.5" transform="rotate(-30 1009.2 1456.8)"/><ellipse cx="981.5" cy="1515.8" rx="1.9" ry="1.8" transform="rotate(9 981.5 1515.8)"/><ellipse cx="735.2" cy="1656.7" rx="1.9" ry="1.7" transform="rotate(28 735.2 1656.7)"/><ellipse cx="781.5" cy="1642.1" rx="1.8" ry="1.7" transform="rotate(14 781.5 1642.1)"/><ellipse cx="1173" cy="1413.9" rx="3" ry="2.9" transform="rotate(5 1173 1413.9)"/><ellipse cx="1064" cy="1450.6" rx="2.2" ry="1.8" transform="rotate(-22 1064 1450.6)"/><ellipse cx="1146" cy="1432.2" rx="2.5" ry="2.2" transform="rotate(0 1146 1432.2)"/><ellipse cx="1062.1" cy="1426.1" rx="2.1" ry="2.1" transform="rotate(-23 1062.1 1426.1)"/><ellipse cx="784.9" cy="1602.3" rx="2.7" ry="1.8" transform="rotate(23 784.9 1602.3)"/><ellipse cx="1157.1" cy="1387.6" rx="2.9" ry="2.3" transform="rotate(-3 1157.1 1387.6)"/><ellipse cx="1004.7" cy="1503.1" rx="1.6" ry="1" transform="rotate(-18 1004.7 1503.1)"/><ellipse cx="735.6" cy="1615.6" rx="2.9" ry="2.6" transform="rotate(-24 735.6 1615.6)"/><ellipse cx="898.1" cy="1554.6" rx="1.5" ry="1.4" transform="rotate(22 898.1 1554.6)"/><ellipse cx="1073.5" cy="1441.2" rx="1.6" ry="1.2" transform="rotate(19 1073.5 1441.2)"/><ellipse cx="811.8" cy="1585.8" rx="2.2" ry="1.4" transform="rotate(-36 811.8 1585.8)"/><ellipse cx="811.4" cy="1628.2" rx="1.6" ry="1.5" transform="rotate(23 811.4 1628.2)"/><ellipse cx="1003.6" cy="1524" rx="2.4" ry="1.9" transform="rotate(38 1003.6 1524)"/><ellipse cx="1198.1" cy="1367.3" rx="2.1" ry="1.6" transform="rotate(12 1198.1 1367.3)"/><ellipse cx="1072.8" cy="1431.3" rx="3" ry="2.7" transform="rotate(0 1072.8 1431.3)"/><ellipse cx="798.9" cy="1616.5" rx="2.7" ry="2.4" transform="rotate(13 798.9 1616.5)"/><ellipse cx="710.5" cy="1602.4" rx="2.4" ry="1.9" transform="rotate(-3 710.5 1602.4)"/><ellipse cx="1025.4" cy="1504.8" rx="1.9" ry="1.4" transform="rotate(-25 1025.4 1504.8)"/><ellipse cx="737.4" cy="1660.2" rx="1.6" ry="1.2" transform="rotate(32 737.4 1660.2)"/><ellipse cx="1209" cy="1405.4" rx="1.9" ry="1.3" transform="rotate(-20 1209 1405.4)"/><ellipse cx="755.6" cy="1619.1" rx="2.2" ry="1.9" transform="rotate(-27 755.6 1619.1)"/><ellipse cx="699.7" cy="1584.6" rx="1.6" ry="1.1" transform="rotate(23 699.7 1584.6)"/><ellipse cx="768.5" cy="1647.5" rx="2.7" ry="2.4" transform="rotate(-16 768.5 1647.5)"/><ellipse cx="786.7" cy="1587.7" rx="2.9" ry="2.1" transform="rotate(33 786.7 1587.7)"/><ellipse cx="770.5" cy="1600.2" rx="2.4" ry="1.7" transform="rotate(13 770.5 1600.2)"/><ellipse cx="857.4" cy="1574.9" rx="1.7" ry="1.7" transform="rotate(10 857.4 1574.9)"/><ellipse cx="1041" cy="1441.8" rx="2.8" ry="2.6" transform="rotate(1 1041 1441.8)"/><ellipse cx="980.1" cy="1522.1" rx="2.3" ry="1.7" transform="rotate(1 980.1 1522.1)"/><ellipse cx="750.7" cy="1639.3" rx="2.8" ry="2.5" transform="rotate(-23 750.7 1639.3)"/><ellipse cx="1023" cy="1485.9" rx="2.1" ry="1.8" transform="rotate(15 1023 1485.9)"/><ellipse cx="991.2" cy="1517.6" rx="2.5" ry="1.7" transform="rotate(-19 991.2 1517.6)"/><ellipse cx="915.1" cy="1542.5" rx="1.9" ry="1.9" transform="rotate(18 915.1 1542.5)"/><ellipse cx="1077.9" cy="1476.6" rx="1.7" ry="1.4" transform="rotate(36 1077.9 1476.6)"/><ellipse cx="1161.5" cy="1420.6" rx="1.9" ry="1.3" transform="rotate(24 1161.5 1420.6)"/><ellipse cx="913.3" cy="1541.7" rx="2.6" ry="2.5" transform="rotate(33 913.3 1541.7)"/><ellipse cx="831.2" cy="1583" rx="1.4" ry="1" transform="rotate(-12 831.2 1583)"/><ellipse cx="972.6" cy="1485.9" rx="2.4" ry="1.9" transform="rotate(-20 972.6 1485.9)"/><ellipse cx="902.8" cy="1519.2" rx="2.7" ry="2.5" transform="rotate(30 902.8 1519.2)"/><ellipse cx="872.6" cy="1580.3" rx="1.6" ry="1.6" transform="rotate(12 872.6 1580.3)"/><ellipse cx="772.7" cy="1611.2" rx="2.1" ry="2.1" transform="rotate(-28 772.7 1611.2)"/><ellipse cx="785" cy="1648.8" rx="2.6" ry="2.4" transform="rotate(19 785 1648.8)"/><ellipse cx="862" cy="1543.8" rx="2.3" ry="1.5" transform="rotate(-24 862 1543.8)"/><ellipse cx="1181.6" cy="1408" rx="1.9" ry="1.8" transform="rotate(-27 1181.6 1408)"/><ellipse cx="927.9" cy="1555.5" rx="1.6" ry="1.4" transform="rotate(3 927.9 1555.5)"/><ellipse cx="906.8" cy="1518.1" rx="1.6" ry="1.4" transform="rotate(0 906.8 1518.1)"/><ellipse cx="842" cy="1570.9" rx="1.7" ry="1.6" transform="rotate(16 842 1570.9)"/><ellipse cx="1090" cy="1412.1" rx="2.1" ry="1.6" transform="rotate(21 1090 1412.1)"/><ellipse cx="1070.3" cy="1433.8" rx="1.5" ry="1.3" transform="rotate(15 1070.3 1433.8)"/><ellipse cx="736.6" cy="1658.3" rx="2" ry="1.6" transform="rotate(12 736.6 1658.3)"/><ellipse cx="1054.2" cy="1463.8" rx="2.6" ry="2.2" transform="rotate(-37 1054.2 1463.8)"/><ellipse cx="943.2" cy="1516.1" rx="2" ry="1.5" transform="rotate(-15 943.2 1516.1)"/><ellipse cx="1165.3" cy="1395.8" rx="2.8" ry="1.9" transform="rotate(1 1165.3 1395.8)"/><ellipse cx="1116.1" cy="1419.7" rx="1.7" ry="1.6" transform="rotate(8 1116.1 1419.7)"/><ellipse cx="911.3" cy="1520.1" rx="2.3" ry="1.8" transform="rotate(31 911.3 1520.1)"/><ellipse cx="1104.1" cy="1438.5" rx="2.6" ry="1.8" transform="rotate(39 1104.1 1438.5)"/><ellipse cx="1029.7" cy="1456.7" rx="1.5" ry="1.4" transform="rotate(18 1029.7 1456.7)"/><ellipse cx="868.3" cy="1569.2" rx="2.6" ry="2.3" transform="rotate(32 868.3 1569.2)"/><ellipse cx="732" cy="1598.2" rx="2.4" ry="2" transform="rotate(-34 732 1598.2)"/><ellipse cx="1062.9" cy="1481.6" rx="1.5" ry="1.3" transform="rotate(23 1062.9 1481.6)"/><ellipse cx="740.6" cy="1663.3" rx="1.9" ry="1.4" transform="rotate(-28 740.6 1663.3)"/><ellipse cx="945.6" cy="1538.9" rx="2.9" ry="2.5" transform="rotate(36 945.6 1538.9)"/><ellipse cx="1057.9" cy="1428.1" rx="2.1" ry="1.4" transform="rotate(-29 1057.9 1428.1)"/><ellipse cx="802.3" cy="1595.2" rx="2.2" ry="1.9" transform="rotate(-37 802.3 1595.2)"/><ellipse cx="724.9" cy="1619.5" rx="1.5" ry="1.3" transform="rotate(-10 724.9 1619.5)"/><ellipse cx="771" cy="1605.5" rx="1.5" ry="1.3" transform="rotate(36 771 1605.5)"/><ellipse cx="801.2" cy="1611.4" rx="2" ry="2" transform="rotate(16 801.2 1611.4)"/><ellipse cx="869.2" cy="1565.4" rx="2.2" ry="1.8" transform="rotate(5 869.2 1565.4)"/><ellipse cx="706.3" cy="1646.6" rx="2" ry="1.7" transform="rotate(20 706.3 1646.6)"/><ellipse cx="1095.1" cy="1431.4" rx="2.5" ry="1.8" transform="rotate(9 1095.1 1431.4)"/><ellipse cx="689.7" cy="1584.3" rx="2" ry="1.8" transform="rotate(-38 689.7 1584.3)"/><ellipse cx="791.6" cy="1643.7" rx="2.9" ry="2.5" transform="rotate(27 791.6 1643.7)"/><ellipse cx="959.2" cy="1540.7" rx="1.5" ry="1.3" transform="rotate(11 959.2 1540.7)"/><ellipse cx="818.7" cy="1571.6" rx="2.2" ry="1.9" transform="rotate(14 818.7 1571.6)"/><ellipse cx="1015.7" cy="1515.4" rx="1.8" ry="1.7" transform="rotate(36 1015.7 1515.4)"/><ellipse cx="955.7" cy="1514.3" rx="2.1" ry="1.5" transform="rotate(-34 955.7 1514.3)"/><ellipse cx="830.1" cy="1618.1" rx="2" ry="1.9" transform="rotate(5 830.1 1618.1)"/><ellipse cx="1170.5" cy="1409.3" rx="2.1" ry="1.6" transform="rotate(5 1170.5 1409.3)"/><ellipse cx="1138.4" cy="1384.4" rx="2.4" ry="1.9" transform="rotate(-6 1138.4 1384.4)"/><ellipse cx="1210.9" cy="1404.4" rx="2" ry="1.9" transform="rotate(36 1210.9 1404.4)"/><ellipse cx="1013.7" cy="1466.5" rx="2.7" ry="2.2" transform="rotate(20 1013.7 1466.5)"/><ellipse cx="1041.9" cy="1482.5" rx="2.3" ry="1.6" transform="rotate(-3 1041.9 1482.5)"/><ellipse cx="688.8" cy="1636.1" rx="2" ry="1.4" transform="rotate(-5 688.8 1636.1)"/><ellipse cx="719.8" cy="1605.1" rx="1.7" ry="1.5" transform="rotate(34 719.8 1605.1)"/><ellipse cx="727.7" cy="1632.7" rx="2.2" ry="1.7" transform="rotate(-39 727.7 1632.7)"/><ellipse cx="994.8" cy="1486.4" rx="3" ry="2.3" transform="rotate(27 994.8 1486.4)"/><ellipse cx="1122.4" cy="1422.8" rx="2.2" ry="2.1" transform="rotate(-30 1122.4 1422.8)"/><ellipse cx="754.5" cy="1635.2" rx="2.1" ry="2.1" transform="rotate(34 754.5 1635.2)"/><ellipse cx="981.9" cy="1478.8" rx="2.6" ry="2.2" transform="rotate(-26 981.9 1478.8)"/><ellipse cx="768.4" cy="1607.7" rx="2.2" ry="2.2" transform="rotate(-28 768.4 1607.7)"/><ellipse cx="1120.8" cy="1413.6" rx="2.9" ry="1.9" transform="rotate(-20 1120.8 1413.6)"/><ellipse cx="1147.7" cy="1382.9" rx="2.5" ry="2.4" transform="rotate(37 1147.7 1382.9)"/><ellipse cx="772.2" cy="1624.5" rx="1.7" ry="1.2" transform="rotate(-20 772.2 1624.5)"/><ellipse cx="1019.1" cy="1459" rx="1.9" ry="1.2" transform="rotate(34 1019.1 1459)"/><ellipse cx="970.8" cy="1540.9" rx="3" ry="2.1" transform="rotate(-19 970.8 1540.9)"/><ellipse cx="1044.1" cy="1474.7" rx="2.2" ry="2.1" transform="rotate(2 1044.1 1474.7)"/><ellipse cx="1063.2" cy="1486.8" rx="1.5" ry="1.2" transform="rotate(-28 1063.2 1486.8)"/><ellipse cx="951.5" cy="1544" rx="2.5" ry="2.4" transform="rotate(6 951.5 1544)"/><ellipse cx="1207.1" cy="1394.2" rx="1.9" ry="1.3" transform="rotate(33 1207.1 1394.2)"/><ellipse cx="742.8" cy="1664.2" rx="2.5" ry="2.4" transform="rotate(8 742.8 1664.2)"/><ellipse cx="1029" cy="1459.3" rx="1.5" ry="1.4" transform="rotate(-3 1029 1459.3)"/><ellipse cx="716.3" cy="1605.5" rx="1.8" ry="1.7" transform="rotate(9 716.3 1605.5)"/><ellipse cx="1133" cy="1413.1" rx="2.1" ry="1.7" transform="rotate(-11 1133 1413.1)"/><ellipse cx="1164.7" cy="1385.8" rx="2.5" ry="1.8" transform="rotate(-39 1164.7 1385.8)"/><ellipse cx="1113.9" cy="1417.2" rx="3" ry="2.7" transform="rotate(-14 1113.9 1417.2)"/><ellipse cx="1145.6" cy="1386.6" rx="2.9" ry="2.3" transform="rotate(-18 1145.6 1386.6)"/><ellipse cx="997.2" cy="1497.4" rx="1.9" ry="1.3" transform="rotate(10 997.2 1497.4)"/><ellipse cx="1075.7" cy="1443.6" rx="2.8" ry="1.8" transform="rotate(-29 1075.7 1443.6)"/><ellipse cx="716" cy="1622.1" rx="1.8" ry="1.5" transform="rotate(-39 716 1622.1)"/><ellipse cx="745.7" cy="1662.8" rx="1.5" ry="1.3" transform="rotate(0 745.7 1662.8)"/><ellipse cx="1144.1" cy="1420" rx="2.9" ry="2.6" transform="rotate(33 1144.1 1420)"/><ellipse cx="735.5" cy="1620.1" rx="2.9" ry="2.7" transform="rotate(37 735.5 1620.1)"/><ellipse cx="932.4" cy="1534.6" rx="2.7" ry="1.8" transform="rotate(3 932.4 1534.6)"/><ellipse cx="1086.4" cy="1433.9" rx="2.4" ry="2.2" transform="rotate(-9 1086.4 1433.9)"/><ellipse cx="1173.7" cy="1385.2" rx="2.2" ry="1.8" transform="rotate(27 1173.7 1385.2)"/><ellipse cx="883.1" cy="1554.6" rx="2.4" ry="1.7" transform="rotate(38 883.1 1554.6)"/><ellipse cx="1092.3" cy="1435.1" rx="1.4" ry="1.1" transform="rotate(5 1092.3 1435.1)"/><ellipse cx="746.9" cy="1644.1" rx="2.1" ry="1.4" transform="rotate(-20 746.9 1644.1)"/><ellipse cx="1054.2" cy="1441.6" rx="2.2" ry="1.6" transform="rotate(5 1054.2 1441.6)"/><ellipse cx="992.2" cy="1514.8" rx="2.4" ry="1.6" transform="rotate(12 992.2 1514.8)"/><ellipse cx="1105.7" cy="1461.4" rx="2" ry="1.9" transform="rotate(-21 1105.7 1461.4)"/><ellipse cx="751" cy="1658.9" rx="2.1" ry="1.7" transform="rotate(0 751 1658.9)"/><ellipse cx="856.7" cy="1589.3" rx="2.4" ry="1.6" transform="rotate(-18 856.7 1589.3)"/><ellipse cx="881.6" cy="1549" rx="2.3" ry="1.8" transform="rotate(35 881.6 1549)"/><ellipse cx="809.2" cy="1586.3" rx="1.7" ry="1.3" transform="rotate(-17 809.2 1586.3)"/><ellipse cx="1165.3" cy="1370.8" rx="1.4" ry="1" transform="rotate(-15 1165.3 1370.8)"/><ellipse cx="707.1" cy="1606.6" rx="2.6" ry="2.5" transform="rotate(38 707.1 1606.6)"/><ellipse cx="1051.2" cy="1440.6" rx="2.4" ry="2.3" transform="rotate(30 1051.2 1440.6)"/><ellipse cx="826.6" cy="1620.3" rx="2.5" ry="2.3" transform="rotate(-34 826.6 1620.3)"/><ellipse cx="759.2" cy="1648.5" rx="2.7" ry="2" transform="rotate(-39 759.2 1648.5)"/><ellipse cx="1218.4" cy="1375.8" rx="2" ry="1.5" transform="rotate(24 1218.4 1375.8)"/><ellipse cx="920.2" cy="1521.9" rx="3" ry="2.4" transform="rotate(-4 920.2 1521.9)"/><ellipse cx="1089.6" cy="1473.7" rx="2.2" ry="2" transform="rotate(-7 1089.6 1473.7)"/><ellipse cx="1126" cy="1451.9" rx="2.6" ry="2.3" transform="rotate(26 1126 1451.9)"/><ellipse cx="1197.2" cy="1382.2" rx="2" ry="1.3" transform="rotate(2 1197.2 1382.2)"/><ellipse cx="748.6" cy="1671.3" rx="1.9" ry="1.8" transform="rotate(-38 748.6 1671.3)"/><ellipse cx="1117.4" cy="1437.5" rx="2.5" ry="2" transform="rotate(-32 1117.4 1437.5)"/><ellipse cx="1106.7" cy="1431" rx="2.3" ry="2.1" transform="rotate(0 1106.7 1431)"/><ellipse cx="976.5" cy="1522.9" rx="2.6" ry="2" transform="rotate(22 976.5 1522.9)"/><ellipse cx="1065.5" cy="1448.2" rx="2.8" ry="2.8" transform="rotate(22 1065.5 1448.2)"/><ellipse cx="913.8" cy="1539.5" rx="2.4" ry="1.6" transform="rotate(3 913.8 1539.5)"/><ellipse cx="778.6" cy="1647.3" rx="2.3" ry="2.3" transform="rotate(17 778.6 1647.3)"/><ellipse cx="1102.9" cy="1429.5" rx="1.6" ry="1.5" transform="rotate(30 1102.9 1429.5)"/><ellipse cx="850.8" cy="1580.1" rx="2.2" ry="1.7" transform="rotate(0 850.8 1580.1)"/><ellipse cx="1210" cy="1381" rx="3" ry="2.9" transform="rotate(-25 1210 1381)"/><ellipse cx="927.8" cy="1542" rx="2.3" ry="2.1" transform="rotate(-15 927.8 1542)"/><ellipse cx="922.4" cy="1557.2" rx="2.2" ry="1.9" transform="rotate(39 922.4 1557.2)"/><ellipse cx="750.7" cy="1663.7" rx="2.2" ry="2" transform="rotate(26 750.7 1663.7)"/><ellipse cx="930.1" cy="1566.1" rx="2" ry="1.8" transform="rotate(26 930.1 1566.1)"/><ellipse cx="946.1" cy="1516.5" rx="1.9" ry="1.5" transform="rotate(27 946.1 1516.5)"/><ellipse cx="747.6" cy="1657.7" rx="2.3" ry="2" transform="rotate(-16 747.6 1657.7)"/><ellipse cx="1159.9" cy="1394.1" rx="2.2" ry="1.6" transform="rotate(-19 1159.9 1394.1)"/><ellipse cx="1050.7" cy="1461.3" rx="2.4" ry="1.7" transform="rotate(-39 1050.7 1461.3)"/><ellipse cx="1019.2" cy="1462.5" rx="2.3" ry="1.7" transform="rotate(-18 1019.2 1462.5)"/><ellipse cx="918.3" cy="1557" rx="2.6" ry="2" transform="rotate(-37 918.3 1557)"/><ellipse cx="1008" cy="1494.6" rx="2.5" ry="2.1" transform="rotate(32 1008 1494.6)"/><ellipse cx="746.1" cy="1645.5" rx="2.1" ry="2" transform="rotate(31 746.1 1645.5)"/><ellipse cx="752.9" cy="1644.7" rx="2.1" ry="1.8" transform="rotate(26 752.9 1644.7)"/><ellipse cx="737.1" cy="1620.5" rx="1.8" ry="1.2" transform="rotate(-31 737.1 1620.5)"/><ellipse cx="997.4" cy="1524.1" rx="1.7" ry="1.3" transform="rotate(-10 997.4 1524.1)"/><ellipse cx="915" cy="1554.2" rx="3.4" ry="2.2" transform="rotate(6 915 1554.2)"/><ellipse cx="811.4" cy="1573.5" rx="4.7" ry="3.1" transform="rotate(34 811.4 1573.5)"/><ellipse cx="823.9" cy="1589.8" rx="3.1" ry="2.1" transform="rotate(-11 823.9 1589.8)"/><ellipse cx="1176.6" cy="1408.5" rx="4.6" ry="3.9" transform="rotate(0 1176.6 1408.5)"/><ellipse cx="982.2" cy="1497.7" rx="5.1" ry="3.8" transform="rotate(-7 982.2 1497.7)"/><ellipse cx="1202.2" cy="1367.2" rx="4.1" ry="3.2" transform="rotate(-23 1202.2 1367.2)"/><ellipse cx="1120.1" cy="1404.4" rx="4.2" ry="3.1" transform="rotate(6 1120.1 1404.4)"/><ellipse cx="802.8" cy="1607" rx="3.5" ry="3" transform="rotate(14 802.8 1607)"/><ellipse cx="856.9" cy="1563.8" rx="3.8" ry="3.7" transform="rotate(29 856.9 1563.8)"/><ellipse cx="933.8" cy="1529.5" rx="3.5" ry="2.8" transform="rotate(36 933.8 1529.5)"/><ellipse cx="704.3" cy="1594.1" rx="5.1" ry="3.9" transform="rotate(-1 704.3 1594.1)"/><ellipse cx="725.9" cy="1627.2" rx="5" ry="4.5" transform="rotate(19 725.9 1627.2)"/><ellipse cx="866.5" cy="1577.5" rx="3.1" ry="3.1" transform="rotate(17 866.5 1577.5)"/><ellipse cx="918.5" cy="1513.6" rx="4.4" ry="4" transform="rotate(-30 918.5 1513.6)"/><ellipse cx="725.5" cy="1624.1" rx="5" ry="4" transform="rotate(38 725.5 1624.1)"/><ellipse cx="899.7" cy="1554.3" rx="4.5" ry="3.6" transform="rotate(25 899.7 1554.3)"/><ellipse cx="1133.8" cy="1400.8" rx="4.3" ry="3.6" transform="rotate(6 1133.8 1400.8)"/><ellipse cx="734.7" cy="1628" rx="3.4" ry="3.2" transform="rotate(4 734.7 1628)"/><ellipse cx="1096.7" cy="1446.2" rx="5.3" ry="3.5" transform="rotate(-13 1096.7 1446.2)"/><ellipse cx="1047.9" cy="1448.2" rx="3.1" ry="2.1" transform="rotate(-26 1047.9 1448.2)"/><ellipse cx="962.8" cy="1513.2" rx="3" ry="2.5" transform="rotate(-19 962.8 1513.2)"/><ellipse cx="679.8" cy="1577" rx="4" ry="2.8" transform="rotate(-2 679.8 1577)"/><ellipse cx="1094.4" cy="1464" rx="3.8" ry="2.6" transform="rotate(37 1094.4 1464)"/><ellipse cx="722.9" cy="1641.3" rx="4.2" ry="4" transform="rotate(-28 722.9 1641.3)"/><ellipse cx="1175.4" cy="1418.6" rx="5.1" ry="4.1" transform="rotate(0 1175.4 1418.6)"/><ellipse cx="927.2" cy="1520.2" rx="3.1" ry="2.2" transform="rotate(-28 927.2 1520.2)"/><ellipse cx="893.9" cy="1545.7" rx="5.4" ry="4.8" transform="rotate(-5 893.9 1545.7)"/><ellipse cx="702.2" cy="1599.1" rx="5.4" ry="4.3" transform="rotate(37 702.2 1599.1)"/><ellipse cx="770.7" cy="1652.4" rx="3.2" ry="3" transform="rotate(7 770.7 1652.4)"/><ellipse cx="1141.1" cy="1408" rx="5.5" ry="4.6" transform="rotate(35 1141.1 1408)"/><ellipse cx="925.5" cy="1549.5" rx="4.8" ry="4.2" transform="rotate(-38 925.5 1549.5)"/><ellipse cx="1107" cy="1412.4" rx="3.2" ry="2.2" transform="rotate(3 1107 1412.4)"/><ellipse cx="737.3" cy="1627.4" rx="5.5" ry="5" transform="rotate(-5 737.3 1627.4)"/><ellipse cx="949.2" cy="1530.3" rx="5.2" ry="5" transform="rotate(-14 949.2 1530.3)"/><ellipse cx="724" cy="1637.4" rx="4.6" ry="4.3" transform="rotate(24 724 1637.4)"/><ellipse cx="1135.1" cy="1391.6" rx="5.4" ry="4.7" transform="rotate(-32 1135.1 1391.6)"/><ellipse cx="1050.3" cy="1452.4" rx="5.3" ry="4" transform="rotate(-1 1050.3 1452.4)"/><ellipse cx="1191" cy="1371" rx="5.2" ry="4.7" transform="rotate(5 1191 1371)"/><ellipse cx="1164.4" cy="1415.3" rx="4.4" ry="2.9" transform="rotate(-22 1164.4 1415.3)"/><ellipse cx="803.4" cy="1616.8" rx="3.9" ry="3" transform="rotate(25 803.4 1616.8)"/><ellipse cx="1100.3" cy="1432.6" rx="4.3" ry="4.3" transform="rotate(34 1100.3 1432.6)"/><ellipse cx="785.5" cy="1644" rx="3.1" ry="2.2" transform="rotate(12 785.5 1644)"/><ellipse cx="1103.1" cy="1446.6" rx="3.4" ry="3.3" transform="rotate(39 1103.1 1446.6)"/><ellipse cx="1210.8" cy="1391.9" rx="4.2" ry="3.9" transform="rotate(35 1210.8 1391.9)"/><ellipse cx="787.8" cy="1608.3" rx="4.8" ry="3.7" transform="rotate(-26 787.8 1608.3)"/><ellipse cx="814.8" cy="1599.3" rx="3.2" ry="2.9" transform="rotate(-22 814.8 1599.3)"/><ellipse cx="798.9" cy="1618.7" rx="4.6" ry="3.3" transform="rotate(10 798.9 1618.7)"/><ellipse cx="1038.3" cy="1451.5" rx="4.2" ry="4" transform="rotate(9 1038.3 1451.5)"/><ellipse cx="905.7" cy="1573.1" rx="3.1" ry="2.6" transform="rotate(1 905.7 1573.1)"/><ellipse cx="749.6" cy="1613" rx="5.1" ry="4.1" transform="rotate(-16 749.6 1613)"/><ellipse cx="773.1" cy="1597.8" rx="5.1" ry="4.6" transform="rotate(-24 773.1 1597.8)"/><ellipse cx="784.5" cy="1606.6" rx="4.3" ry="3.9" transform="rotate(0 784.5 1606.6)"/><ellipse cx="1218.3" cy="1372.4" rx="3.1" ry="2.2" transform="rotate(13 1218.3 1372.4)"/><ellipse cx="741.1" cy="1606.1" rx="3.1" ry="3.1" transform="rotate(-7 741.1 1606.1)"/><ellipse cx="1029.1" cy="1452.5" rx="3.8" ry="3" transform="rotate(19 1029.1 1452.5)"/><ellipse cx="1075.4" cy="1429.7" rx="4.2" ry="4" transform="rotate(-26 1075.4 1429.7)"/><ellipse cx="1038.3" cy="1504.1" rx="3.1" ry="2.7" transform="rotate(-3 1038.3 1504.1)"/><ellipse cx="1144.1" cy="1384.6" rx="4.5" ry="3.4" transform="rotate(20 1144.1 1384.6)"/><ellipse cx="944.1" cy="1503.7" rx="4.9" ry="4.4" transform="rotate(5 944.1 1503.7)"/><ellipse cx="1195.2" cy="1364.8" rx="4.7" ry="4.4" transform="rotate(-18 1195.2 1364.8)"/><ellipse cx="896" cy="1583.7" rx="4.5" ry="4.4" transform="rotate(30 896 1583.7)"/><ellipse cx="922.9" cy="1535.9" rx="4.5" ry="4.2" transform="rotate(-6 922.9 1535.9)"/><ellipse cx="850.4" cy="1581.7" rx="3.4" ry="2.4" transform="rotate(-16 850.4 1581.7)"/><ellipse cx="717.1" cy="1629" rx="4" ry="3.7" transform="rotate(3 717.1 1629)"/><ellipse cx="788.6" cy="1605" rx="3.1" ry="2.2" transform="rotate(27 788.6 1605)"/><ellipse cx="1029" cy="1469.3" rx="4.7" ry="4.5" transform="rotate(26 1029 1469.3)"/><ellipse cx="1203.1" cy="1370.2" rx="5.5" ry="5" transform="rotate(-17 1203.1 1370.2)"/><ellipse cx="994.9" cy="1519.4" rx="3.2" ry="3.1" transform="rotate(13 994.9 1519.4)"/><ellipse cx="940" cy="1521" rx="4" ry="3.6" transform="rotate(-4 940 1521)"/><ellipse cx="1160.9" cy="1374.3" rx="3" ry="3" transform="rotate(-24 1160.9 1374.3)"/><ellipse cx="939" cy="1511.4" rx="3" ry="2.4" transform="rotate(7 939 1511.4)"/><ellipse cx="676.5" cy="1584" rx="5.2" ry="4.7" transform="rotate(-19 676.5 1584)"/><ellipse cx="944.5" cy="1539.7" rx="3.7" ry="2.9" transform="rotate(0 944.5 1539.7)"/><ellipse cx="950.5" cy="1538.7" rx="4.3" ry="2.9" transform="rotate(-12 950.5 1538.7)"/><ellipse cx="857.5" cy="1569" rx="4.4" ry="3.4" transform="rotate(-25 857.5 1569)"/><ellipse cx="779.2" cy="1647.9" rx="3.2" ry="2.7" transform="rotate(3 779.2 1647.9)"/><ellipse cx="1043.1" cy="1494.1" rx="3.8" ry="2.5" transform="rotate(-24 1043.1 1494.1)"/><ellipse cx="1030.3" cy="1493.1" rx="4" ry="3" transform="rotate(15 1030.3 1493.1)"/><ellipse cx="1178.3" cy="1369" rx="3.9" ry="3.4" transform="rotate(32 1178.3 1369)"/><ellipse cx="1119.2" cy="1399.9" rx="4.6" ry="3.5" transform="rotate(15 1119.2 1399.9)"/><ellipse cx="836.4" cy="1573.5" rx="4.8" ry="4.3" transform="rotate(33 836.4 1573.5)"/><ellipse cx="779.2" cy="1641.6" rx="3.6" ry="3.3" transform="rotate(0 779.2 1641.6)"/><ellipse cx="762.9" cy="1613.2" rx="4.9" ry="3.9" transform="rotate(30 762.9 1613.2)"/><ellipse cx="999.7" cy="1525.6" rx="3" ry="2.4" transform="rotate(2 999.7 1525.6)"/><ellipse cx="739" cy="1611.1" rx="4.5" ry="3.3" transform="rotate(-9 739 1611.1)"/><ellipse cx="884.7" cy="1539.2" rx="4.7" ry="4.1" transform="rotate(-33 884.7 1539.2)"/><ellipse cx="798.5" cy="1592.4" rx="3.7" ry="2.9" transform="rotate(0 798.5 1592.4)"/><ellipse cx="796" cy="1616.6" rx="4.6" ry="3.4" transform="rotate(-11 796 1616.6)"/><ellipse cx="1166" cy="1416.2" rx="4.2" ry="2.8" transform="rotate(-11 1166 1416.2)"/><ellipse cx="952.8" cy="1514.2" rx="4.6" ry="3.1" transform="rotate(11 952.8 1514.2)"/><ellipse cx="801.5" cy="1603.3" rx="5.1" ry="3.8" transform="rotate(2 801.5 1603.3)"/><ellipse cx="1008.6" cy="1482" rx="3.9" ry="3.8" transform="rotate(15 1008.6 1482)"/><ellipse cx="906" cy="1546.1" rx="3.9" ry="3.7" transform="rotate(-10 906 1546.1)"/><ellipse cx="831.7" cy="1594" rx="3.7" ry="3.6" transform="rotate(-10 831.7 1594)"/><ellipse cx="1015.2" cy="1474.9" rx="4.4" ry="4.3" transform="rotate(15 1015.2 1474.9)"/><ellipse cx="1015.1" cy="1493" rx="3.3" ry="3.2" transform="rotate(11 1015.1 1493)"/><ellipse cx="891.5" cy="1573.8" rx="4.3" ry="3.3" transform="rotate(39 891.5 1573.8)"/><ellipse cx="1068" cy="1476.9" rx="4.7" ry="3.7" transform="rotate(36 1068 1476.9)"/><ellipse cx="1064.4" cy="1452.6" rx="4.3" ry="2.8" transform="rotate(31 1064.4 1452.6)"/><ellipse cx="1028.3" cy="1475.5" rx="5" ry="3.3" transform="rotate(-7 1028.3 1475.5)"/><ellipse cx="1034.6" cy="1464.6" rx="4.5" ry="4.4" transform="rotate(-7 1034.6 1464.6)"/><ellipse cx="676.6" cy="1619.6" rx="4.2" ry="3.4" transform="rotate(-37 676.6 1619.6)"/><ellipse cx="675.7" cy="1623" rx="3.1" ry="2.4" transform="rotate(-2 675.7 1623)"/><ellipse cx="853.1" cy="1588.4" rx="4.6" ry="4.6" transform="rotate(-32 853.1 1588.4)"/><ellipse cx="796.8" cy="1597.7" rx="3.5" ry="2.3" transform="rotate(24 796.8 1597.7)"/><ellipse cx="1099" cy="1457.3" rx="5" ry="3.3" transform="rotate(6 1099 1457.3)"/><ellipse cx="1046" cy="1474.2" rx="4.1" ry="3.8" transform="rotate(2 1046 1474.2)"/><ellipse cx="981.8" cy="1502.7" rx="3.5" ry="3.1" transform="rotate(26 981.8 1502.7)"/><ellipse cx="753.3" cy="1630.3" rx="4.9" ry="3.4" transform="rotate(0 753.3 1630.3)"/><ellipse cx="999.9" cy="1483.1" rx="3" ry="2.7" transform="rotate(-26 999.9 1483.1)"/><ellipse cx="995.3" cy="1511.3" rx="3.3" ry="3.2" transform="rotate(19 995.3 1511.3)"/><ellipse cx="835.3" cy="1603.5" rx="3.9" ry="3.5" transform="rotate(15 835.3 1603.5)"/><ellipse cx="1194.5" cy="1377.7" rx="4.2" ry="3.8" transform="rotate(-27 1194.5 1377.7)"/><ellipse cx="904.8" cy="1574.2" rx="3.4" ry="2.3" transform="rotate(7 904.8 1574.2)"/><ellipse cx="955.5" cy="1500.2" rx="4.8" ry="4.4" transform="rotate(14 955.5 1500.2)"/><ellipse cx="679.1" cy="1604.7" rx="3.2" ry="2.9" transform="rotate(3 679.1 1604.7)"/><ellipse cx="1133.6" cy="1427" rx="5.1" ry="4.2" transform="rotate(-16 1133.6 1427)"/><ellipse cx="726.8" cy="1637.6" rx="4.6" ry="3.8" transform="rotate(-3 726.8 1637.6)"/><ellipse cx="925.6" cy="1513.6" rx="5.4" ry="4.9" transform="rotate(31 925.6 1513.6)"/><ellipse cx="953.9" cy="1498.2" rx="4.2" ry="3.5" transform="rotate(-9 953.9 1498.2)"/><ellipse cx="866.1" cy="1601.9" rx="3.5" ry="2.6" transform="rotate(26 866.1 1601.9)"/><ellipse cx="1089.7" cy="1427.6" rx="4" ry="3.3" transform="rotate(-20 1089.7 1427.6)"/><ellipse cx="1191.3" cy="1411.2" rx="3.4" ry="2.2" transform="rotate(-4 1191.3 1411.2)"/><ellipse cx="1006" cy="1520.5" rx="5.5" ry="4.9" transform="rotate(-19 1006 1520.5)"/><ellipse cx="779.1" cy="1614.7" rx="4.9" ry="3.7" transform="rotate(-25 779.1 1614.7)"/><ellipse cx="1170.2" cy="1405.2" rx="3.3" ry="2.6" transform="rotate(-21 1170.2 1405.2)"/><ellipse cx="945.3" cy="1521.9" rx="5.2" ry="3.9" transform="rotate(-4 945.3 1521.9)"/><ellipse cx="892.7" cy="1558.6" rx="4.6" ry="3.5" transform="rotate(10 892.7 1558.6)"/><ellipse cx="1139.7" cy="1417.1" rx="4.8" ry="4.1" transform="rotate(15 1139.7 1417.1)"/><ellipse cx="818" cy="1590.3" rx="3.8" ry="2.5" transform="rotate(21 818 1590.3)"/><ellipse cx="974.4" cy="1522.1" rx="3.2" ry="2.2" transform="rotate(17 974.4 1522.1)"/><ellipse cx="738.9" cy="1634.3" rx="5.4" ry="5.2" transform="rotate(-7 738.9 1634.3)"/><ellipse cx="952.7" cy="1538.9" rx="4.2" ry="3.7" transform="rotate(39 952.7 1538.9)"/><ellipse cx="990.2" cy="1515.5" rx="4.2" ry="3.6" transform="rotate(-6 990.2 1515.5)"/><ellipse cx="1213.1" cy="1375.4" rx="4.4" ry="3" transform="rotate(5 1213.1 1375.4)"/><ellipse cx="862.5" cy="1591.3" rx="3.6" ry="3.3" transform="rotate(-17 862.5 1591.3)"/><ellipse cx="1113.3" cy="1398.2" rx="5.1" ry="4.2" transform="rotate(-20 1113.3 1398.2)"/><ellipse cx="1009.4" cy="1504.3" rx="3.4" ry="2.3" transform="rotate(-21 1009.4 1504.3)"/><ellipse cx="938.1" cy="1546.8" rx="4.8" ry="3.8" transform="rotate(7 938.1 1546.8)"/><ellipse cx="1035.3" cy="1483.2" rx="3.6" ry="3.2" transform="rotate(-28 1035.3 1483.2)"/><ellipse cx="1006.3" cy="1517.8" rx="4.7" ry="3.4" transform="rotate(18 1006.3 1517.8)"/><ellipse cx="926.6" cy="1549" rx="4.9" ry="4.4" transform="rotate(-22 926.6 1549)"/><ellipse cx="1176.6" cy="1387.8" rx="5.3" ry="5.3" transform="rotate(-12 1176.6 1387.8)"/><ellipse cx="863.3" cy="1572.3" rx="3.4" ry="2.5" transform="rotate(18 863.3 1572.3)"/><ellipse cx="720.2" cy="1617" rx="4.8" ry="3.5" transform="rotate(-1 720.2 1617)"/><ellipse cx="755.8" cy="1658.7" rx="3.9" ry="3" transform="rotate(34 755.8 1658.7)"/><ellipse cx="1003.1" cy="1468.9" rx="4" ry="3.9" transform="rotate(25 1003.1 1468.9)"/><ellipse cx="1179" cy="1373.2" rx="3.1" ry="2.2" transform="rotate(12 1179 1373.2)"/><ellipse cx="922.2" cy="1552.7" rx="3.5" ry="3.1" transform="rotate(-6 922.2 1552.7)"/><ellipse cx="1113.5" cy="1408" rx="5" ry="4.6" transform="rotate(-5 1113.5 1408)"/><ellipse cx="844.9" cy="1560.1" rx="4.7" ry="3.7" transform="rotate(5 844.9 1560.1)"/><ellipse cx="873.7" cy="1545" rx="4.9" ry="3.9" transform="rotate(-27 873.7 1545)"/><ellipse cx="820.9" cy="1579.8" rx="3.4" ry="2.9" transform="rotate(22 820.9 1579.8)"/><ellipse cx="742.9" cy="1649.3" rx="5.1" ry="4.1" transform="rotate(-5 742.9 1649.3)"/><ellipse cx="694.7" cy="1632.4" rx="3.7" ry="3.6" transform="rotate(26 694.7 1632.4)"/><ellipse cx="814.6" cy="1596.1" rx="5.1" ry="3.9" transform="rotate(-20 814.6 1596.1)"/><ellipse cx="714.5" cy="1623" rx="3.5" ry="2.6" transform="rotate(10 714.5 1623)"/><ellipse cx="1118.4" cy="1449.9" rx="4.1" ry="2.8" transform="rotate(5 1118.4 1449.9)"/><ellipse cx="797.8" cy="1624.4" rx="4.4" ry="3.3" transform="rotate(-20 797.8 1624.4)"/><ellipse cx="1180" cy="1380.5" rx="4.5" ry="3.2" transform="rotate(-2 1180 1380.5)"/><ellipse cx="892.1" cy="1563.2" rx="4.4" ry="2.9" transform="rotate(-30 892.1 1563.2)"/><ellipse cx="817.9" cy="1602.2" rx="4.5" ry="3.9" transform="rotate(30 817.9 1602.2)"/><ellipse cx="1111.6" cy="1404.6" rx="5.2" ry="5.1" transform="rotate(7 1111.6 1404.6)"/><ellipse cx="1007.3" cy="1485.6" rx="3.4" ry="2.8" transform="rotate(17 1007.3 1485.6)"/><ellipse cx="1169.2" cy="1397.5" rx="5.4" ry="4.2" transform="rotate(-38 1169.2 1397.5)"/><ellipse cx="1003" cy="1510" rx="3.6" ry="2.4" transform="rotate(17 1003 1510)"/><ellipse cx="1149.4" cy="1412.1" rx="3.3" ry="2.8" transform="rotate(21 1149.4 1412.1)"/><ellipse cx="1198.3" cy="1350.7" rx="3.4" ry="2.9" transform="rotate(14 1198.3 1350.7)"/><ellipse cx="1183.1" cy="1368.9" rx="3.1" ry="2.6" transform="rotate(-11 1183.1 1368.9)"/><ellipse cx="934.6" cy="1556.6" rx="3.7" ry="3.3" transform="rotate(5 934.6 1556.6)"/><ellipse cx="1177.7" cy="1375.5" rx="3.8" ry="2.7" transform="rotate(16 1177.7 1375.5)"/><ellipse cx="920.3" cy="1515.2" rx="4.5" ry="3.4" transform="rotate(4 920.3 1515.2)"/><ellipse cx="749" cy="1609.4" rx="5" ry="4.8" transform="rotate(-33 749 1609.4)"/><ellipse cx="949.1" cy="1545.1" rx="3.8" ry="3.7" transform="rotate(-32 949.1 1545.1)"/><ellipse cx="775.2" cy="1630.4" rx="5.4" ry="4.9" transform="rotate(33 775.2 1630.4)"/><ellipse cx="1198.1" cy="1405.9" rx="3.7" ry="3.4" transform="rotate(33 1198.1 1405.9)"/><ellipse cx="932.7" cy="1550.5" rx="4.4" ry="4.3" transform="rotate(-5 932.7 1550.5)"/><ellipse cx="827.2" cy="1579.1" rx="5.2" ry="3.8" transform="rotate(31 827.2 1579.1)"/><ellipse cx="1016.9" cy="1471.4" rx="3" ry="2.1" transform="rotate(26 1016.9 1471.4)"/><ellipse cx="1201.5" cy="1363.4" rx="5.3" ry="4.3" transform="rotate(-10 1201.5 1363.4)"/><ellipse cx="1134.2" cy="1428.1" rx="3.7" ry="2.6" transform="rotate(-25 1134.2 1428.1)"/><ellipse cx="838.8" cy="1591.7" rx="3.8" ry="2.7" transform="rotate(30 838.8 1591.7)"/><ellipse cx="749.9" cy="1606.6" rx="4.4" ry="2.9" transform="rotate(4 749.9 1606.6)"/><ellipse cx="709.8" cy="1624.7" rx="4.3" ry="3.2" transform="rotate(27 709.8 1624.7)"/><ellipse cx="1131.5" cy="1446.2" rx="5.4" ry="4.2" transform="rotate(3 1131.5 1446.2)"/><ellipse cx="1118.7" cy="1404" rx="3.6" ry="2.9" transform="rotate(3 1118.7 1404)"/><ellipse cx="906.5" cy="1515.8" rx="4" ry="3.8" transform="rotate(-32 906.5 1515.8)"/><ellipse cx="1030.7" cy="1498.4" rx="3.8" ry="3.3" transform="rotate(36 1030.7 1498.4)"/><ellipse cx="1014.4" cy="1475.2" rx="4.6" ry="4.2" transform="rotate(14 1014.4 1475.2)"/><ellipse cx="929.5" cy="1548.8" rx="3.9" ry="2.8" transform="rotate(-32 929.5 1548.8)"/><ellipse cx="828.5" cy="1578.9" rx="3.7" ry="2.9" transform="rotate(-6 828.5 1578.9)"/><ellipse cx="996.2" cy="1499.4" rx="4" ry="3.4" transform="rotate(25 996.2 1499.4)"/><ellipse cx="989.6" cy="1490.4" rx="3.5" ry="2.5" transform="rotate(-32 989.6 1490.4)"/><ellipse cx="767.5" cy="1622.8" rx="4.4" ry="3.1" transform="rotate(20 767.5 1622.8)"/><ellipse cx="1042" cy="1465.2" rx="5" ry="4.4" transform="rotate(-30 1042 1465.2)"/><ellipse cx="873" cy="1583.4" rx="3.9" ry="2.9" transform="rotate(-37 873 1583.4)"/><ellipse cx="804.5" cy="1590.8" rx="5.3" ry="3.6" transform="rotate(-7 804.5 1590.8)"/><ellipse cx="1068.7" cy="1472.8" rx="5.4" ry="4.1" transform="rotate(-33 1068.7 1472.8)"/><ellipse cx="750.7" cy="1622.9" rx="4.6" ry="4.4" transform="rotate(-32 750.7 1622.9)"/><ellipse cx="1167.1" cy="1403.2" rx="4" ry="2.7" transform="rotate(-35 1167.1 1403.2)"/><ellipse cx="1038.5" cy="1443.1" rx="4.3" ry="4" transform="rotate(-39 1038.5 1443.1)"/><ellipse cx="943" cy="1534.1" rx="4.8" ry="4.3" transform="rotate(-5 943 1534.1)"/><ellipse cx="1043.3" cy="1466.4" rx="5.3" ry="4.4" transform="rotate(6 1043.3 1466.4)"/><ellipse cx="975.5" cy="1507.7" rx="4.7" ry="4" transform="rotate(39 975.5 1507.7)"/><ellipse cx="981.1" cy="1535.8" rx="5" ry="4.3" transform="rotate(-15 981.1 1535.8)"/><ellipse cx="944.2" cy="1521.5" rx="4.1" ry="3" transform="rotate(-1 944.2 1521.5)"/><ellipse cx="796.4" cy="1621.9" rx="4.8" ry="3.4" transform="rotate(-20 796.4 1621.9)"/><ellipse cx="710" cy="1628.5" rx="4" ry="3.4" transform="rotate(8 710 1628.5)"/><ellipse cx="679.6" cy="1600" rx="5.3" ry="4.8" transform="rotate(-4 679.6 1600)"/><ellipse cx="810.5" cy="1613" rx="4.9" ry="3.9" transform="rotate(-33 810.5 1613)"/><ellipse cx="1081.3" cy="1464.7" rx="4" ry="3.8" transform="rotate(-8 1081.3 1464.7)"/><ellipse cx="690.5" cy="1631.3" rx="4.8" ry="3.2" transform="rotate(-17 690.5 1631.3)"/><ellipse cx="975" cy="1477.6" rx="5.3" ry="4.4" transform="rotate(-18 975 1477.6)"/><ellipse cx="717.2" cy="1649.4" rx="4.8" ry="4.6" transform="rotate(29 717.2 1649.4)"/><ellipse cx="775.3" cy="1611.5" rx="4.5" ry="3.5" transform="rotate(-22 775.3 1611.5)"/><ellipse cx="738.6" cy="1644.5" rx="3.7" ry="3.1" transform="rotate(29 738.6 1644.5)"/><ellipse cx="1044.5" cy="1451" rx="5.3" ry="4.9" transform="rotate(35 1044.5 1451)"/><ellipse cx="987.3" cy="1489.7" rx="3.9" ry="3.8" transform="rotate(37 987.3 1489.7)"/><ellipse cx="1176" cy="1391.8" rx="4.7" ry="4.5" transform="rotate(-5 1176 1391.8)"/><ellipse cx="1123.7" cy="1408.6" rx="3.9" ry="3.5" transform="rotate(-26 1123.7 1408.6)"/><ellipse cx="839.6" cy="1561.1" rx="5.3" ry="5.3" transform="rotate(25 839.6 1561.1)"/><ellipse cx="1099.6" cy="1448.7" rx="4.1" ry="3.4" transform="rotate(-29 1099.6 1448.7)"/><ellipse cx="910.3" cy="1536.6" rx="4.6" ry="3.4" transform="rotate(-20 910.3 1536.6)"/><ellipse cx="1116.5" cy="1454.8" rx="4.9" ry="3.6" transform="rotate(0 1116.5 1454.8)"/><ellipse cx="1128" cy="1402.5" rx="4.2" ry="3.6" transform="rotate(-39 1128 1402.5)"/><ellipse cx="1097.5" cy="1448.6" rx="4.1" ry="3.5" transform="rotate(2 1097.5 1448.6)"/><ellipse cx="788.5" cy="1631.9" rx="4.9" ry="4" transform="rotate(21 788.5 1631.9)"/><ellipse cx="1074" cy="1471.4" rx="5.4" ry="3.6" transform="rotate(35 1074 1471.4)"/><ellipse cx="1114.5" cy="1443.3" rx="3.2" ry="2.8" transform="rotate(-32 1114.5 1443.3)"/><ellipse cx="907.9" cy="1539.2" rx="3.7" ry="3.4" transform="rotate(11 907.9 1539.2)"/><ellipse cx="1097.3" cy="1417.4" rx="5" ry="4.3" transform="rotate(21 1097.3 1417.4)"/><ellipse cx="1212.4" cy="1384.1" rx="4.2" ry="3.6" transform="rotate(5 1212.4 1384.1)"/><ellipse cx="892.6" cy="1575.5" rx="5" ry="5" transform="rotate(14 892.6 1575.5)"/><ellipse cx="934.3" cy="1545.3" rx="4.6" ry="4.5" transform="rotate(19 934.3 1545.3)"/><ellipse cx="879.5" cy="1534" rx="5" ry="4" transform="rotate(-8 879.5 1534)"/><ellipse cx="711.7" cy="1644" rx="3.7" ry="3.4" transform="rotate(20 711.7 1644)"/><ellipse cx="1029" cy="1461" rx="4.7" ry="4" transform="rotate(37 1029 1461)"/><ellipse cx="915.3" cy="1569.3" rx="4.6" ry="3.5" transform="rotate(11 915.3 1569.3)"/><ellipse cx="837.2" cy="1613" rx="4.2" ry="3.9" transform="rotate(-22 837.2 1613)"/><ellipse cx="860.1" cy="1594.5" rx="4.5" ry="3.5" transform="rotate(-9 860.1 1594.5)"/><ellipse cx="847.5" cy="1594.5" rx="3.8" ry="2.6" transform="rotate(-9 847.5 1594.5)"/><ellipse cx="1213.6" cy="1363.3" rx="4" ry="4" transform="rotate(17 1213.6 1363.3)"/><ellipse cx="935.8" cy="1513.2" rx="3.4" ry="2.8" transform="rotate(11 935.8 1513.2)"/><ellipse cx="710.3" cy="1596.1" rx="4.5" ry="3.5" transform="rotate(13 710.3 1596.1)"/><ellipse cx="938.8" cy="1521.7" rx="3.2" ry="2.3" transform="rotate(9 938.8 1521.7)"/><ellipse cx="813.7" cy="1632.6" rx="5.3" ry="4.1" transform="rotate(3 813.7 1632.6)"/><ellipse cx="903.4" cy="1541.1" rx="4.8" ry="3.9" transform="rotate(-5 903.4 1541.1)"/><ellipse cx="803.1" cy="1605.8" rx="3.7" ry="2.6" transform="rotate(1 803.1 1605.8)"/><ellipse cx="996" cy="1496.3" rx="4.7" ry="3.7" transform="rotate(38 996 1496.3)"/><ellipse cx="752.3" cy="1641.5" rx="4.7" ry="3.7" transform="rotate(-8 752.3 1641.5)"/><ellipse cx="862.8" cy="1592.2" rx="5.2" ry="3.9" transform="rotate(5 862.8 1592.2)"/><ellipse cx="810.3" cy="1618.7" rx="4.3" ry="4.3" transform="rotate(32 810.3 1618.7)"/><ellipse cx="871.7" cy="1542.8" rx="5" ry="3.5" transform="rotate(14 871.7 1542.8)"/><ellipse cx="1080.4" cy="1418.6" rx="3.2" ry="3.1" transform="rotate(1 1080.4 1418.6)"/><ellipse cx="1206" cy="1393.6" rx="3.6" ry="3.2" transform="rotate(-9 1206 1393.6)"/><ellipse cx="895.7" cy="1536.5" rx="3.8" ry="2.8" transform="rotate(-24 895.7 1536.5)"/><ellipse cx="926.8" cy="1540.2" rx="5" ry="4.5" transform="rotate(-27 926.8 1540.2)"/><ellipse cx="1187.1" cy="1408.1" rx="3.8" ry="3.6" transform="rotate(11 1187.1 1408.1)"/><ellipse cx="703.1" cy="1626" rx="4.4" ry="4.3" transform="rotate(23 703.1 1626)"/><ellipse cx="1209.9" cy="1362.7" rx="5.3" ry="3.4" transform="rotate(23 1209.9 1362.7)"/><ellipse cx="712" cy="1614.5" rx="3.2" ry="2.8" transform="rotate(23 712 1614.5)"/><ellipse cx="863.8" cy="1590.2" rx="4.3" ry="2.8" transform="rotate(-15 863.8 1590.2)"/><ellipse cx="878.3" cy="1550.6" rx="4.1" ry="4" transform="rotate(24 878.3 1550.6)"/><ellipse cx="1062" cy="1427.6" rx="3.2" ry="2.5" transform="rotate(10 1062 1427.6)"/><ellipse cx="768.6" cy="1650.6" rx="3.5" ry="2.3" transform="rotate(-33 768.6 1650.6)"/><ellipse cx="696.5" cy="1614.4" rx="4.6" ry="3.5" transform="rotate(1 696.5 1614.4)"/><ellipse cx="1021.4" cy="1456.3" rx="4.6" ry="3" transform="rotate(33 1021.4 1456.3)"/><ellipse cx="1009.4" cy="1468.4" rx="4.1" ry="3.1" transform="rotate(11 1009.4 1468.4)"/><ellipse cx="1146" cy="1440.6" rx="4.1" ry="3.5" transform="rotate(-11 1146 1440.6)"/><ellipse cx="987.6" cy="1531.9" rx="3.1" ry="2.9" transform="rotate(-14 987.6 1531.9)"/><ellipse cx="873.4" cy="1581.3" rx="4.2" ry="3.2" transform="rotate(-4 873.4 1581.3)"/><ellipse cx="682.8" cy="1627.9" rx="3.2" ry="2.5" transform="rotate(13 682.8 1627.9)"/><ellipse cx="743.4" cy="1617.3" rx="5.4" ry="4.3" transform="rotate(6 743.4 1617.3)"/><ellipse cx="790.3" cy="1615.5" rx="4.9" ry="4.5" transform="rotate(18 790.3 1615.5)"/><ellipse cx="808.7" cy="1598.6" rx="4.3" ry="2.8" transform="rotate(21 808.7 1598.6)"/><ellipse cx="716.7" cy="1605.9" rx="3.4" ry="3.4" transform="rotate(9 716.7 1605.9)"/><ellipse cx="1033.9" cy="1478.6" rx="5.2" ry="3.5" transform="rotate(-9 1033.9 1478.6)"/><ellipse cx="1029.2" cy="1470.3" rx="5.3" ry="3.9" transform="rotate(-18 1029.2 1470.3)"/><ellipse cx="1087.8" cy="1438.7" rx="3.9" ry="3.6" transform="rotate(-28 1087.8 1438.7)"/><ellipse cx="855.1" cy="1597.6" rx="3.2" ry="3.1" transform="rotate(28 855.1 1597.6)"/><ellipse cx="687.3" cy="1631" rx="5" ry="3.8" transform="rotate(24 687.3 1631)"/><ellipse cx="864.7" cy="1584.4" rx="4" ry="2.8" transform="rotate(28 864.7 1584.4)"/><ellipse cx="863.1" cy="1568.3" rx="4.7" ry="3.7" transform="rotate(-19 863.1 1568.3)"/><ellipse cx="1195.9" cy="1354.6" rx="3.6" ry="3" transform="rotate(38 1195.9 1354.6)"/><ellipse cx="752.3" cy="1646.2" rx="3.3" ry="2.4" transform="rotate(-29 752.3 1646.2)"/><ellipse cx="1216.1" cy="1399.5" rx="3.9" ry="3.8" transform="rotate(15 1216.1 1399.5)"/><ellipse cx="741.2" cy="1620.4" rx="5.4" ry="3.8" transform="rotate(31 741.2 1620.4)"/><ellipse cx="991" cy="1478.6" rx="4.2" ry="3.9" transform="rotate(4 991 1478.6)"/><ellipse cx="1000" cy="1520.3" rx="3.3" ry="3" transform="rotate(7 1000 1520.3)"/><ellipse cx="906.6" cy="1545.6" rx="5" ry="3.7" transform="rotate(-10 906.6 1545.6)"/><ellipse cx="1053.7" cy="1462.4" rx="3" ry="2.8" transform="rotate(-6 1053.7 1462.4)"/><ellipse cx="930.1" cy="1510.8" rx="5.1" ry="4.7" transform="rotate(37 930.1 1510.8)"/><ellipse cx="824.3" cy="1590.5" rx="5.5" ry="3.6" transform="rotate(-12 824.3 1590.5)"/><ellipse cx="828.8" cy="1578.3" rx="4.5" ry="3.1" transform="rotate(29 828.8 1578.3)"/><ellipse cx="829.9" cy="1566.3" rx="4.3" ry="3.3" transform="rotate(0 829.9 1566.3)"/><ellipse cx="701.5" cy="1612.6" rx="3.2" ry="2.7" transform="rotate(27 701.5 1612.6)"/><ellipse cx="809.2" cy="1612.7" rx="3.2" ry="2.2" transform="rotate(-39 809.2 1612.7)"/><ellipse cx="832" cy="1576.6" rx="3.3" ry="3.2" transform="rotate(-28 832 1576.6)"/><ellipse cx="1128" cy="1416.9" rx="4.5" ry="3.4" transform="rotate(25 1128 1416.9)"/><ellipse cx="785.1" cy="1631.4" rx="3.4" ry="2.7" transform="rotate(-25 785.1 1631.4)"/><ellipse cx="1056.8" cy="1476.4" rx="3.8" ry="2.6" transform="rotate(-3 1056.8 1476.4)"/><ellipse cx="1008.3" cy="1497" rx="4.9" ry="4.3" transform="rotate(35 1008.3 1497)"/><ellipse cx="1096.1" cy="1458.5" rx="3.4" ry="2.5" transform="rotate(16 1096.1 1458.5)"/><ellipse cx="1154.2" cy="1422.8" rx="3.8" ry="2.7" transform="rotate(12 1154.2 1422.8)"/><ellipse cx="711.7" cy="1603.5" rx="4" ry="3.5" transform="rotate(10 711.7 1603.5)"/><ellipse cx="776.9" cy="1648.5" rx="4.8" ry="4.6" transform="rotate(9 776.9 1648.5)"/><ellipse cx="1166.6" cy="1413.9" rx="4.6" ry="3" transform="rotate(-38 1166.6 1413.9)"/><ellipse cx="1147.1" cy="1401.7" rx="3.5" ry="2.8" transform="rotate(27 1147.1 1401.7)"/><ellipse cx="809.8" cy="1584.4" rx="3.5" ry="3.2" transform="rotate(-19 809.8 1584.4)"/><ellipse cx="942.2" cy="1507.5" rx="4" ry="2.8" transform="rotate(30 942.2 1507.5)"/><ellipse cx="706" cy="1606.9" rx="3.1" ry="2.3" transform="rotate(39 706 1606.9)"/><ellipse cx="946.5" cy="1549.2" rx="5.3" ry="5" transform="rotate(18 946.5 1549.2)"/><ellipse cx="989.2" cy="1514.3" rx="4.5" ry="4.5" transform="rotate(-25 989.2 1514.3)"/><ellipse cx="1103.9" cy="1430.3" rx="5.1" ry="3.8" transform="rotate(-8 1103.9 1430.3)"/><ellipse cx="1205" cy="1358.9" rx="5.1" ry="4.5" transform="rotate(33 1205 1358.9)"/><ellipse cx="1060.8" cy="1484.2" rx="5.2" ry="4.7" transform="rotate(27 1060.8 1484.2)"/><ellipse cx="1008.5" cy="1469.1" rx="4.3" ry="4.3" transform="rotate(35 1008.5 1469.1)"/><ellipse cx="697.7" cy="1593.1" rx="5.1" ry="3.6" transform="rotate(21 697.7 1593.1)"/><ellipse cx="908.4" cy="1577.6" rx="3.3" ry="2.8" transform="rotate(-18 908.4 1577.6)"/><ellipse cx="780" cy="1632.6" rx="3.6" ry="3.6" transform="rotate(-13 780 1632.6)"/><ellipse cx="761.9" cy="1660.1" rx="4.6" ry="4.4" transform="rotate(19 761.9 1660.1)"/><ellipse cx="729.8" cy="1620.8" rx="3.5" ry="3.4" transform="rotate(13 729.8 1620.8)"/><ellipse cx="782.3" cy="1629.5" rx="3.1" ry="2.3" transform="rotate(-36 782.3 1629.5)"/><ellipse cx="1100.4" cy="1421" rx="5.5" ry="4.1" transform="rotate(23 1100.4 1421)"/><ellipse cx="1051.4" cy="1471.2" rx="3.3" ry="3.1" transform="rotate(33 1051.4 1471.2)"/><ellipse cx="836.5" cy="1561.5" rx="3.6" ry="3.6" transform="rotate(-14 836.5 1561.5)"/><ellipse cx="995.7" cy="1466.3" rx="5" ry="4.6" transform="rotate(-15 995.7 1466.3)"/><ellipse cx="741.1" cy="1655.2" rx="4.9" ry="3.6" transform="rotate(36 741.1 1655.2)"/><ellipse cx="763.4" cy="1662" rx="4.7" ry="3.4" transform="rotate(31 763.4 1662)"/><ellipse cx="1048.1" cy="1435.6" rx="3.5" ry="3.3" transform="rotate(-38 1048.1 1435.6)"/><ellipse cx="781.2" cy="1625.8" rx="3.3" ry="3.1" transform="rotate(-3 781.2 1625.8)"/><ellipse cx="1178.4" cy="1421.7" rx="3.5" ry="2.7" transform="rotate(23 1178.4 1421.7)"/><ellipse cx="1190" cy="1373.7" rx="4.6" ry="3.4" transform="rotate(17 1190 1373.7)"/><ellipse cx="947.1" cy="1539.1" rx="5.1" ry="3.5" transform="rotate(-26 947.1 1539.1)"/><ellipse cx="1109.6" cy="1442.1" rx="4.8" ry="4.5" transform="rotate(-21 1109.6 1442.1)"/><ellipse cx="750.7" cy="1628.4" rx="4.5" ry="3.3" transform="rotate(23 750.7 1628.4)"/><ellipse cx="956.5" cy="1531.1" rx="3.6" ry="3.1" transform="rotate(-7 956.5 1531.1)"/><ellipse cx="683.3" cy="1611.6" rx="5.1" ry="4.5" transform="rotate(29 683.3 1611.6)"/><ellipse cx="1114.9" cy="1449.7" rx="4.5" ry="3.8" transform="rotate(-27 1114.9 1449.7)"/><ellipse cx="788.8" cy="1590.7" rx="4" ry="3" transform="rotate(5 788.8 1590.7)"/><ellipse cx="875" cy="1591.9" rx="5.1" ry="3.6" transform="rotate(7 875 1591.9)"/><ellipse cx="778.9" cy="1603.5" rx="3.5" ry="2.3" transform="rotate(-37 778.9 1603.5)"/><ellipse cx="1155.7" cy="1427.8" rx="3.2" ry="2.1" transform="rotate(28 1155.7 1427.8)"/><ellipse cx="910.9" cy="1558.5" rx="4.3" ry="3.3" transform="rotate(-27 910.9 1558.5)"/><ellipse cx="727.5" cy="1653.6" rx="3.1" ry="2.3" transform="rotate(1 727.5 1653.6)"/><ellipse cx="978.7" cy="1506.5" rx="3.7" ry="2.5" transform="rotate(-6 978.7 1506.5)"/><ellipse cx="813.5" cy="1604.2" rx="5" ry="4.3" transform="rotate(-12 813.5 1604.2)"/><ellipse cx="1116.3" cy="1459.2" rx="3.7" ry="3.1" transform="rotate(-3 1116.3 1459.2)"/><ellipse cx="1040.2" cy="1474.1" rx="4.3" ry="4.1" transform="rotate(-11 1040.2 1474.1)"/><ellipse cx="688.5" cy="1588" rx="3.2" ry="3.2" transform="rotate(4 688.5 1588)"/><ellipse cx="962.2" cy="1517.2" rx="3.6" ry="3.4" transform="rotate(-6 962.2 1517.2)"/><ellipse cx="1097.9" cy="1461.5" rx="5.5" ry="4.5" transform="rotate(-6 1097.9 1461.5)"/><ellipse cx="948.4" cy="1504.5" rx="4.2" ry="3.2" transform="rotate(-19 948.4 1504.5)"/><ellipse cx="912.8" cy="1552.5" rx="3.8" ry="2.6" transform="rotate(22 912.8 1552.5)"/><ellipse cx="1080.3" cy="1454.8" rx="3.4" ry="2.8" transform="rotate(26 1080.3 1454.8)"/><ellipse cx="1026.6" cy="1487.2" rx="3.4" ry="2.3" transform="rotate(27 1026.6 1487.2)"/><ellipse cx="694.1" cy="1601.4" rx="4.8" ry="4.2" transform="rotate(29 694.1 1601.4)"/><ellipse cx="876.2" cy="1549.2" rx="3.3" ry="2.5" transform="rotate(-31 876.2 1549.2)"/><ellipse cx="1019" cy="1482.5" rx="3.1" ry="3" transform="rotate(-20 1019 1482.5)"/><ellipse cx="844.8" cy="1568.8" rx="3.3" ry="2.8" transform="rotate(-17 844.8 1568.8)"/><ellipse cx="1085" cy="1427.1" rx="3.3" ry="2.8" transform="rotate(-8 1085 1427.1)"/><ellipse cx="921.8" cy="1517.4" rx="3.3" ry="3" transform="rotate(10 921.8 1517.4)"/><ellipse cx="1049" cy="1466.6" rx="3.5" ry="3.4" transform="rotate(2 1049 1466.6)"/><ellipse cx="871.4" cy="1560.3" rx="5.5" ry="4.3" transform="rotate(24 871.4 1560.3)"/><ellipse cx="719.2" cy="1607.6" rx="3.6" ry="2.7" transform="rotate(-8 719.2 1607.6)"/><ellipse cx="940.2" cy="1552" rx="3.4" ry="3.2" transform="rotate(-5 940.2 1552)"/><ellipse cx="934.2" cy="1516.2" rx="5.2" ry="4.6" transform="rotate(17 934.2 1516.2)"/><ellipse cx="1082.9" cy="1475.9" rx="4.9" ry="4.8" transform="rotate(-12 1082.9 1475.9)"/><ellipse cx="1164.2" cy="1420.9" rx="5.2" ry="4.2" transform="rotate(-6 1164.2 1420.9)"/><ellipse cx="843.8" cy="1562.6" rx="3.4" ry="2.6" transform="rotate(-6 843.8 1562.6)"/><ellipse cx="965.1" cy="1484" rx="3.9" ry="3.2" transform="rotate(-35 965.1 1484)"/><ellipse cx="1174.5" cy="1403.2" rx="5.4" ry="5.1" transform="rotate(0 1174.5 1403.2)"/><ellipse cx="680" cy="1604.8" rx="5.1" ry="3.9" transform="rotate(-29 680 1604.8)"/><ellipse cx="1002.2" cy="1490.7" rx="3.3" ry="2.8" transform="rotate(5 1002.2 1490.7)"/><ellipse cx="1173.1" cy="1366.5" rx="5.1" ry="3.9" transform="rotate(-6 1173.1 1366.5)"/><ellipse cx="1128.6" cy="1416" rx="3.2" ry="2.6" transform="rotate(-28 1128.6 1416)"/><ellipse cx="679.4" cy="1591.7" rx="4.1" ry="2.7" transform="rotate(-29 679.4 1591.7)"/><ellipse cx="1004.4" cy="1522.7" rx="4.4" ry="4.3" transform="rotate(15 1004.4 1522.7)"/><ellipse cx="772" cy="1602.8" rx="5" ry="4.4" transform="rotate(-16 772 1602.8)"/><ellipse cx="1049.7" cy="1493.3" rx="3.6" ry="3.6" transform="rotate(2 1049.7 1493.3)"/><ellipse cx="834.3" cy="1603.5" rx="5.3" ry="3.8" transform="rotate(-20 834.3 1603.5)"/><ellipse cx="846.5" cy="1564.8" rx="4" ry="3" transform="rotate(13 846.5 1564.8)"/><ellipse cx="873.8" cy="1561.6" rx="3.4" ry="2.3" transform="rotate(-32 873.8 1561.6)"/><ellipse cx="724.7" cy="1596.3" rx="4.2" ry="4" transform="rotate(9 724.7 1596.3)"/><ellipse cx="937.7" cy="1525.3" rx="3.8" ry="2.5" transform="rotate(-27 937.7 1525.3)"/><ellipse cx="846.3" cy="1571.8" rx="3.3" ry="2.8" transform="rotate(-24 846.3 1571.8)"/><ellipse cx="1074.7" cy="1450.7" rx="4.9" ry="4.5" transform="rotate(-4 1074.7 1450.7)"/><ellipse cx="768.4" cy="1640.3" rx="3.9" ry="2.9" transform="rotate(-33 768.4 1640.3)"/><ellipse cx="1168.2" cy="1395.1" rx="5.1" ry="4.8" transform="rotate(-20 1168.2 1395.1)"/><ellipse cx="1165.8" cy="1381.2" rx="4.5" ry="4.4" transform="rotate(-2 1165.8 1381.2)"/><ellipse cx="1199.2" cy="1402.7" rx="5.3" ry="4.8" transform="rotate(-22 1199.2 1402.7)"/><ellipse cx="677.2" cy="1625.7" rx="4.4" ry="4.2" transform="rotate(36 677.2 1625.7)"/><ellipse cx="1205.1" cy="1360.9" rx="3.4" ry="2.6" transform="rotate(39 1205.1 1360.9)"/><ellipse cx="914.3" cy="1542.4" rx="5.1" ry="4.7" transform="rotate(31 914.3 1542.4)"/><ellipse cx="857.8" cy="1577" rx="5.3" ry="4.6" transform="rotate(29 857.8 1577)"/><ellipse cx="987.2" cy="1528.5" rx="4.4" ry="4.1" transform="rotate(24 987.2 1528.5)"/><ellipse cx="1072.9" cy="1464.4" rx="4.1" ry="3.4" transform="rotate(24 1072.9 1464.4)"/><ellipse cx="1212.9" cy="1362.5" rx="4.7" ry="4" transform="rotate(28 1212.9 1362.5)"/><ellipse cx="968.2" cy="1496.5" rx="5" ry="4.5" transform="rotate(-39 968.2 1496.5)"/><ellipse cx="686" cy="1609.2" rx="4.9" ry="3.8" transform="rotate(-33 686 1609.2)"/><ellipse cx="1037.6" cy="1467.8" rx="3.7" ry="2.8" transform="rotate(-21 1037.6 1467.8)"/><ellipse cx="928.1" cy="1549.5" rx="4.4" ry="3.2" transform="rotate(-17 928.1 1549.5)"/><ellipse cx="1154.7" cy="1431.8" rx="3.4" ry="2.5" transform="rotate(-32 1154.7 1431.8)"/><ellipse cx="930.4" cy="1548.4" rx="5.3" ry="4.5" transform="rotate(-28 930.4 1548.4)"/><ellipse cx="816" cy="1585.9" rx="4.4" ry="3.7" transform="rotate(-26 816 1585.9)"/><ellipse cx="1170.3" cy="1404.2" rx="4.5" ry="3.4" transform="rotate(-16 1170.3 1404.2)"/><ellipse cx="755.5" cy="1645.2" rx="5.4" ry="4.7" transform="rotate(-36 755.5 1645.2)"/><ellipse cx="732.8" cy="1609.8" rx="4.1" ry="3.6" transform="rotate(14 732.8 1609.8)"/><ellipse cx="1069.6" cy="1480.8" rx="4.2" ry="3.3" transform="rotate(14 1069.6 1480.8)"/><ellipse cx="1071.8" cy="1480.4" rx="5" ry="4.9" transform="rotate(-19 1071.8 1480.4)"/><ellipse cx="847" cy="1557.5" rx="3.9" ry="3.8" transform="rotate(-16 847 1557.5)"/><ellipse cx="1184.7" cy="1418.7" rx="4.9" ry="3.8" transform="rotate(25 1184.7 1418.7)"/><ellipse cx="676.4" cy="1569.3" rx="3.8" ry="2.8" transform="rotate(28 676.4 1569.3)"/><ellipse cx="1149.1" cy="1407.2" rx="3.9" ry="3" transform="rotate(-36 1149.1 1407.2)"/><ellipse cx="1196.2" cy="1411.4" rx="5.3" ry="3.6" transform="rotate(-4 1196.2 1411.4)"/><ellipse cx="820.9" cy="1569.2" rx="3.5" ry="2.4" transform="rotate(19 820.9 1569.2)"/><ellipse cx="1213.7" cy="1341.4" rx="4.8" ry="4.4" transform="rotate(-25 1213.7 1341.4)"/><ellipse cx="746.9" cy="1657.3" rx="3.2" ry="2.3" transform="rotate(12 746.9 1657.3)"/><ellipse cx="953.7" cy="1498" rx="3.2" ry="2.6" transform="rotate(3 953.7 1498)"/><ellipse cx="750.2" cy="1628.8" rx="3.2" ry="2.7" transform="rotate(-26 750.2 1628.8)"/><ellipse cx="1204.7" cy="1385.6" rx="4.7" ry="4" transform="rotate(-23 1204.7 1385.6)"/><ellipse cx="1205.2" cy="1348.9" rx="5.1" ry="3.9" transform="rotate(-23 1205.2 1348.9)"/><ellipse cx="1149" cy="1386.4" rx="3.5" ry="2.9" transform="rotate(-23 1149 1386.4)"/><ellipse cx="1214.5" cy="1339.4" rx="4.1" ry="2.9" transform="rotate(-26 1214.5 1339.4)"/><ellipse cx="1194.4" cy="1379.8" rx="4.4" ry="3.9" transform="rotate(28 1194.4 1379.8)"/><ellipse cx="905.2" cy="1527.8" rx="5.3" ry="4.6" transform="rotate(30 905.2 1527.8)"/><ellipse cx="1119.9" cy="1400" rx="3.3" ry="2.3" transform="rotate(-11 1119.9 1400)"/><ellipse cx="1058" cy="1489" rx="4.1" ry="3.5" transform="rotate(-7 1058 1489)"/><ellipse cx="873.1" cy="1535.1" rx="3.6" ry="3.3" transform="rotate(23 873.1 1535.1)"/><ellipse cx="956" cy="1513.7" rx="3.5" ry="2.6" transform="rotate(39 956 1513.7)"/><ellipse cx="938.6" cy="1531.8" rx="4.2" ry="3.2" transform="rotate(-6 938.6 1531.8)"/><ellipse cx="1171.3" cy="1420.5" rx="3.7" ry="3" transform="rotate(-22 1171.3 1420.5)"/><ellipse cx="812.5" cy="1601.1" rx="3" ry="2.5" transform="rotate(-3 812.5 1601.1)"/><ellipse cx="686.7" cy="1603.7" rx="4.2" ry="3.2" transform="rotate(-35 686.7 1603.7)"/><ellipse cx="912.1" cy="1519" rx="4.5" ry="3.3" transform="rotate(2 912.1 1519)"/><ellipse cx="755.1" cy="1635.3" rx="4.6" ry="4.4" transform="rotate(15 755.1 1635.3)"/><ellipse cx="1060.4" cy="1441.3" rx="5" ry="4.6" transform="rotate(-1 1060.4 1441.3)"/><ellipse cx="771.4" cy="1652.6" rx="3.9" ry="3.3" transform="rotate(23 771.4 1652.6)"/><ellipse cx="981.9" cy="1473" rx="3.1" ry="3" transform="rotate(-22 981.9 1473)"/><ellipse cx="805.1" cy="1634.6" rx="4.3" ry="4.1" transform="rotate(-18 805.1 1634.6)"/><ellipse cx="864.7" cy="1578" rx="4.8" ry="4.1" transform="rotate(6 864.7 1578)"/><ellipse cx="1196.8" cy="1349.2" rx="3.4" ry="3" transform="rotate(37 1196.8 1349.2)"/><ellipse cx="864.4" cy="1601.2" rx="4.1" ry="3.5" transform="rotate(11 864.4 1601.2)"/><ellipse cx="1162.5" cy="1426.2" rx="3.8" ry="3.6" transform="rotate(-14 1162.5 1426.2)"/><ellipse cx="822.8" cy="1605.3" rx="3.8" ry="3.7" transform="rotate(13 822.8 1605.3)"/><ellipse cx="1201.3" cy="1352.8" rx="4.9" ry="4.3" transform="rotate(-38 1201.3 1352.8)"/><ellipse cx="803.2" cy="1640.1" rx="3.2" ry="2.8" transform="rotate(3 803.2 1640.1)"/><ellipse cx="743.6" cy="1641.3" rx="4.5" ry="3.4" transform="rotate(-27 743.6 1641.3)"/><ellipse cx="764.7" cy="1610.5" rx="4.2" ry="3.3" transform="rotate(20 764.7 1610.5)"/><ellipse cx="845.5" cy="1584.7" rx="4.7" ry="3.6" transform="rotate(-23 845.5 1584.7)"/><ellipse cx="702.1" cy="1604.7" rx="5" ry="3.7" transform="rotate(-12 702.1 1604.7)"/><ellipse cx="845.9" cy="1553" rx="5.4" ry="5.3" transform="rotate(-14 845.9 1553)"/><ellipse cx="965" cy="1495.4" rx="5" ry="4.8" transform="rotate(16 965 1495.4)"/><ellipse cx="1143.8" cy="1439.4" rx="3.5" ry="3.1" transform="rotate(-26 1143.8 1439.4)"/><ellipse cx="1123" cy="1417.2" rx="4.9" ry="3.7" transform="rotate(-34 1123 1417.2)"/><ellipse cx="783.8" cy="1616" rx="5.1" ry="4.4" transform="rotate(-18 783.8 1616)"/><ellipse cx="1011.1" cy="1488.2" rx="5.3" ry="3.7" transform="rotate(-2 1011.1 1488.2)"/><ellipse cx="925.8" cy="1516.5" rx="4" ry="3.3" transform="rotate(-24 925.8 1516.5)"/><ellipse cx="996.4" cy="1524.7" rx="4.2" ry="3.2" transform="rotate(-37 996.4 1524.7)"/><ellipse cx="910.4" cy="1520.8" rx="4.2" ry="3.6" transform="rotate(-11 910.4 1520.8)"/><ellipse cx="1045.9" cy="1439.1" rx="3.1" ry="2.6" transform="rotate(8 1045.9 1439.1)"/><ellipse cx="856.3" cy="1566.9" rx="4.8" ry="3.8" transform="rotate(2 856.3 1566.9)"/><ellipse cx="1044.5" cy="1467" rx="3" ry="2.7" transform="rotate(24 1044.5 1467)"/><ellipse cx="1192" cy="1396.3" rx="4.2" ry="3.1" transform="rotate(16 1192 1396.3)"/><ellipse cx="900.4" cy="1526.6" rx="4.5" ry="4.1" transform="rotate(21 900.4 1526.6)"/><ellipse cx="844.9" cy="1592.5" rx="3.3" ry="3.2" transform="rotate(34 844.9 1592.5)"/><ellipse cx="871.5" cy="1572.3" rx="4.9" ry="3.8" transform="rotate(11 871.5 1572.3)"/><ellipse cx="1176.2" cy="1410.3" rx="4.7" ry="3.9" transform="rotate(31 1176.2 1410.3)"/><ellipse cx="1072.8" cy="1439.7" rx="3.3" ry="2.8" transform="rotate(-22 1072.8 1439.7)"/><ellipse cx="852.6" cy="1604.9" rx="3.8" ry="2.7" transform="rotate(6 852.6 1604.9)"/><ellipse cx="1216.2" cy="1376.9" rx="3.3" ry="2.5" transform="rotate(-31 1216.2 1376.9)"/><ellipse cx="996.9" cy="1483.9" rx="4.7" ry="3.8" transform="rotate(25 996.9 1483.9)"/><ellipse cx="870.2" cy="1590.4" rx="3.1" ry="2.3" transform="rotate(-37 870.2 1590.4)"/><ellipse cx="1000.5" cy="1515.9" rx="5.5" ry="3.7" transform="rotate(32 1000.5 1515.9)"/><ellipse cx="726.6" cy="1645.8" rx="4" ry="3.8" transform="rotate(21 726.6 1645.8)"/><ellipse cx="880.7" cy="1540.8" rx="3.2" ry="2.7" transform="rotate(1 880.7 1540.8)"/><ellipse cx="998.1" cy="1467.8" rx="3.8" ry="3.3" transform="rotate(-27 998.1 1467.8)"/><ellipse cx="811.4" cy="1627.8" rx="3.5" ry="3.4" transform="rotate(33 811.4 1627.8)"/><ellipse cx="881.3" cy="1574.4" rx="3.2" ry="3.1" transform="rotate(15 881.3 1574.4)"/><ellipse cx="685.7" cy="1577.5" rx="3.9" ry="3.8" transform="rotate(23 685.7 1577.5)"/><ellipse cx="1129.5" cy="1387.4" rx="4.4" ry="3.4" transform="rotate(-33 1129.5 1387.4)"/><ellipse cx="1058" cy="1492.8" rx="4.6" ry="4" transform="rotate(-29 1058 1492.8)"/><ellipse cx="1170.6" cy="1399.4" rx="4.6" ry="3.7" transform="rotate(-11 1170.6 1399.4)"/><ellipse cx="691.6" cy="1586.1" rx="3.2" ry="2.2" transform="rotate(20 691.6 1586.1)"/><ellipse cx="1076.9" cy="1471.2" rx="3.5" ry="3.3" transform="rotate(-9 1076.9 1471.2)"/><ellipse cx="860.4" cy="1561.6" rx="4.3" ry="3.1" transform="rotate(-19 860.4 1561.6)"/><ellipse cx="1120" cy="1456.2" rx="4.6" ry="3.6" transform="rotate(-2 1120 1456.2)"/><ellipse cx="1027.3" cy="1505.4" rx="4.4" ry="4.4" transform="rotate(-1 1027.3 1505.4)"/><ellipse cx="762" cy="1620" rx="4.2" ry="2.8" transform="rotate(-4 762 1620)"/><ellipse cx="695.1" cy="1633.5" rx="5.3" ry="3.6" transform="rotate(7 695.1 1633.5)"/><ellipse cx="773.6" cy="1611.6" rx="4.3" ry="3.5" transform="rotate(5 773.6 1611.6)"/><ellipse cx="720.2" cy="1630.3" rx="3.5" ry="2.9" transform="rotate(34 720.2 1630.3)"/><ellipse cx="1038.7" cy="1473" rx="4.9" ry="3.9" transform="rotate(16 1038.7 1473)"/><ellipse cx="1009.7" cy="1503.6" rx="4.5" ry="3.8" transform="rotate(-9 1009.7 1503.6)"/><ellipse cx="1056.9" cy="1457.7" rx="4.1" ry="3.2" transform="rotate(-16 1056.9 1457.7)"/><ellipse cx="1161.7" cy="1380.8" rx="4.6" ry="3.9" transform="rotate(10 1161.7 1380.8)"/><ellipse cx="936.7" cy="1498.7" rx="3.9" ry="3.3" transform="rotate(10 936.7 1498.7)"/><ellipse cx="1058" cy="1470.5" rx="3.9" ry="3.6" transform="rotate(-29 1058 1470.5)"/><ellipse cx="978.9" cy="1503.2" rx="4.7" ry="4" transform="rotate(39 978.9 1503.2)"/><ellipse cx="680.3" cy="1606.1" rx="3.6" ry="2.6" transform="rotate(39 680.3 1606.1)"/><ellipse cx="886.3" cy="1550.9" rx="3.6" ry="2.6" transform="rotate(-29 886.3 1550.9)"/><ellipse cx="1094.3" cy="1430.4" rx="3.3" ry="3.2" transform="rotate(31 1094.3 1430.4)"/><ellipse cx="738.9" cy="1637.1" rx="5.5" ry="4.4" transform="rotate(-5 738.9 1637.1)"/><ellipse cx="717.6" cy="1604.5" rx="5.2" ry="3.8" transform="rotate(30 717.6 1604.5)"/><ellipse cx="1128.2" cy="1434" rx="5.3" ry="4.5" transform="rotate(-11 1128.2 1434)"/><ellipse cx="859" cy="1549.7" rx="3.7" ry="2.9" transform="rotate(25 859 1549.7)"/><ellipse cx="712.2" cy="1618.9" rx="3.4" ry="3" transform="rotate(-23 712.2 1618.9)"/><ellipse cx="828.2" cy="1617.8" rx="3.8" ry="2.6" transform="rotate(-27 828.2 1617.8)"/><ellipse cx="810.6" cy="1591.3" rx="5.4" ry="4.2" transform="rotate(-8 810.6 1591.3)"/><ellipse cx="783.2" cy="1592.4" rx="5.2" ry="4" transform="rotate(-26 783.2 1592.4)"/><ellipse cx="1098.4" cy="1468.2" rx="4" ry="3.6" transform="rotate(-3 1098.4 1468.2)"/><ellipse cx="896.6" cy="1543.3" rx="3.6" ry="3.4" transform="rotate(-32 896.6 1543.3)"/><ellipse cx="1094.3" cy="1409.3" rx="5.4" ry="4.7" transform="rotate(12 1094.3 1409.3)"/><ellipse cx="844.1" cy="1606.4" rx="5.4" ry="3.6" transform="rotate(25 844.1 1606.4)"/><ellipse cx="784.7" cy="1624.7" rx="3.2" ry="3.1" transform="rotate(27 784.7 1624.7)"/><ellipse cx="816.6" cy="1600.8" rx="4.9" ry="3.2" transform="rotate(16 816.6 1600.8)"/><ellipse cx="703.2" cy="1591.4" rx="3.2" ry="2.7" transform="rotate(-16 703.2 1591.4)"/><ellipse cx="1173.9" cy="1408.3" rx="4.3" ry="3.7" transform="rotate(-13 1173.9 1408.3)"/><ellipse cx="1006.2" cy="1485.3" rx="4.1" ry="3.9" transform="rotate(39 1006.2 1485.3)"/><ellipse cx="1152.6" cy="1393.3" rx="3.2" ry="2.3" transform="rotate(0 1152.6 1393.3)"/><ellipse cx="1093.9" cy="1466.8" rx="7.3" ry="5.5" transform="rotate(-35 1093.9 1466.8)"/><ellipse cx="903.7" cy="1573.7" rx="7.7" ry="6.5" transform="rotate(21 903.7 1573.7)"/><ellipse cx="993.1" cy="1494.3" rx="7.9" ry="7.3" transform="rotate(5 993.1 1494.3)"/><ellipse cx="818.5" cy="1616.4" rx="6.7" ry="5.1" transform="rotate(-29 818.5 1616.4)"/><ellipse cx="1157.5" cy="1382" rx="7.7" ry="7.7" transform="rotate(-24 1157.5 1382)"/><ellipse cx="976.8" cy="1496.8" rx="5.4" ry="4" transform="rotate(35 976.8 1496.8)"/><ellipse cx="1196.3" cy="1380.6" rx="6.5" ry="4.4" transform="rotate(-5 1196.3 1380.6)"/><ellipse cx="1216.1" cy="1341" rx="7" ry="4.6" transform="rotate(37 1216.1 1341)"/><ellipse cx="1075.1" cy="1459.4" rx="5.6" ry="4.6" transform="rotate(-6 1075.1 1459.4)"/><ellipse cx="934.9" cy="1503.2" rx="7.1" ry="7.1" transform="rotate(3 934.9 1503.2)"/><ellipse cx="990.5" cy="1476.4" rx="7.2" ry="6.4" transform="rotate(-31 990.5 1476.4)"/><ellipse cx="806.2" cy="1619" rx="5" ry="4.8" transform="rotate(-34 806.2 1619)"/><ellipse cx="838.8" cy="1589" rx="7.1" ry="7" transform="rotate(29 838.8 1589)"/><ellipse cx="1085.3" cy="1440.2" rx="5.5" ry="4.5" transform="rotate(35 1085.3 1440.2)"/><ellipse cx="726.5" cy="1629.4" rx="7.6" ry="6.2" transform="rotate(-20 726.5 1629.4)"/><ellipse cx="799.4" cy="1622.1" rx="5.9" ry="3.9" transform="rotate(-26 799.4 1622.1)"/><ellipse cx="822.3" cy="1623.8" rx="5.4" ry="5.3" transform="rotate(-35 822.3 1623.8)"/><ellipse cx="999.9" cy="1500.4" rx="7.8" ry="5.7" transform="rotate(39 999.9 1500.4)"/><ellipse cx="1129.2" cy="1403.2" rx="8" ry="7.2" transform="rotate(-2 1129.2 1403.2)"/><ellipse cx="1162.1" cy="1404.4" rx="8" ry="7.6" transform="rotate(19 1162.1 1404.4)"/><ellipse cx="827.4" cy="1615.1" rx="7.1" ry="4.9" transform="rotate(-34 827.4 1615.1)"/><ellipse cx="691.6" cy="1623.7" rx="7.3" ry="6.5" transform="rotate(-10 691.6 1623.7)"/><ellipse cx="819.8" cy="1580.4" rx="6.3" ry="4.7" transform="rotate(18 819.8 1580.4)"/><ellipse cx="1098.4" cy="1425.7" rx="6.7" ry="5.1" transform="rotate(3 1098.4 1425.7)"/><ellipse cx="820.3" cy="1620.2" rx="7.4" ry="6.9" transform="rotate(-32 820.3 1620.2)"/><ellipse cx="1101.2" cy="1455.6" rx="6.9" ry="6.7" transform="rotate(-5 1101.2 1455.6)"/><ellipse cx="971.7" cy="1497.5" rx="6.1" ry="5.7" transform="rotate(-14 971.7 1497.5)"/><ellipse cx="1027.6" cy="1447" rx="6.5" ry="6.2" transform="rotate(11 1027.6 1447)"/><ellipse cx="1049.3" cy="1497.8" rx="5.1" ry="4.1" transform="rotate(-24 1049.3 1497.8)"/><ellipse cx="886.9" cy="1570.1" rx="7" ry="4.6" transform="rotate(9 886.9 1570.1)"/><ellipse cx="867.4" cy="1580" rx="6.9" ry="5" transform="rotate(16 867.4 1580)"/><ellipse cx="679.7" cy="1624.8" rx="7.8" ry="7.6" transform="rotate(39 679.7 1624.8)"/><ellipse cx="1016.2" cy="1486.6" rx="6.6" ry="6.5" transform="rotate(37 1016.2 1486.6)"/><ellipse cx="843.3" cy="1586.9" rx="6.3" ry="5.9" transform="rotate(33 843.3 1586.9)"/><ellipse cx="787" cy="1619.3" rx="5.4" ry="4.5" transform="rotate(25 787 1619.3)"/><ellipse cx="968.6" cy="1490" rx="7.8" ry="7.4" transform="rotate(0 968.6 1490)"/><ellipse cx="724.9" cy="1619.3" rx="6.2" ry="4.8" transform="rotate(-18 724.9 1619.3)"/><ellipse cx="1054.6" cy="1463.7" rx="6.3" ry="5.7" transform="rotate(0 1054.6 1463.7)"/><ellipse cx="874.5" cy="1570.3" rx="7" ry="6.1" transform="rotate(19 874.5 1570.3)"/><ellipse cx="1109.4" cy="1436.3" rx="5.8" ry="4" transform="rotate(10 1109.4 1436.3)"/><ellipse cx="1196" cy="1401.5" rx="7.5" ry="6.4" transform="rotate(-20 1196 1401.5)"/><ellipse cx="1154" cy="1390.4" rx="6.5" ry="5.4" transform="rotate(-38 1154 1390.4)"/><ellipse cx="690.2" cy="1624.9" rx="7.4" ry="5" transform="rotate(-27 690.2 1624.9)"/><ellipse cx="826.5" cy="1613.7" rx="6.8" ry="6.5" transform="rotate(18 826.5 1613.7)"/><ellipse cx="731.6" cy="1643.6" rx="5.1" ry="5" transform="rotate(-16 731.6 1643.6)"/><ellipse cx="995.4" cy="1500.3" rx="6.7" ry="4.5" transform="rotate(28 995.4 1500.3)"/><ellipse cx="794.8" cy="1612.7" rx="5.6" ry="4.5" transform="rotate(17 794.8 1612.7)"/><ellipse cx="824.5" cy="1581.6" rx="7.9" ry="6.9" transform="rotate(-25 824.5 1581.6)"/><ellipse cx="865.2" cy="1544.2" rx="7" ry="4.8" transform="rotate(-28 865.2 1544.2)"/><ellipse cx="1203.4" cy="1348.6" rx="7.2" ry="5.1" transform="rotate(-35 1203.4 1348.6)"/><ellipse cx="677.1" cy="1613.2" rx="7.7" ry="5.1" transform="rotate(-27 677.1 1613.2)"/><ellipse cx="705.3" cy="1602.8" rx="5.6" ry="5.2" transform="rotate(-31 705.3 1602.8)"/><ellipse cx="816" cy="1610.3" rx="5.4" ry="3.9" transform="rotate(39 816 1610.3)"/><ellipse cx="960.7" cy="1527.2" rx="8" ry="6.7" transform="rotate(-30 960.7 1527.2)"/><ellipse cx="1070.2" cy="1459" rx="6.2" ry="5.8" transform="rotate(-34 1070.2 1459)"/><ellipse cx="1004.4" cy="1518.6" rx="7.3" ry="5.4" transform="rotate(-9 1004.4 1518.6)"/><ellipse cx="927.4" cy="1507.6" rx="8" ry="6.5" transform="rotate(-28 927.4 1507.6)"/><ellipse cx="755.5" cy="1661.9" rx="5.4" ry="4.6" transform="rotate(35 755.5 1661.9)"/><ellipse cx="1026.8" cy="1464.6" rx="7" ry="6.5" transform="rotate(-23 1026.8 1464.6)"/><ellipse cx="942.1" cy="1533.9" rx="7.7" ry="6.6" transform="rotate(-18 942.1 1533.9)"/><ellipse cx="819.2" cy="1572.9" rx="5" ry="4.3" transform="rotate(6 819.2 1572.9)"/><ellipse cx="1009.1" cy="1468.5" rx="5.6" ry="4.8" transform="rotate(-7 1009.1 1468.5)"/><ellipse cx="1179" cy="1388.6" rx="7.2" ry="4.9" transform="rotate(0 1179 1388.6)"/><ellipse cx="690.1" cy="1585.4" rx="6.2" ry="4.3" transform="rotate(34 690.1 1585.4)"/><ellipse cx="891.7" cy="1528.7" rx="6.1" ry="5.6" transform="rotate(3 891.7 1528.7)"/><ellipse cx="1039" cy="1480.9" rx="6.3" ry="5.9" transform="rotate(-4 1039 1480.9)"/><ellipse cx="854" cy="1597.7" rx="5.2" ry="3.7" transform="rotate(10 854 1597.7)"/><ellipse cx="967.6" cy="1522.6" rx="6.3" ry="5.4" transform="rotate(-36 967.6 1522.6)"/><ellipse cx="1206.9" cy="1379.5" rx="6" ry="5.2" transform="rotate(38 1206.9 1379.5)"/><ellipse cx="944.3" cy="1547.1" rx="7.6" ry="5.5" transform="rotate(13 944.3 1547.1)"/><ellipse cx="914.8" cy="1562.9" rx="6.1" ry="5.9" transform="rotate(-1 914.8 1562.9)"/><ellipse cx="809.2" cy="1598" rx="5.1" ry="4.8" transform="rotate(31 809.2 1598)"/><ellipse cx="967.2" cy="1543.5" rx="6.2" ry="4.7" transform="rotate(-29 967.2 1543.5)"/><ellipse cx="1126.1" cy="1423" rx="7.2" ry="6.8" transform="rotate(13 1126.1 1423)"/><ellipse cx="722.8" cy="1648.7" rx="6.4" ry="5.1" transform="rotate(11 722.8 1648.7)"/><ellipse cx="854.4" cy="1589.8" rx="8" ry="5.5" transform="rotate(13 854.4 1589.8)"/><ellipse cx="766.1" cy="1607.1" rx="5.9" ry="5.3" transform="rotate(-29 766.1 1607.1)"/><ellipse cx="1040.5" cy="1487.2" rx="8" ry="7.5" transform="rotate(-24 1040.5 1487.2)"/><ellipse cx="1033.7" cy="1478" rx="6.8" ry="5.3" transform="rotate(-20 1033.7 1478)"/><ellipse cx="1159.5" cy="1413.8" rx="7" ry="6.9" transform="rotate(-19 1159.5 1413.8)"/><ellipse cx="1137.8" cy="1424.4" rx="5" ry="4.1" transform="rotate(25 1137.8 1424.4)"/><ellipse cx="933.8" cy="1563.6" rx="6.4" ry="5.3" transform="rotate(7 933.8 1563.6)"/><ellipse cx="962.9" cy="1541.4" rx="7.1" ry="5.6" transform="rotate(9 962.9 1541.4)"/><ellipse cx="772.8" cy="1624.3" rx="5.1" ry="3.9" transform="rotate(27 772.8 1624.3)"/><ellipse cx="841.6" cy="1563.8" rx="6.1" ry="4.9" transform="rotate(-28 841.6 1563.8)"/><ellipse cx="822.4" cy="1599.1" rx="5.8" ry="5.1" transform="rotate(-30 822.4 1599.1)"/><ellipse cx="1147.5" cy="1377.4" rx="5.6" ry="3.8" transform="rotate(26 1147.5 1377.4)"/><ellipse cx="862.4" cy="1599.5" rx="5.5" ry="4.5" transform="rotate(18 862.4 1599.5)"/><ellipse cx="779.4" cy="1592" rx="5.6" ry="5.4" transform="rotate(31 779.4 1592)"/><ellipse cx="771" cy="1635" rx="5.6" ry="5.4" transform="rotate(33 771 1635)"/><ellipse cx="1114.1" cy="1446.2" rx="7.5" ry="5.9" transform="rotate(17 1114.1 1446.2)"/><ellipse cx="726.2" cy="1622.9" rx="8" ry="7.4" transform="rotate(-3 726.2 1622.9)"/><ellipse cx="1024" cy="1487.8" rx="5" ry="3.7" transform="rotate(-19 1024 1487.8)"/><ellipse cx="1179.7" cy="1398.6" rx="7.3" ry="6.3" transform="rotate(-28 1179.7 1398.6)"/><ellipse cx="1022.2" cy="1497.7" rx="6.3" ry="5.6" transform="rotate(-13 1022.2 1497.7)"/><ellipse cx="827.9" cy="1587.8" rx="6.7" ry="4.6" transform="rotate(34 827.9 1587.8)"/><ellipse cx="728.9" cy="1618.1" rx="7.8" ry="5.9" transform="rotate(-37 728.9 1618.1)"/><ellipse cx="926.5" cy="1557.2" rx="7" ry="5.6" transform="rotate(12 926.5 1557.2)"/><ellipse cx="903.1" cy="1530.1" rx="7" ry="5.9" transform="rotate(-36 903.1 1530.1)"/><ellipse cx="951.2" cy="1495.6" rx="6.6" ry="5.2" transform="rotate(-16 951.2 1495.6)"/><ellipse cx="1095.8" cy="1410.6" rx="6.8" ry="6.8" transform="rotate(8 1095.8 1410.6)"/><ellipse cx="857.9" cy="1557.9" rx="6" ry="4.4" transform="rotate(-27 857.9 1557.9)"/><ellipse cx="984.3" cy="1523.4" rx="7.3" ry="4.9" transform="rotate(21 984.3 1523.4)"/><ellipse cx="873.6" cy="1534.9" rx="7.6" ry="5.3" transform="rotate(-19 873.6 1534.9)"/><ellipse cx="1123.4" cy="1451.8" rx="7.7" ry="7.3" transform="rotate(27 1123.4 1451.8)"/><ellipse cx="774.8" cy="1606.8" rx="5.4" ry="3.7" transform="rotate(-29 774.8 1606.8)"/><ellipse cx="772.1" cy="1612.3" rx="7.6" ry="5.6" transform="rotate(0 772.1 1612.3)"/><ellipse cx="755.7" cy="1649.8" rx="6.6" ry="4.4" transform="rotate(31 755.7 1649.8)"/><ellipse cx="796.1" cy="1641.7" rx="6.7" ry="5.9" transform="rotate(-23 796.1 1641.7)"/><ellipse cx="727" cy="1640.8" rx="5.5" ry="3.7" transform="rotate(5 727 1640.8)"/><ellipse cx="910.6" cy="1569.6" rx="6.7" ry="4.6" transform="rotate(15 910.6 1569.6)"/><ellipse cx="1015.8" cy="1514.4" rx="6.4" ry="5.6" transform="rotate(-35 1015.8 1514.4)"/><ellipse cx="889.7" cy="1553.2" rx="6.5" ry="4.5" transform="rotate(15 889.7 1553.2)"/><ellipse cx="694" cy="1613.4" rx="5.1" ry="3.9" transform="rotate(24 694 1613.4)"/><ellipse cx="925.2" cy="1515.6" rx="7.3" ry="6.9" transform="rotate(-33 925.2 1515.6)"/><ellipse cx="1006.2" cy="1503" rx="5.6" ry="5.3" transform="rotate(8 1006.2 1503)"/><ellipse cx="1194.7" cy="1393.5" rx="7" ry="5.3" transform="rotate(-18 1194.7 1393.5)"/><ellipse cx="1130" cy="1425.2" rx="5.8" ry="5.6" transform="rotate(1 1130 1425.2)"/><ellipse cx="1055.9" cy="1477.1" rx="6" ry="6" transform="rotate(-1 1055.9 1477.1)"/><ellipse cx="938.4" cy="1531.1" rx="5.5" ry="4.3" transform="rotate(-6 938.4 1531.1)"/><ellipse cx="823" cy="1576.6" rx="6.9" ry="5.7" transform="rotate(30 823 1576.6)"/><ellipse cx="707.8" cy="1637.4" rx="7.3" ry="5.6" transform="rotate(1 707.8 1637.4)"/><ellipse cx="750.8" cy="1610.7" rx="5.7" ry="5.4" transform="rotate(-24 750.8 1610.7)"/><ellipse cx="1011" cy="1500.5" rx="6.9" ry="5.3" transform="rotate(-12 1011 1500.5)"/><ellipse cx="733.4" cy="1622.7" rx="5.9" ry="4.2" transform="rotate(0 733.4 1622.7)"/><ellipse cx="901.7" cy="1525.1" rx="5.6" ry="4.6" transform="rotate(-13 901.7 1525.1)"/><ellipse cx="739.1" cy="1605.3" rx="6.2" ry="4.7" transform="rotate(-35 739.1 1605.3)"/><ellipse cx="956.1" cy="1531.7" rx="5.8" ry="4.5" transform="rotate(32 956.1 1531.7)"/><ellipse cx="958.1" cy="1499.5" rx="7.4" ry="7.2" transform="rotate(-20 958.1 1499.5)"/><ellipse cx="924.4" cy="1536.3" rx="5.1" ry="3.7" transform="rotate(-20 924.4 1536.3)"/></g></g>
<polygon points="675.7,1561.8 748.4,1603.8 1219.2,1332 1219.2,1339 748.4,1610.8 675.7,1568.8" fill="url(#sand)" stroke="none"/>
<polygon points="675.7,1561.8 1146.4,1290 1219.2,1332 748.4,1603.8" fill="url(#sand)" stroke="#111" stroke-width="1" />
<polyline points="675.7,1658.2 675.7,1561.8" fill="none" stroke="#111" stroke-width="1" />
<polyline points="748.4,1700.2 748.4,1603.8" fill="none" stroke="#111" stroke-width="1" />
<polyline points="1219.2,1428.4 1219.2,1332" fill="none" stroke="#111" stroke-width="1" />
<polyline points="675.7,1658.2 748.4,1700.2 1219.2,1428.4" fill="none" stroke="#111" stroke-width="1" />
<polygon points="1072.9,1259.1 1146.4,1216.6 1219.2,1258.6 1145.6,1301.1" fill="#fff" stroke="#111" stroke-width="1" />
<polygon points="1072.9,1259.1 1145.6,1301.1 1145.6,1315.1 1072.9,1273.1" fill="#fff" stroke="#111" stroke-width="1" />
<polygon points="1145.6,1301.1 1219.2,1258.6 1219.2,1272.6 1145.6,1315.1" fill="#fff" stroke="#111" stroke-width="1" />
<polygon points="967.4,1320 1070.6,1260.4 1143.4,1302.4 1040.2,1362" fill="#fff" stroke="#111" stroke-width="1" />
<polygon points="967.4,1320 1040.2,1362 1040.2,1376 967.4,1334" fill="#fff" stroke="#111" stroke-width="1" />
<polygon points="1040.2,1362 1143.4,1302.4 1143.4,1316.4 1040.2,1376" fill="#fff" stroke="#111" stroke-width="1" />
<polygon points="859.9,1382 965.2,1321.2 1037.9,1363.2 932.7,1424" fill="#fff" stroke="#111" stroke-width="1" />
<polygon points="859.9,1382 932.7,1424 932.7,1438 859.9,1396" fill="#fff" stroke="#111" stroke-width="1" />
<polygon points="932.7,1424 1037.9,1363.2 1037.9,1377.2 932.7,1438" fill="#fff" stroke="#111" stroke-width="1" />
<polygon points="750.9,1445 857.7,1383.3 930.4,1425.3 823.7,1487" fill="#fff" stroke="#111" stroke-width="1" />
<polygon points="750.9,1445 823.7,1487 823.7,1501 750.9,1459" fill="#fff" stroke="#111" stroke-width="1" />
<polygon points="823.7,1487 930.4,1425.3 930.4,1439.3 823.7,1501" fill="#fff" stroke="#111" stroke-width="1" />
<polygon points="675.7,1488.4 748.7,1446.2 821.4,1488.2 748.4,1530.4" fill="#fff" stroke="#111" stroke-width="1" />
<polygon points="675.7,1488.4 748.4,1530.4 748.4,1544.4 675.7,1502.4" fill="#fff" stroke="#111" stroke-width="1" />
<polygon points="748.4,1530.4 821.4,1488.2 821.4,1502.2 748.4,1544.4" fill="#fff" stroke="#111" stroke-width="1" />
<line x1="675.7" y1="1502.4" x2="675.7" y2="1561.8" stroke="#222" stroke-width="1" stroke-dasharray="2 3"/>
<line x1="748.4" y1="1544.4" x2="748.4" y2="1603.8" stroke="#222" stroke-width="1" stroke-dasharray="2 3"/>
<line x1="1219.2" y1="1272.6" x2="1219.2" y2="1332" stroke="#222" stroke-width="1" stroke-dasharray="2 3"/>
<polygon points="938.1,1289.7 939.2,1290.2 939.2,1364.2 938.1,1363.7" fill="#fff" stroke="#111" stroke-width="1" />
<polygon points="939.2,1290.2 945.2,1286.8 945.2,1360.8 939.2,1364.2" fill="#fff" stroke="#111" stroke-width="1" />
<polygon points="925.2,1297.2 926.2,1297.8 926.2,1371.8 925.2,1371.2" fill="#fff" stroke="#111" stroke-width="1" />
<polygon points="926.2,1297.8 932.3,1294.2 932.3,1368.2 926.2,1371.8" fill="#fff" stroke="#111" stroke-width="1" />
<polygon points="932.3,1328.2 939.2,1324.2 939.2,1330.2 932.3,1334.2" fill="#fff" stroke="#111" stroke-width="1" />
<polygon points="812.1,1364.3 906,1310.1 975.9,1350.5 882,1404.6" fill="#fff" stroke="#111" stroke-width="1" />
<polygon points="812.1,1364.3 882,1404.6 882,1450.1 812.1,1409.8" fill="#fff" stroke="#111" stroke-width="1" />
<polygon points="882,1404.6 975.9,1350.5 975.9,1396 882,1450.1" fill="#fff" stroke="#111" stroke-width="1" />
<line x1="812.1" y1="1373.4" x2="882" y2="1413.7" stroke="#111" stroke-width="1.8" />
<line x1="882" y1="1413.7" x2="975.9" y2="1359.5" stroke="#111" stroke-width="1.8" />
<line x1="812.1" y1="1382.5" x2="882" y2="1422.8" stroke="#111" stroke-width="1.8" />
<line x1="882" y1="1422.8" x2="975.9" y2="1368.7" stroke="#111" stroke-width="1.8" />
<line x1="812.1" y1="1391.6" x2="882" y2="1431.9" stroke="#111" stroke-width="1.8" />
<line x1="882" y1="1431.9" x2="975.9" y2="1377.8" stroke="#111" stroke-width="1.8" />
<line x1="812.1" y1="1400.7" x2="882" y2="1441" stroke="#111" stroke-width="1.8" />
<line x1="882" y1="1441" x2="975.9" y2="1386.9" stroke="#111" stroke-width="1.8" />
<line x1="823.7" y1="1371" x2="917.6" y2="1316.8" stroke="#111" stroke-width="1" />
<line x1="823.7" y1="1371" x2="823.7" y2="1416.5" stroke="#111" stroke-width="1" />
<line x1="835.4" y1="1377.8" x2="929.3" y2="1323.5" stroke="#111" stroke-width="1" />
<line x1="835.4" y1="1377.8" x2="835.4" y2="1423.2" stroke="#111" stroke-width="1" />
<line x1="847" y1="1384.5" x2="940.9" y2="1330.3" stroke="#111" stroke-width="1" />
<line x1="847" y1="1384.5" x2="847" y2="1430" stroke="#111" stroke-width="1" />
<line x1="858.7" y1="1391.2" x2="952.6" y2="1337" stroke="#111" stroke-width="1" />
<line x1="858.7" y1="1391.2" x2="858.7" y2="1436.7" stroke="#111" stroke-width="1" />
<line x1="870.3" y1="1397.9" x2="964.2" y2="1343.7" stroke="#111" stroke-width="1" />
<line x1="870.3" y1="1397.9" x2="870.3" y2="1443.4" stroke="#111" stroke-width="1" />
<line x1="835.6" y1="1350.8" x2="905.5" y2="1391.1" stroke="#111" stroke-width="1" />
<line x1="905.5" y1="1391.1" x2="905.5" y2="1436.6" stroke="#111" stroke-width="1" />
<line x1="859" y1="1337.2" x2="928.9" y2="1377.5" stroke="#111" stroke-width="1" />
<line x1="928.9" y1="1377.5" x2="928.9" y2="1423" stroke="#111" stroke-width="1" />
<line x1="882.5" y1="1323.6" x2="952.4" y2="1364" stroke="#111" stroke-width="1" />
<line x1="952.4" y1="1364" x2="952.4" y2="1409.5" stroke="#111" stroke-width="1" />
<line x1="812.1" y1="1411.3" x2="882" y2="1451.6" stroke="#111" stroke-width="1" />
<line x1="882" y1="1451.6" x2="975.9" y2="1397.5" stroke="#111" stroke-width="1" />
<polygon points="831.1,1351.5 832.1,1352.1 832.1,1426.1 831.1,1425.5" fill="#fff" stroke="#111" stroke-width="1" />
<polygon points="832.1,1352.1 838.2,1348.6 838.2,1422.6 832.1,1426.1" fill="#fff" stroke="#111" stroke-width="1" />
<polygon points="818.1,1359 819.2,1359.6 819.2,1433.6 818.1,1433" fill="#fff" stroke="#111" stroke-width="1" />
<polygon points="819.2,1359.6 825.2,1356.1 825.2,1430.1 819.2,1433.6" fill="#fff" stroke="#111" stroke-width="1" />
<polygon points="825.2,1390.1 832.1,1386.1 832.1,1392.1 825.2,1396.1" fill="#fff" stroke="#111" stroke-width="1" />
<polygon points="724.1,1413.2 725.1,1413.9 725.1,1487.9 724.1,1487.2" fill="#fff" stroke="#111" stroke-width="1" />
<polygon points="725.1,1413.9 731.2,1410.4 731.2,1484.4 725.1,1487.9" fill="#fff" stroke="#111" stroke-width="1" />
<polygon points="711.1,1420.8 712.1,1421.4 712.1,1495.4 711.1,1494.8" fill="#fff" stroke="#111" stroke-width="1" />
<polygon points="712.1,1421.4 718.2,1417.9 718.2,1491.9 712.1,1495.4" fill="#fff" stroke="#111" stroke-width="1" />
<polygon points="718.2,1451.9 725.1,1447.9 725.1,1453.9 718.2,1457.9" fill="#fff" stroke="#111" stroke-width="1" />
<path d="M926.1 1577 L926.1 1618.5 L937.8 1618.5 L937.8 1575.5" stroke="#222" stroke-width="1" fill="#fff"/><polygon points="937.3,1553.9 943.9,1557.2 943.9,1569.5 937.3,1566.5" stroke="#222" stroke-width="1" fill="#fff"/><polygon points="927.5,1571.3 935,1565.2 942.5,1569.4 934,1575" stroke="#222" stroke-width="1" fill="#fff"/><path d="M927.5 1571.5 L927.5 1575.5 Q933.9 1580.5 942.5 1573.5 L942.5 1569.5" stroke="#222" stroke-width="1" fill="#fff"/><polygon points="920,1561.9 927.5,1565.2 927.5,1577.3 920,1574" stroke="#222" stroke-width="1" fill="#fff"/><ellipse cx="931.9" cy="1618.5" rx="8.2" ry="3" transform="rotate(-12 931.9 1618.5)" stroke="#222" stroke-width="1" fill="#fff"/><path d="M925.2 1619 Q931.9 1621.8 938.6 1616.3" stroke="#222" stroke-width="0.8" fill="none"/><ellipse cx="931.9" cy="1624" rx="8.2" ry="3" transform="rotate(-12 931.9 1624)" stroke="#222" stroke-width="1" fill="#fff"/><path d="M925.2 1624.5 Q931.9 1627.3 938.6 1621.8" stroke="#222" stroke-width="0.8" fill="none"/><ellipse cx="931.9" cy="1629.5" rx="8.2" ry="3" transform="rotate(-12 931.9 1629.5)" stroke="#222" stroke-width="1" fill="#fff"/><path d="M925.2 1630 Q931.9 1632.8 938.6 1627.3" stroke="#222" stroke-width="0.8" fill="none"/><ellipse cx="931.9" cy="1635" rx="8.2" ry="3" transform="rotate(-12 931.9 1635)" stroke="#222" stroke-width="1" fill="#fff"/><path d="M925.2 1635.5 Q931.9 1638.3 938.6 1632.8" stroke="#222" stroke-width="0.8" fill="none"/><ellipse cx="931.9" cy="1640.5" rx="8.2" ry="3" transform="rotate(-12 931.9 1640.5)" stroke="#222" stroke-width="1" fill="#fff"/><path d="M925.2 1641 Q931.9 1643.8 938.6 1638.3" stroke="#222" stroke-width="0.8" fill="none"/><ellipse cx="931.9" cy="1646" rx="8.2" ry="3" transform="rotate(-12 931.9 1646)" stroke="#222" stroke-width="1" fill="#fff"/><path d="M925.2 1646.5 Q931.9 1649.3 938.6 1643.8" stroke="#222" stroke-width="0.8" fill="none"/><ellipse cx="931.9" cy="1651.5" rx="8.2" ry="3" transform="rotate(-12 931.9 1651.5)" stroke="#222" stroke-width="1" fill="#fff"/><path d="M925.2 1652 Q931.9 1654.8 938.6 1649.3" stroke="#222" stroke-width="0.8" fill="none"/><ellipse cx="931.9" cy="1657" rx="8.2" ry="3" transform="rotate(-12 931.9 1657)" stroke="#222" stroke-width="1" fill="#fff"/><path d="M925.2 1657.5 Q931.9 1660.3 938.6 1654.8" stroke="#222" stroke-width="0.8" fill="none"/><ellipse cx="931.9" cy="1662.5" rx="7.4" ry="3" transform="rotate(-12 931.9 1662.5)" stroke="#222" stroke-width="1" fill="#fff"/><path d="M925.9 1663 Q931.9 1665.8 937.9 1660.3" stroke="#222" stroke-width="0.8" fill="none"/><ellipse cx="931.9" cy="1668" rx="6.5" ry="3" transform="rotate(-12 931.9 1668)" stroke="#222" stroke-width="1" fill="#fff"/><path d="M926.9 1668.5 Q931.9 1671.3 936.9 1665.8" stroke="#222" stroke-width="0.8" fill="none"/><ellipse cx="931.9" cy="1673.5" rx="5.6" ry="3" transform="rotate(-12 931.9 1673.5)" stroke="#222" stroke-width="1" fill="#fff"/><path d="M927.8 1674 Q931.9 1676.8 936 1671.3" stroke="#222" stroke-width="0.8" fill="none"/><ellipse cx="931.9" cy="1679" rx="4.6" ry="3" transform="rotate(-12 931.9 1679)" stroke="#222" stroke-width="1" fill="#fff"/><path d="M928.8 1679.5 Q931.9 1682.3 935 1676.8" stroke="#222" stroke-width="0.8" fill="none"/><ellipse cx="931.9" cy="1684.5" rx="3.7" ry="3" transform="rotate(-12 931.9 1684.5)" stroke="#222" stroke-width="1" fill="#fff"/><path d="M929.7 1685 Q931.9 1687.8 934.1 1682.3" stroke="#222" stroke-width="0.8" fill="none"/><polygon points="929.4,1688.5 934.4,1687.5 931.9,1694.5" stroke="#222" stroke-width="1" fill="#fff"/>
<path d="M1033.3 1515.5 L1033.3 1557 L1045 1557 L1045 1514" stroke="#222" stroke-width="1" fill="#fff"/><polygon points="1044.5,1492.4 1051.1,1495.7 1051.1,1508 1044.5,1505" stroke="#222" stroke-width="1" fill="#fff"/><polygon points="1034.7,1509.8 1042.2,1503.7 1049.7,1507.9 1041.2,1513.5" stroke="#222" stroke-width="1" fill="#fff"/><path d="M1034.7 1510 L1034.7 1514 Q1041.1 1519 1049.7 1512 L1049.7 1508" stroke="#222" stroke-width="1" fill="#fff"/><polygon points="1027.2,1500.4 1034.7,1503.7 1034.7,1515.8 1027.2,1512.5" stroke="#222" stroke-width="1" fill="#fff"/><ellipse cx="1039.1" cy="1557" rx="8.2" ry="3" transform="rotate(-12 1039.1 1557)" stroke="#222" stroke-width="1" fill="#fff"/><path d="M1032.4 1557.5 Q1039.1 1560.3 1045.8 1554.8" stroke="#222" stroke-width="0.8" fill="none"/><ellipse cx="1039.1" cy="1562.5" rx="8.2" ry="3" transform="rotate(-12 1039.1 1562.5)" stroke="#222" stroke-width="1" fill="#fff"/><path d="M1032.4 1563 Q1039.1 1565.8 1045.8 1560.3" stroke="#222" stroke-width="0.8" fill="none"/><ellipse cx="1039.1" cy="1568" rx="8.2" ry="3" transform="rotate(-12 1039.1 1568)" stroke="#222" stroke-width="1" fill="#fff"/><path d="M1032.4 1568.5 Q1039.1 1571.3 1045.8 1565.8" stroke="#222" stroke-width="0.8" fill="none"/><ellipse cx="1039.1" cy="1573.5" rx="8.2" ry="3" transform="rotate(-12 1039.1 1573.5)" stroke="#222" stroke-width="1" fill="#fff"/><path d="M1032.4 1574 Q1039.1 1576.8 1045.8 1571.3" stroke="#222" stroke-width="0.8" fill="none"/><ellipse cx="1039.1" cy="1579" rx="8.2" ry="3" transform="rotate(-12 1039.1 1579)" stroke="#222" stroke-width="1" fill="#fff"/><path d="M1032.4 1579.5 Q1039.1 1582.3 1045.8 1576.8" stroke="#222" stroke-width="0.8" fill="none"/><ellipse cx="1039.1" cy="1584.5" rx="8.2" ry="3" transform="rotate(-12 1039.1 1584.5)" stroke="#222" stroke-width="1" fill="#fff"/><path d="M1032.4 1585 Q1039.1 1587.8 1045.8 1582.3" stroke="#222" stroke-width="0.8" fill="none"/><ellipse cx="1039.1" cy="1590" rx="8.2" ry="3" transform="rotate(-12 1039.1 1590)" stroke="#222" stroke-width="1" fill="#fff"/><path d="M1032.4 1590.5 Q1039.1 1593.3 1045.8 1587.8" stroke="#222" stroke-width="0.8" fill="none"/><ellipse cx="1039.1" cy="1595.5" rx="8.2" ry="3" transform="rotate(-12 1039.1 1595.5)" stroke="#222" stroke-width="1" fill="#fff"/><path d="M1032.4 1596 Q1039.1 1598.8 1045.8 1593.3" stroke="#222" stroke-width="0.8" fill="none"/><ellipse cx="1039.1" cy="1601" rx="7.4" ry="3" transform="rotate(-12 1039.1 1601)" stroke="#222" stroke-width="1" fill="#fff"/><path d="M1033.1 1601.5 Q1039.1 1604.3 1045 1598.8" stroke="#222" stroke-width="0.8" fill="none"/><ellipse cx="1039.1" cy="1606.5" rx="6.5" ry="3" transform="rotate(-12 1039.1 1606.5)" stroke="#222" stroke-width="1" fill="#fff"/><path d="M1034.1 1607 Q1039.1 1609.8 1044.1 1604.3" stroke="#222" stroke-width="0.8" fill="none"/><ellipse cx="1039.1" cy="1612" rx="5.6" ry="3" transform="rotate(-12 1039.1 1612)" stroke="#222" stroke-width="1" fill="#fff"/><path d="M1035 1612.5 Q1039.1 1615.3 1043.2 1609.8" stroke="#222" stroke-width="0.8" fill="none"/><ellipse cx="1039.1" cy="1617.5" rx="4.6" ry="3" transform="rotate(-12 1039.1 1617.5)" stroke="#222" stroke-width="1" fill="#fff"/><path d="M1036 1618 Q1039.1 1620.8 1042.2 1615.3" stroke="#222" stroke-width="0.8" fill="none"/><ellipse cx="1039.1" cy="1623" rx="3.7" ry="3" transform="rotate(-12 1039.1 1623)" stroke="#222" stroke-width="1" fill="#fff"/><path d="M1036.9 1623.5 Q1039.1 1626.3 1041.3 1620.8" stroke="#222" stroke-width="0.8" fill="none"/><polygon points="1036.6,1627 1041.6,1626 1039.1,1633" stroke="#222" stroke-width="1" fill="#fff"/>
<path d="M1140.5 1454 L1140.5 1495.5 L1152.2 1495.5 L1152.2 1452.5" stroke="#222" stroke-width="1" fill="#fff"/><polygon points="1151.7,1430.9 1158.3,1434.2 1158.3,1446.5 1151.7,1443.5" stroke="#222" stroke-width="1" fill="#fff"/><polygon points="1141.9,1448.3 1149.4,1442.2 1156.9,1446.4 1148.4,1452" stroke="#222" stroke-width="1" fill="#fff"/><path d="M1141.9 1448.5 L1141.9 1452.5 Q1148.3 1457.5 1156.9 1450.5 L1156.9 1446.5" stroke="#222" stroke-width="1" fill="#fff"/><polygon points="1134.4,1438.9 1141.9,1442.2 1141.9,1454.3 1134.4,1451" stroke="#222" stroke-width="1" fill="#fff"/><ellipse cx="1146.3" cy="1495.5" rx="8.2" ry="3" transform="rotate(-12 1146.3 1495.5)" stroke="#222" stroke-width="1" fill="#fff"/><path d="M1139.6 1496 Q1146.3 1498.8 1153 1493.3" stroke="#222" stroke-width="0.8" fill="none"/><ellipse cx="1146.3" cy="1501" rx="8.2" ry="3" transform="rotate(-12 1146.3 1501)" stroke="#222" stroke-width="1" fill="#fff"/><path d="M1139.6 1501.5 Q1146.3 1504.3 1153 1498.8" stroke="#222" stroke-width="0.8" fill="none"/><ellipse cx="1146.3" cy="1506.5" rx="8.2" ry="3" transform="rotate(-12 1146.3 1506.5)" stroke="#222" stroke-width="1" fill="#fff"/><path d="M1139.6 1507 Q1146.3 1509.8 1153 1504.3" stroke="#222" stroke-width="0.8" fill="none"/><ellipse cx="1146.3" cy="1512" rx="8.2" ry="3" transform="rotate(-12 1146.3 1512)" stroke="#222" stroke-width="1" fill="#fff"/><path d="M1139.6 1512.5 Q1146.3 1515.3 1153 1509.8" stroke="#222" stroke-width="0.8" fill="none"/><ellipse cx="1146.3" cy="1517.5" rx="8.2" ry="3" transform="rotate(-12 1146.3 1517.5)" stroke="#222" stroke-width="1" fill="#fff"/><path d="M1139.6 1518 Q1146.3 1520.8 1153 1515.3" stroke="#222" stroke-width="0.8" fill="none"/><ellipse cx="1146.3" cy="1523" rx="8.2" ry="3" transform="rotate(-12 1146.3 1523)" stroke="#222" stroke-width="1" fill="#fff"/><path d="M1139.6 1523.5 Q1146.3 1526.3 1153 1520.8" stroke="#222" stroke-width="0.8" fill="none"/><ellipse cx="1146.3" cy="1528.5" rx="8.2" ry="3" transform="rotate(-12 1146.3 1528.5)" stroke="#222" stroke-width="1" fill="#fff"/><path d="M1139.6 1529 Q1146.3 1531.8 1153 1526.3" stroke="#222" stroke-width="0.8" fill="none"/><ellipse cx="1146.3" cy="1534" rx="8.2" ry="3" transform="rotate(-12 1146.3 1534)" stroke="#222" stroke-width="1" fill="#fff"/><path d="M1139.6 1534.5 Q1146.3 1537.3 1153 1531.8" stroke="#222" stroke-width="0.8" fill="none"/><ellipse cx="1146.3" cy="1539.5" rx="7.4" ry="3" transform="rotate(-12 1146.3 1539.5)" stroke="#222" stroke-width="1" fill="#fff"/><path d="M1140.3 1540 Q1146.3 1542.8 1152.2 1537.3" stroke="#222" stroke-width="0.8" fill="none"/><ellipse cx="1146.3" cy="1545" rx="6.5" ry="3" transform="rotate(-12 1146.3 1545)" stroke="#222" stroke-width="1" fill="#fff"/><path d="M1141.3 1545.5 Q1146.3 1548.3 1151.3 1542.8" stroke="#222" stroke-width="0.8" fill="none"/><ellipse cx="1146.3" cy="1550.5" rx="5.6" ry="3" transform="rotate(-12 1146.3 1550.5)" stroke="#222" stroke-width="1" fill="#fff"/><path d="M1142.2 1551 Q1146.3 1553.8 1150.4 1548.3" stroke="#222" stroke-width="0.8" fill="none"/><ellipse cx="1146.3" cy="1556" rx="4.6" ry="3" transform="rotate(-12 1146.3 1556)" stroke="#222" stroke-width="1" fill="#fff"/><path d="M1143.2 1556.5 Q1146.3 1559.3 1149.4 1553.8" stroke="#222" stroke-width="0.8" fill="none"/><ellipse cx="1146.3" cy="1561.5" rx="3.7" ry="3" transform="rotate(-12 1146.3 1561.5)" stroke="#222" stroke-width="1" fill="#fff"/><path d="M1144.1 1562 Q1146.3 1564.8 1148.5 1559.3" stroke="#222" stroke-width="0.8" fill="none"/><polygon points="1143.8,1565.5 1148.8,1564.5 1146.3,1571.5" stroke="#222" stroke-width="1" fill="#fff"/>
<path d="M1247.7 1392.5 L1247.7 1434 L1259.4 1434 L1259.4 1391" stroke="#222" stroke-width="1" fill="#fff" stroke-dasharray="2 2"/><polygon points="1258.9,1369.4 1265.5,1372.7 1265.5,1385 1258.9,1382" stroke="#222" stroke-width="1" fill="#fff" stroke-dasharray="2 2"/><polygon points="1249.1,1386.8 1256.6,1380.7 1264.1,1384.9 1255.6,1390.5" stroke="#222" stroke-width="1" fill="#fff" stroke-dasharray="2 2"/><path d="M1249.1 1387 L1249.1 1391 Q1255.5 1396 1264.1 1389 L1264.1 1385" stroke="#222" stroke-width="1" fill="#fff" stroke-dasharray="2 2"/><polygon points="1241.6,1377.4 1249.1,1380.7 1249.1,1392.8 1241.6,1389.5" stroke="#222" stroke-width="1" fill="#fff" stroke-dasharray="2 2"/><ellipse cx="1253.5" cy="1434" rx="8.2" ry="3" transform="rotate(-12 1253.5 1434)" stroke="#222" stroke-width="1" fill="#fff" stroke-dasharray="2 2"/><ellipse cx="1253.5" cy="1439.5" rx="8.2" ry="3" transform="rotate(-12 1253.5 1439.5)" stroke="#222" stroke-width="1" fill="#fff" stroke-dasharray="2 2"/><ellipse cx="1253.5" cy="1445" rx="8.2" ry="3" transform="rotate(-12 1253.5 1445)" stroke="#222" stroke-width="1" fill="#fff" stroke-dasharray="2 2"/><ellipse cx="1253.5" cy="1450.5" rx="8.2" ry="3" transform="rotate(-12 1253.5 1450.5)" stroke="#222" stroke-width="1" fill="#fff" stroke-dasharray="2 2"/><ellipse cx="1253.5" cy="1456" rx="8.2" ry="3" transform="rotate(-12 1253.5 1456)" stroke="#222" stroke-width="1" fill="#fff" stroke-dasharray="2 2"/><ellipse cx="1253.5" cy="1461.5" rx="8.2" ry="3" transform="rotate(-12 1253.5 1461.5)" stroke="#222" stroke-width="1" fill="#fff" stroke-dasharray="2 2"/><ellipse cx="1253.5" cy="1467" rx="8.2" ry="3" transform="rotate(-12 1253.5 1467)" stroke="#222" stroke-width="1" fill="#fff" stroke-dasharray="2 2"/><ellipse cx="1253.5" cy="1472.5" rx="8.2" ry="3" transform="rotate(-12 1253.5 1472.5)" stroke="#222" stroke-width="1" fill="#fff" stroke-dasharray="2 2"/><ellipse cx="1253.5" cy="1478" rx="7.4" ry="3" transform="rotate(-12 1253.5 1478)" stroke="#222" stroke-width="1" fill="#fff" stroke-dasharray="2 2"/><ellipse cx="1253.5" cy="1483.5" rx="6.5" ry="3" transform="rotate(-12 1253.5 1483.5)" stroke="#222" stroke-width="1" fill="#fff" stroke-dasharray="2 2"/><ellipse cx="1253.5" cy="1489" rx="5.6" ry="3" transform="rotate(-12 1253.5 1489)" stroke="#222" stroke-width="1" fill="#fff" stroke-dasharray="2 2"/><ellipse cx="1253.5" cy="1494.5" rx="4.6" ry="3" transform="rotate(-12 1253.5 1494.5)" stroke="#222" stroke-width="1" fill="#fff" stroke-dasharray="2 2"/><ellipse cx="1253.5" cy="1500" rx="3.7" ry="3" transform="rotate(-12 1253.5 1500)" stroke="#222" stroke-width="1" fill="#fff" stroke-dasharray="2 2"/><polygon points="1251,1504 1256,1503 1253.5,1510" stroke="#222" stroke-width="1" fill="#fff" stroke-dasharray="2 2"/>
<path d="M1354.9 1331 L1354.9 1372.5 L1366.6 1372.5 L1366.6 1329.5" stroke="#222" stroke-width="1" fill="#fff" stroke-dasharray="2 2"/><polygon points="1366.1,1307.9 1372.7,1311.2 1372.7,1323.5 1366.1,1320.5" stroke="#222" stroke-width="1" fill="#fff" stroke-dasharray="2 2"/><polygon points="1356.3,1325.3 1363.8,1319.2 1371.3,1323.4 1362.8,1329" stroke="#222" stroke-width="1" fill="#fff" stroke-dasharray="2 2"/><path d="M1356.3 1325.5 L1356.3 1329.5 Q1362.7 1334.5 1371.3 1327.5 L1371.3 1323.5" stroke="#222" stroke-width="1" fill="#fff" stroke-dasharray="2 2"/><polygon points="1348.8,1315.9 1356.3,1319.2 1356.3,1331.3 1348.8,1328" stroke="#222" stroke-width="1" fill="#fff" stroke-dasharray="2 2"/><ellipse cx="1360.7" cy="1372.5" rx="8.2" ry="3" transform="rotate(-12 1360.7 1372.5)" stroke="#222" stroke-width="1" fill="#fff" stroke-dasharray="2 2"/><ellipse cx="1360.7" cy="1378" rx="8.2" ry="3" transform="rotate(-12 1360.7 1378)" stroke="#222" stroke-width="1" fill="#fff" stroke-dasharray="2 2"/><ellipse cx="1360.7" cy="1383.5" rx="8.2" ry="3" transform="rotate(-12 1360.7 1383.5)" stroke="#222" stroke-width="1" fill="#fff" stroke-dasharray="2 2"/><ellipse cx="1360.7" cy="1389" rx="8.2" ry="3" transform="rotate(-12 1360.7 1389)" stroke="#222" stroke-width="1" fill="#fff" stroke-dasharray="2 2"/><ellipse cx="1360.7" cy="1394.5" rx="8.2" ry="3" transform="rotate(-12 1360.7 1394.5)" stroke="#222" stroke-width="1" fill="#fff" stroke-dasharray="2 2"/><ellipse cx="1360.7" cy="1400" rx="8.2" ry="3" transform="rotate(-12 1360.7 1400)" stroke="#222" stroke-width="1" fill="#fff" stroke-dasharray="2 2"/><ellipse cx="1360.7" cy="1405.5" rx="8.2" ry="3" transform="rotate(-12 1360.7 1405.5)" stroke="#222" stroke-width="1" fill="#fff" stroke-dasharray="2 2"/><ellipse cx="1360.7" cy="1411" rx="8.2" ry="3" transform="rotate(-12 1360.7 1411)" stroke="#222" stroke-width="1" fill="#fff" stroke-dasharray="2 2"/><ellipse cx="1360.7" cy="1416.5" rx="7.4" ry="3" transform="rotate(-12 1360.7 1416.5)" stroke="#222" stroke-width="1" fill="#fff" stroke-dasharray="2 2"/><ellipse cx="1360.7" cy="1422" rx="6.5" ry="3" transform="rotate(-12 1360.7 1422)" stroke="#222" stroke-width="1" fill="#fff" stroke-dasharray="2 2"/><ellipse cx="1360.7" cy="1427.5" rx="5.6" ry="3" transform="rotate(-12 1360.7 1427.5)" stroke="#222" stroke-width="1" fill="#fff" stroke-dasharray="2 2"/><ellipse cx="1360.7" cy="1433" rx="4.6" ry="3" transform="rotate(-12 1360.7 1433)" stroke="#222" stroke-width="1" fill="#fff" stroke-dasharray="2 2"/><ellipse cx="1360.7" cy="1438.5" rx="3.7" ry="3" transform="rotate(-12 1360.7 1438.5)" stroke="#222" stroke-width="1" fill="#fff" stroke-dasharray="2 2"/><polygon points="1358.2,1442.5 1363.2,1441.5 1360.7,1448.5" stroke="#222" stroke-width="1" fill="#fff" stroke-dasharray="2 2"/>
<polygon points="540.4,1098.4 784.6,740.3 953.8,642.6 709.6,1000.8" fill="#fff" stroke="#111" stroke-width="1" />
<path d="M540.4 1098.4L709.6 1000.8M543.5 1093.8L712.7 996.2M546.6 1089.3L715.8 991.6M549.8 1084.7L718.9 987.1M552.9 1080.2L722 982.5M556 1075.6L725.1 977.9M559.1 1071L728.2 973.4M562.2 1066.5L731.3 968.8M565.3 1061.9L734.4 964.3M568.4 1057.4L737.5 959.7M571.5 1052.8L740.7 955.1M574.6 1048.2L743.8 950.6M577.7 1043.7L746.9 946M580.8 1039.1L750 941.5M584 1034.6L753.1 936.9M587.1 1030L756.2 932.3M590.2 1025.4L759.3 927.8M593.3 1020.9L762.4 923.2M596.4 1016.3L765.5 918.7M599.5 1011.8L768.6 914.1M602.6 1007.2L771.8 909.5M605.7 1002.6L774.9 905M608.8 998.1L778 900.4M611.9 993.5L781.1 895.9M615.1 989L784.2 891.3M618.2 984.4L787.3 886.7M621.3 979.8L790.4 882.2M624.4 975.3L793.5 877.6M627.5 970.7L796.6 873.1M630.6 966.1L799.7 868.5M633.7 961.6L802.8 863.9M636.8 957L806 859.4M639.9 952.5L809.1 854.8M643 947.9L812.2 850.3M646.2 943.3L815.3 845.7M649.3 938.8L818.4 841.1M652.4 934.2L821.5 836.6M655.5 929.7L824.6 832M658.6 925.1L827.7 827.5M661.7 920.5L830.8 822.9M664.8 916L833.9 818.3M667.9 911.4L837.1 813.8M671 906.9L840.2 809.2M674.1 902.3L843.3 804.7M677.3 897.7L846.4 800.1M680.4 893.2L849.5 795.5M683.5 888.6L852.6 791M686.6 884.1L855.7 786.4M689.7 879.5L858.8 781.9M692.8 874.9L861.9 777.3M695.9 870.4L865 772.7M699 865.8L868.2 768.2M702.1 861.3L871.3 763.6M705.2 856.7L874.4 759.1M708.3 852.1L877.5 754.5M711.5 847.6L880.6 749.9M714.6 843L883.7 745.4M717.7 838.5L886.8 740.8M720.8 833.9L889.9 736.2M723.9 829.3L893 731.7M727 824.8L896.1 727.1M730.1 820.2L899.3 722.6M733.2 815.7L902.4 718M736.3 811.1L905.5 713.4M739.4 806.5L908.6 708.9M742.6 802L911.7 704.3M745.7 797.4L914.8 699.8M748.8 792.9L917.9 695.2M751.9 788.3L921 690.6M755 783.7L924.1 686.1M758.1 779.2L927.2 681.5M761.2 774.6L930.3 677M764.3 770.1L933.5 672.4M767.4 765.5L936.6 667.8M770.5 760.9L939.7 663.3M773.7 756.4L942.8 658.7M776.8 751.8L945.9 654.2M779.9 747.3L949 649.6M783 742.7L952.1 645" stroke="#111" stroke-width="0.75" fill="none"/>
<polygon points="838,942.7 842.3,940.2 1256.3,1179.2 1251.9,1181.7" fill="#fff" stroke="#111" stroke-width="1" />
<polygon points="838,942.7 1251.9,1181.7 1251.9,1200.7 838,961.7" fill="#fff" stroke="#111" stroke-width="1" />
<polygon points="1251.9,1181.7 1256.3,1179.2 1256.3,1198.2 1251.9,1200.7" fill="#fff" stroke="#111" stroke-width="1" />
<polygon points="830.2,947.2 834.5,944.7 1248.5,1183.7 1244.2,1186.2" fill="#fff" stroke="#111" stroke-width="1" />
<polygon points="830.2,947.2 1244.2,1186.2 1244.2,1205.2 830.2,966.2" fill="#fff" stroke="#111" stroke-width="1" />
<polygon points="1244.2,1186.2 1248.5,1183.7 1248.5,1202.7 1244.2,1205.2" fill="#fff" stroke="#111" stroke-width="1" />
<polygon points="926.3,1021.7 926.3,767 939.7,780.3 939.7,1014" fill="#fff" stroke="#111" stroke-width="1" />
<line x1="931" y1="1019" x2="931" y2="771.6" stroke="#111" stroke-width="0.8" />
<line x1="936.4" y1="1015.9" x2="936.4" y2="776.9" stroke="#111" stroke-width="0.8" />
<polygon points="911.6,1013.2 926.3,1021.7 926.3,767 911.6,788.6" fill="#fff" stroke="#111" stroke-width="1" />
<polygon points="816.8,958.7 1058.2,604.6 1071.2,597.1 829.8,951.2" fill="#fff" stroke="#111" stroke-width="1" />
<polygon points="1058.2,604.6 1046.7,590.5 1059.7,583 1071.2,597.1" fill="#fff" stroke="#111" stroke-width="1" />
<polygon points="816.8,958.7 1058.2,604.6 1046.7,590.5 805.3,944.5" fill="#fff" stroke="#111" stroke-width="1" />
<line x1="821.1" y1="956.2" x2="1062.5" y2="602.1" stroke="#111" stroke-width="0.8" />
<line x1="1062.5" y1="602.1" x2="1051" y2="588" stroke="#111" stroke-width="0.8" />
<line x1="825.4" y1="953.7" x2="1066.9" y2="599.6" stroke="#111" stroke-width="0.8" />
<line x1="1066.9" y1="599.6" x2="1055.4" y2="585.5" stroke="#111" stroke-width="0.8" />
<polygon points="1138.5,950.5 1151.1,957.7 1151.1,1132.5 1138.5,1125.2" fill="#fff" stroke="#111" stroke-width="1" />
<polygon points="1151.1,957.7 1155.4,955.2 1155.4,1130 1151.1,1132.5" fill="#fff" stroke="#111" stroke-width="1" />
<polygon points="1037.2,635.5 1161.5,972.8 1174.4,965.3 1050.2,628" fill="#fff" stroke="#111" stroke-width="1" />
<polygon points="1029.5,646.6 1037.2,635.5 1161.5,972.8 1146.5,964.1" fill="#fff" stroke="#111" stroke-width="1" />
<line x1="1041.5" y1="633" x2="1165.8" y2="970.3" stroke="#111" stroke-width="0.8" />
<line x1="1045.8" y1="630.5" x2="1170.1" y2="967.8" stroke="#111" stroke-width="0.8" />
<polygon points="709.1,1020.8 950.6,666.8 963.5,659.3 722.1,1013.3" fill="#fff" stroke="#111" stroke-width="1" />
<polygon points="950.6,666.8 939.1,652.6 952,645.1 963.5,659.3" fill="#fff" stroke="#111" stroke-width="1" />
<polygon points="709.1,1020.8 950.6,666.8 939.1,652.6 697.6,1006.7" fill="#fff" stroke="#111" stroke-width="1" />
<line x1="713.5" y1="1018.3" x2="954.9" y2="664.3" stroke="#111" stroke-width="0.8" />
<line x1="954.9" y1="664.3" x2="943.4" y2="650.1" stroke="#111" stroke-width="0.8" />
<line x1="717.8" y1="1015.8" x2="959.2" y2="661.8" stroke="#111" stroke-width="0.8" />
<line x1="959.2" y1="661.8" x2="947.7" y2="647.6" stroke="#111" stroke-width="0.8" />
<polygon points="818.7,1083.8 818.7,829.2 832.1,842.4 832.1,1076.1" fill="#fff" stroke="#111" stroke-width="1" />
<line x1="823.4" y1="1081.2" x2="823.4" y2="833.8" stroke="#111" stroke-width="0.8" />
<line x1="828.7" y1="1078" x2="828.7" y2="839.1" stroke="#111" stroke-width="0.8" />
<polygon points="804,1075.3 818.7,1083.8 818.7,829.2 804,850.8" fill="#fff" stroke="#111" stroke-width="1" />
<polygon points="929.5,697.7 1053.8,1034.9 1066.8,1027.4 942.5,690.2" fill="#fff" stroke="#111" stroke-width="1" />
<polygon points="921.8,708.7 929.5,697.7 1053.8,1034.9 1038.8,1026.3" fill="#fff" stroke="#111" stroke-width="1" />
<line x1="933.9" y1="695.2" x2="1058.1" y2="1032.4" stroke="#111" stroke-width="0.8" />
<line x1="938.2" y1="692.7" x2="1062.5" y2="1029.9" stroke="#111" stroke-width="0.8" />
<polygon points="704.5,1124.8 798.4,1070.5 868.3,1110.9 774.4,1165.1" fill="#fff" stroke="#111" stroke-width="1" />
<polygon points="704.5,1124.8 774.4,1165.1 774.4,1210.6 704.5,1170.2" fill="#fff" stroke="#111" stroke-width="1" />
<polygon points="774.4,1165.1 868.3,1110.9 868.3,1156.4 774.4,1210.6" fill="#fff" stroke="#111" stroke-width="1" />
<line x1="704.5" y1="1133.8" x2="774.4" y2="1174.2" stroke="#111" stroke-width="1.8" />
<line x1="774.4" y1="1174.2" x2="868.3" y2="1120" stroke="#111" stroke-width="1.8" />
<line x1="704.5" y1="1143" x2="774.4" y2="1183.3" stroke="#111" stroke-width="1.8" />
<line x1="774.4" y1="1183.3" x2="868.3" y2="1129.1" stroke="#111" stroke-width="1.8" />
<line x1="704.5" y1="1152" x2="774.4" y2="1192.4" stroke="#111" stroke-width="1.8" />
<line x1="774.4" y1="1192.4" x2="868.3" y2="1138.2" stroke="#111" stroke-width="1.8" />
<line x1="704.5" y1="1161.2" x2="774.4" y2="1201.5" stroke="#111" stroke-width="1.8" />
<line x1="774.4" y1="1201.5" x2="868.3" y2="1147.3" stroke="#111" stroke-width="1.8" />
<line x1="716.1" y1="1131.5" x2="810" y2="1077.3" stroke="#111" stroke-width="1" />
<line x1="716.1" y1="1131.5" x2="716.1" y2="1177" stroke="#111" stroke-width="1" />
<line x1="727.8" y1="1138.2" x2="821.7" y2="1084" stroke="#111" stroke-width="1" />
<line x1="727.8" y1="1138.2" x2="727.8" y2="1183.7" stroke="#111" stroke-width="1" />
<line x1="739.4" y1="1144.9" x2="833.3" y2="1090.7" stroke="#111" stroke-width="1" />
<line x1="739.4" y1="1144.9" x2="739.4" y2="1190.4" stroke="#111" stroke-width="1" />
<line x1="751.1" y1="1151.7" x2="845" y2="1097.5" stroke="#111" stroke-width="1" />
<line x1="751.1" y1="1151.7" x2="751.1" y2="1197.2" stroke="#111" stroke-width="1" />
<line x1="762.7" y1="1158.4" x2="856.6" y2="1104.2" stroke="#111" stroke-width="1" />
<line x1="762.7" y1="1158.4" x2="762.7" y2="1203.9" stroke="#111" stroke-width="1" />
<line x1="728" y1="1111.2" x2="797.9" y2="1151.5" stroke="#111" stroke-width="1" />
<line x1="797.9" y1="1151.5" x2="797.9" y2="1197" stroke="#111" stroke-width="1" />
<line x1="751.4" y1="1097.7" x2="821.3" y2="1138" stroke="#111" stroke-width="1" />
<line x1="821.3" y1="1138" x2="821.3" y2="1183.5" stroke="#111" stroke-width="1" />
<line x1="774.9" y1="1084.1" x2="844.8" y2="1124.5" stroke="#111" stroke-width="1" />
<line x1="844.8" y1="1124.5" x2="844.8" y2="1170" stroke="#111" stroke-width="1" />
<line x1="704.5" y1="1171.8" x2="774.4" y2="1212.1" stroke="#111" stroke-width="1" />
<line x1="774.4" y1="1212.1" x2="868.3" y2="1157.9" stroke="#111" stroke-width="1" />
<polygon points="725.1,1007.9 729.5,1005.4 1143.4,1244.3 1139.1,1246.8" fill="#fff" stroke="#111" stroke-width="1" />
<polygon points="725.1,1007.9 1139.1,1246.8 1139.1,1265.8 725.1,1026.8" fill="#fff" stroke="#111" stroke-width="1" />
<polygon points="1139.1,1246.8 1143.4,1244.3 1143.4,1263.3 1139.1,1265.8" fill="#fff" stroke="#111" stroke-width="1" />
<polygon points="717.4,1012.4 721.7,1009.9 1135.6,1248.8 1131.3,1251.3" fill="#fff" stroke="#111" stroke-width="1" />
<polygon points="717.4,1012.4 1131.3,1251.3 1131.3,1270.3 717.4,1031.3" fill="#fff" stroke="#111" stroke-width="1" />
<polygon points="1131.3,1251.3 1135.6,1248.8 1135.6,1267.8 1131.3,1270.3" fill="#fff" stroke="#111" stroke-width="1" />
<polygon points="622.7,1067 627,1064.5 1041,1303.5 1036.7,1306" fill="#fff" stroke="#111" stroke-width="1" />
<polygon points="622.7,1067 1036.7,1306 1036.7,1325 622.7,1086" fill="#fff" stroke="#111" stroke-width="1" />
<polygon points="1036.7,1306 1041,1303.5 1041,1322.5 1036.7,1325" fill="#fff" stroke="#111" stroke-width="1" />
<polygon points="614.9,1071.5 619.2,1069 1033.2,1308 1028.9,1310.5" fill="#fff" stroke="#111" stroke-width="1" />
<polygon points="614.9,1071.5 1028.9,1310.5 1028.9,1329.5 614.9,1090.5" fill="#fff" stroke="#111" stroke-width="1" />
<polygon points="1028.9,1310.5 1033.2,1308 1033.2,1327 1028.9,1329.5" fill="#fff" stroke="#111" stroke-width="1" />
<polygon points="614.9,1070.8 730.1,1004.3 1144,1243.3 1028.9,1309.8" fill="#fff" stroke="#111" stroke-width="1" />
<polygon points="614.9,1070.8 1028.9,1309.8 1028.9,1314.2 614.9,1075.2" fill="#fff" stroke="#111" stroke-width="1" />
<polygon points="1028.9,1309.8 1144,1243.3 1144,1247.7 1028.9,1314.2" fill="#fff" stroke="#111" stroke-width="1" />
<line x1="1012.6" y1="1300.4" x2="1127.8" y2="1233.9" stroke="#111" stroke-width="1.5" />
<line x1="1012.6" y1="1300.4" x2="1012.6" y2="1304.8" stroke="#111" stroke-width="1" />
<line x1="996.3" y1="1291" x2="1111.5" y2="1224.5" stroke="#111" stroke-width="1.5" />
<line x1="996.3" y1="1291" x2="996.3" y2="1295.4" stroke="#111" stroke-width="1" />
<line x1="980" y1="1281.6" x2="1095.2" y2="1215.1" stroke="#111" stroke-width="1.5" />
<line x1="980" y1="1281.6" x2="980" y2="1286" stroke="#111" stroke-width="1" />
<line x1="963.7" y1="1272.2" x2="1078.9" y2="1205.7" stroke="#111" stroke-width="1.5" />
<line x1="963.7" y1="1272.2" x2="963.7" y2="1276.6" stroke="#111" stroke-width="1" />
<line x1="947.5" y1="1262.8" x2="1062.6" y2="1196.3" stroke="#111" stroke-width="1.5" />
<line x1="947.5" y1="1262.8" x2="947.5" y2="1267.2" stroke="#111" stroke-width="1" />
<line x1="931.2" y1="1253.4" x2="1046.4" y2="1186.9" stroke="#111" stroke-width="1.5" />
<line x1="931.2" y1="1253.4" x2="931.2" y2="1257.8" stroke="#111" stroke-width="1" />
<line x1="914.9" y1="1244" x2="1030.1" y2="1177.5" stroke="#111" stroke-width="1.5" />
<line x1="914.9" y1="1244" x2="914.9" y2="1248.4" stroke="#111" stroke-width="1" />
<line x1="898.6" y1="1234.6" x2="1013.8" y2="1168.1" stroke="#111" stroke-width="1.5" />
<line x1="898.6" y1="1234.6" x2="898.6" y2="1239" stroke="#111" stroke-width="1" />
<line x1="882.3" y1="1225.2" x2="997.5" y2="1158.7" stroke="#111" stroke-width="1.5" />
<line x1="882.3" y1="1225.2" x2="882.3" y2="1229.6" stroke="#111" stroke-width="1" />
<line x1="866" y1="1215.8" x2="981.2" y2="1149.3" stroke="#111" stroke-width="1.5" />
<line x1="866" y1="1215.8" x2="866" y2="1220.2" stroke="#111" stroke-width="1" />
<line x1="849.8" y1="1206.4" x2="964.9" y2="1139.9" stroke="#111" stroke-width="1.5" />
<line x1="849.8" y1="1206.4" x2="849.8" y2="1210.8" stroke="#111" stroke-width="1" />
<line x1="833.5" y1="1197" x2="948.7" y2="1130.5" stroke="#111" stroke-width="1.5" />
<line x1="833.5" y1="1197" x2="833.5" y2="1201.4" stroke="#111" stroke-width="1" />
<line x1="817.2" y1="1187.6" x2="932.4" y2="1121.1" stroke="#111" stroke-width="1.5" />
<line x1="817.2" y1="1187.6" x2="817.2" y2="1192" stroke="#111" stroke-width="1" />
<line x1="800.9" y1="1178.2" x2="916.1" y2="1111.7" stroke="#111" stroke-width="1.5" />
<line x1="800.9" y1="1178.2" x2="800.9" y2="1182.6" stroke="#111" stroke-width="1" />
<line x1="784.6" y1="1168.8" x2="899.8" y2="1102.3" stroke="#111" stroke-width="1.5" />
<line x1="784.6" y1="1168.8" x2="784.6" y2="1173.2" stroke="#111" stroke-width="1" />
<line x1="768.4" y1="1159.4" x2="883.5" y2="1092.9" stroke="#111" stroke-width="1.5" />
<line x1="768.4" y1="1159.4" x2="768.4" y2="1163.8" stroke="#111" stroke-width="1" />
<line x1="752.1" y1="1150" x2="867.3" y2="1083.5" stroke="#111" stroke-width="1.5" />
<line x1="752.1" y1="1150" x2="752.1" y2="1154.4" stroke="#111" stroke-width="1" />
<line x1="735.8" y1="1140.6" x2="851" y2="1074.1" stroke="#111" stroke-width="1.5" />
<line x1="735.8" y1="1140.6" x2="735.8" y2="1145" stroke="#111" stroke-width="1" />
<line x1="719.5" y1="1131.2" x2="834.7" y2="1064.7" stroke="#111" stroke-width="1.5" />
<line x1="719.5" y1="1131.2" x2="719.5" y2="1135.6" stroke="#111" stroke-width="1" />
<line x1="703.2" y1="1121.8" x2="818.4" y2="1055.3" stroke="#111" stroke-width="1.5" />
<line x1="703.2" y1="1121.8" x2="703.2" y2="1126.2" stroke="#111" stroke-width="1" />
<line x1="687" y1="1112.4" x2="802.1" y2="1045.9" stroke="#111" stroke-width="1.5" />
<line x1="687" y1="1112.4" x2="687" y2="1116.8" stroke="#111" stroke-width="1" />
<line x1="670.7" y1="1103" x2="785.9" y2="1036.5" stroke="#111" stroke-width="1.5" />
<line x1="670.7" y1="1103" x2="670.7" y2="1107.4" stroke="#111" stroke-width="1" />
<line x1="654.4" y1="1093.6" x2="769.6" y2="1027.1" stroke="#111" stroke-width="1.5" />
<line x1="654.4" y1="1093.6" x2="654.4" y2="1098" stroke="#111" stroke-width="1" />
<line x1="638.1" y1="1084.2" x2="753.3" y2="1017.7" stroke="#111" stroke-width="1.5" />
<line x1="638.1" y1="1084.2" x2="638.1" y2="1088.6" stroke="#111" stroke-width="1" />
<line x1="621.8" y1="1074.8" x2="737" y2="1008.3" stroke="#111" stroke-width="1.5" />
<line x1="621.8" y1="1074.8" x2="621.8" y2="1079.2" stroke="#111" stroke-width="1" />
<polygon points="1030.9,1012.6 1043.4,1019.9 1043.4,1193.9 1030.9,1186.6" fill="#fff" stroke="#111" stroke-width="1" />
<polygon points="1043.4,1019.9 1047.7,1017.4 1047.7,1191.4 1043.4,1193.9" fill="#fff" stroke="#111" stroke-width="1" />
<polygon points="708.4,973.9 802.1,919.8 817.5,928.7 723.8,982.8" fill="#fff" stroke="#111" stroke-width="1" />
<polygon points="708.4,973.9 723.8,982.8 723.8,1117.2 708.4,1108.3" fill="#fff" stroke="#111" stroke-width="1" />
<polygon points="723.8,982.8 817.5,928.7 817.5,1063.1 723.8,1117.2" fill="#fff" stroke="#111" stroke-width="1" />
<line x1="723.8" y1="1066.8" x2="817.5" y2="1012.7" stroke="#111" stroke-width="2.0" />
<line x1="723.8" y1="1050" x2="817.5" y2="995.9" stroke="#111" stroke-width="2.0" />
<line x1="723.8" y1="1033.2" x2="817.5" y2="979.1" stroke="#111" stroke-width="2.0" />
<line x1="723.8" y1="1016.4" x2="817.5" y2="962.3" stroke="#111" stroke-width="2.0" />
<line x1="723.8" y1="999.6" x2="817.5" y2="945.5" stroke="#111" stroke-width="2.0" />
<line x1="755" y1="1048.7" x2="755" y2="964.7" stroke="#111" stroke-width="2.0" />
<line x1="739.7" y1="955.9" x2="755" y2="964.7" stroke="#111" stroke-width="2.0" />
<line x1="786.3" y1="1030.7" x2="786.3" y2="946.7" stroke="#111" stroke-width="2.0" />
<line x1="770.9" y1="937.8" x2="786.3" y2="946.7" stroke="#111" stroke-width="2.0" />
<line x1="708.4" y1="1091.5" x2="723.8" y2="1100.4" stroke="#111" stroke-width="2.0" />
<line x1="708.4" y1="1074.7" x2="723.8" y2="1083.6" stroke="#111" stroke-width="2.0" />
<line x1="708.4" y1="1057.9" x2="723.8" y2="1066.8" stroke="#111" stroke-width="2.0" />
<line x1="708.4" y1="1041.1" x2="723.8" y2="1050" stroke="#111" stroke-width="2.0" />
<line x1="708.4" y1="1024.3" x2="723.8" y2="1033.2" stroke="#111" stroke-width="2.0" />
<line x1="708.4" y1="1007.5" x2="723.8" y2="1016.4" stroke="#111" stroke-width="2.0" />
<line x1="708.4" y1="990.7" x2="723.8" y2="999.6" stroke="#111" stroke-width="2.0" />
<polygon points="723.8,1066.8 817.5,1012.7 863.6,1039.3 769.9,1093.4" fill="#fff" stroke="#111" stroke-width="1" />
<polygon points="723.8,1066.8 769.9,1093.4 769.9,1143.8 723.8,1117.2" fill="#fff" stroke="#111" stroke-width="1" />
<polygon points="769.9,1093.4 863.6,1039.3 863.6,1089.7 769.9,1143.8" fill="#fff" stroke="#111" stroke-width="1" />
<line x1="723.8" y1="1100.4" x2="769.9" y2="1127" stroke="#111" stroke-width="2.0" />
<line x1="723.8" y1="1083.6" x2="769.9" y2="1110.2" stroke="#111" stroke-width="2.0" />
<line x1="723.8" y1="1083.6" x2="723.8" y2="1066.8" stroke="#111" stroke-width="2.0" />
<line x1="754.5" y1="1101.3" x2="754.5" y2="1084.5" stroke="#111" stroke-width="2.0" />
<line x1="739.2" y1="1109.2" x2="739.2" y2="1092.4" stroke="#111" stroke-width="2.0" />
<line x1="723.8" y1="1117.2" x2="723.8" y2="1100.4" stroke="#111" stroke-width="2.0" />
<line x1="754.5" y1="1134.9" x2="754.5" y2="1118.1" stroke="#111" stroke-width="2.0" />
<line x1="769.9" y1="1127" x2="863.6" y2="1072.9" stroke="#111" stroke-width="2.0" />
<line x1="769.9" y1="1110.2" x2="863.6" y2="1056.1" stroke="#111" stroke-width="2.0" />
<line x1="801.2" y1="1092.2" x2="801.2" y2="1075.4" stroke="#111" stroke-width="2.0" />
<line x1="832.4" y1="1074.1" x2="832.4" y2="1057.3" stroke="#111" stroke-width="2.0" />
<line x1="801.2" y1="1125.8" x2="801.2" y2="1109" stroke="#111" stroke-width="2.0" />
<line x1="832.4" y1="1107.7" x2="832.4" y2="1090.9" stroke="#111" stroke-width="2.0" />
<line x1="777.7" y1="1122.5" x2="777.7" y2="1105.7" stroke="#111" stroke-width="2.0" />
<line x1="793.3" y1="1113.5" x2="793.3" y2="1096.7" stroke="#111" stroke-width="2.0" />
<line x1="809" y1="1104.5" x2="809" y2="1087.7" stroke="#111" stroke-width="2.0" />
<line x1="824.6" y1="1095.4" x2="824.6" y2="1078.6" stroke="#111" stroke-width="2.0" />
<line x1="840.2" y1="1086.4" x2="840.2" y2="1069.6" stroke="#111" stroke-width="2.0" />
<line x1="855.8" y1="1077.4" x2="855.8" y2="1060.6" stroke="#111" stroke-width="2.0" />
<polygon points="720.1,1065.7 817.5,1009.5 832.9,1018.3 735.5,1074.6" fill="#fff" stroke="#111" stroke-width="1" />
<polygon points="720.1,1065.7 735.5,1074.6 735.5,1077.8 720.1,1068.9" fill="#fff" stroke="#111" stroke-width="1" />
<polygon points="735.5,1074.6 832.9,1018.3 832.9,1021.5 735.5,1077.8" fill="#fff" stroke="#111" stroke-width="1" />
<polygon points="735.5,1074.6 832.9,1018.3 848.3,1027.2 750.8,1083.5" fill="#fff" stroke="#111" stroke-width="1" />
<polygon points="735.5,1074.6 750.8,1083.5 750.8,1086.7 735.5,1077.8" fill="#fff" stroke="#111" stroke-width="1" />
<polygon points="750.8,1083.5 848.3,1027.2 848.3,1030.4 750.8,1086.7" fill="#fff" stroke="#111" stroke-width="1" />
<polygon points="750.8,1083.5 848.3,1027.2 863.6,1036.1 766.2,1092.3" fill="#fff" stroke="#111" stroke-width="1" />
<polygon points="750.8,1083.5 766.2,1092.3 766.2,1095.5 750.8,1086.7" fill="#fff" stroke="#111" stroke-width="1" />
<polygon points="766.2,1092.3 863.6,1036.1 863.6,1039.3 766.2,1095.5" fill="#fff" stroke="#111" stroke-width="1" />
<line x1="735.5" y1="1074.6" x2="832.9" y2="1018.3" stroke="#111" stroke-width="1.8" />
<line x1="750.8" y1="1083.5" x2="848.3" y2="1027.2" stroke="#111" stroke-width="1.8" />
<polygon points="708.4,968.9 802.1,914.8 817.5,923.7 723.8,977.8" fill="#fff" stroke="#111" stroke-width="1" />
<polygon points="708.4,968.9 723.8,977.8 723.8,982.8 708.4,973.9" fill="#fff" stroke="#111" stroke-width="1" />
<polygon points="723.8,977.8 817.5,923.7 817.5,928.7 723.8,982.8" fill="#fff" stroke="#111" stroke-width="1" />
<polygon points="923.2,1074.8 935.8,1082 935.8,1256 923.2,1248.8" fill="#fff" stroke="#111" stroke-width="1" />
<polygon points="935.8,1082 940.1,1079.5 940.1,1253.5 935.8,1256" fill="#fff" stroke="#111" stroke-width="1" />
<polygon points="601.5,1083 842.9,728.9 855.9,721.4 614.5,1075.5" fill="#fff" stroke="#111" stroke-width="1" />
<polygon points="842.9,728.9 831.4,714.8 844.4,707.3 855.9,721.4" fill="#fff" stroke="#111" stroke-width="1" />
<polygon points="601.5,1083 842.9,728.9 831.4,714.8 590,1068.8" fill="#fff" stroke="#111" stroke-width="1" />
<line x1="605.8" y1="1080.5" x2="847.2" y2="726.4" stroke="#111" stroke-width="0.8" />
<line x1="847.2" y1="726.4" x2="835.7" y2="712.3" stroke="#111" stroke-width="0.8" />
<line x1="610.1" y1="1078" x2="851.6" y2="723.9" stroke="#111" stroke-width="0.8" />
<line x1="851.6" y1="723.9" x2="840.1" y2="709.8" stroke="#111" stroke-width="0.8" />
<polygon points="711,1146 711,891.3 724.5,904.6 724.5,1138.2" fill="#fff" stroke="#111" stroke-width="1" />
<line x1="715.7" y1="1143.3" x2="715.7" y2="895.9" stroke="#111" stroke-width="0.8" />
<line x1="721.1" y1="1140.2" x2="721.1" y2="901.2" stroke="#111" stroke-width="0.8" />
<polygon points="696.3,1137.5 711,1146 711,891.3 696.3,912.9" fill="#fff" stroke="#111" stroke-width="1" />
<polygon points="819.8,742.7 937.8,674.6 1059.7,1005.3 941.7,1073.5" fill="#fff" stroke="#111" stroke-width="0" />
<defs><clipPath id="rsc"><polygon points="819.8,742.7 937.8,674.6 1059.7,1005.3 941.7,1073.5"/></clipPath></defs>
<g clip-path="url(#rsc)">
<polygon points="926.3,1021.7 926.3,767 939.7,780.3 939.7,1014" fill="#fff" stroke="#111" stroke-width="1" />
<line x1="931" y1="1019" x2="931" y2="771.6" stroke="#111" stroke-width="0.8" />
<line x1="936.4" y1="1015.9" x2="936.4" y2="776.9" stroke="#111" stroke-width="0.8" />
<polygon points="911.6,1013.2 926.3,1021.7 926.3,767 911.6,788.6" fill="#fff" stroke="#111" stroke-width="1" />
<polygon points="709.1,1020.8 950.6,666.8 963.5,659.3 722.1,1013.3" fill="#fff" stroke="#111" stroke-width="1" />
<polygon points="950.6,666.8 939.1,652.6 952,645.1 963.5,659.3" fill="#fff" stroke="#111" stroke-width="1" />
<polygon points="709.1,1020.8 950.6,666.8 939.1,652.6 697.6,1006.7" fill="#fff" stroke="#111" stroke-width="1" />
<line x1="713.5" y1="1018.3" x2="954.9" y2="664.3" stroke="#111" stroke-width="0.8" />
<line x1="954.9" y1="664.3" x2="943.4" y2="650.1" stroke="#111" stroke-width="0.8" />
<line x1="717.8" y1="1015.8" x2="959.2" y2="661.8" stroke="#111" stroke-width="0.8" />
<line x1="959.2" y1="661.8" x2="947.7" y2="647.6" stroke="#111" stroke-width="0.8" />
<polygon points="821.9,759.8 946.2,1097.1 959.2,1089.6 834.9,752.3" fill="#fff" stroke="#111" stroke-width="1" />
<polygon points="814.2,770.9 821.9,759.8 946.2,1097.1 931.2,1088.4" fill="#fff" stroke="#111" stroke-width="1" />
<line x1="826.2" y1="757.3" x2="950.5" y2="1094.6" stroke="#111" stroke-width="0.8" />
<line x1="830.5" y1="754.8" x2="954.8" y2="1092.1" stroke="#111" stroke-width="0.8" />
<polygon points="929.5,697.7 1053.8,1034.9 1066.8,1027.4 942.5,690.2" fill="#fff" stroke="#111" stroke-width="1" />
<polygon points="921.8,708.7 929.5,697.7 1053.8,1034.9 1038.8,1026.3" fill="#fff" stroke="#111" stroke-width="1" />
<line x1="933.9" y1="695.2" x2="1058.1" y2="1032.4" stroke="#111" stroke-width="0.8" />
<line x1="938.2" y1="692.7" x2="1062.5" y2="1029.9" stroke="#111" stroke-width="0.8" />
</g>
<polygon points="821.3,770 948.8,696.3 951.3,703 823.7,776.7" fill="#fff" stroke="#111" stroke-width="1" />
<polygon points="823.7,776.7 951.3,703 949.4,703.1 821.8,776.8" fill="#fff" stroke="#111" stroke-width="1" />
<polygon points="828.8,790.4 956.4,716.8 958.8,723.5 831.3,797.1" fill="#fff" stroke="#111" stroke-width="1" />
<polygon points="831.3,797.1 958.8,723.5 956.9,723.6 829.4,797.2" fill="#fff" stroke="#111" stroke-width="1" />
<polygon points="836.3,810.9 963.9,737.2 966.4,743.9 838.8,817.6" fill="#fff" stroke="#111" stroke-width="1" />
<polygon points="838.8,817.6 966.4,743.9 964.5,744 836.9,817.7" fill="#fff" stroke="#111" stroke-width="1" />
<polygon points="843.9,831.3 971.4,757.7 973.9,764.4 846.3,838" fill="#fff" stroke="#111" stroke-width="1" />
<polygon points="846.3,838 973.9,764.4 972,764.5 844.4,838.1" fill="#fff" stroke="#111" stroke-width="1" />
<polygon points="851.4,851.8 979,778.1 981.4,784.8 853.9,858.5" fill="#fff" stroke="#111" stroke-width="1" />
<polygon points="853.9,858.5 981.4,784.8 979.5,784.9 852,858.6" fill="#fff" stroke="#111" stroke-width="1" />
<polygon points="858.9,872.2 986.5,798.6 989,805.3 861.4,878.9" fill="#fff" stroke="#111" stroke-width="1" />
<polygon points="861.4,878.9 989,805.3 987.1,805.4 859.5,879" fill="#fff" stroke="#111" stroke-width="1" />
<polygon points="866.5,892.7 994,819 996.5,825.7 869,899.4" fill="#fff" stroke="#111" stroke-width="1" />
<polygon points="869,899.4 996.5,825.7 994.6,825.8 867,899.5" fill="#fff" stroke="#111" stroke-width="1" />
<polygon points="874,913.1 1001.6,839.5 1004.1,846.2 876.5,919.8" fill="#fff" stroke="#111" stroke-width="1" />
<polygon points="876.5,919.8 1004.1,846.2 1002.1,846.3 874.6,919.9" fill="#fff" stroke="#111" stroke-width="1" />
<polygon points="881.6,933.6 1009.1,859.9 1011.6,866.6 884,940.3" fill="#fff" stroke="#111" stroke-width="1" />
<polygon points="884,940.3 1011.6,866.6 1009.7,866.7 882.1,940.4" fill="#fff" stroke="#111" stroke-width="1" />
<polygon points="889.1,954 1016.7,880.4 1019.1,887.1 891.6,960.7" fill="#fff" stroke="#111" stroke-width="1" />
<polygon points="891.6,960.7 1019.1,887.1 1017.2,887.2 889.7,960.8" fill="#fff" stroke="#111" stroke-width="1" />
<polygon points="896.6,974.5 1024.2,900.8 1026.7,907.5 899.1,981.2" fill="#fff" stroke="#111" stroke-width="1" />
<polygon points="899.1,981.2 1026.7,907.5 1024.8,907.6 897.2,981.3" fill="#fff" stroke="#111" stroke-width="1" />
<polygon points="904.2,994.9 1031.7,921.3 1034.2,928 906.6,1001.6" fill="#fff" stroke="#111" stroke-width="1" />
<polygon points="906.6,1001.6 1034.2,928 1032.3,928.1 904.7,1001.7" fill="#fff" stroke="#111" stroke-width="1" />
<polygon points="911.7,1015.4 1039.3,941.7 1041.7,948.4 914.2,1022.1" fill="#fff" stroke="#111" stroke-width="1" />
<polygon points="914.2,1022.1 1041.7,948.4 1039.8,948.5 912.3,1022.2" fill="#fff" stroke="#111" stroke-width="1" />
<polygon points="919.2,1035.8 1046.8,962.2 1049.3,968.9 921.7,1042.5" fill="#fff" stroke="#111" stroke-width="1" />
<polygon points="921.7,1042.5 1049.3,968.9 1047.4,969 919.8,1042.6" fill="#fff" stroke="#111" stroke-width="1" />
<polygon points="926.8,1056.3 1054.3,982.6 1056.8,989.3 929.2,1063" fill="#fff" stroke="#111" stroke-width="1" />
<polygon points="929.2,1063 1056.8,989.3 1054.9,989.4 927.3,1063.1" fill="#fff" stroke="#111" stroke-width="1" />
<polygon points="934.3,1076.7 1061.9,1003.1 1064.3,1009.8 936.8,1083.4" fill="#fff" stroke="#111" stroke-width="1" />
<polygon points="936.8,1083.4 1064.3,1009.8 1062.4,1009.9 934.9,1083.5" fill="#fff" stroke="#111" stroke-width="1" />
<polygon points="871.7,1109.6 1232.2,902 1240.3,921.1 879.8,1128.7" fill="#fff" stroke="#111" stroke-width="1" />
<polygon points="879.8,1128.7 1240.3,921.1 1255.8,920.4 895.3,1128" fill="#fff" stroke="#111" stroke-width="1" />
<line x1="872.9" y1="1111.2" x2="1233.4" y2="903.6" stroke="#111" stroke-width="0.8" />
<polygon points="774,782.3 836.6,746.2 870,808.9 854.4,817.9 885.2,876 873.1,883 907,938 898.3,943 931.8,999.6 921.8,1005.3 955.3,1060.5 944.8,1066.6 949.1,1075 893.7,1107" fill="#fff" stroke="#111" stroke-width="1" />
<path d="M778.1 793.4L842.1 756.5M779 779.5L783.1 790.5M791.1 772.5L795.2 783.5M801.5 766.5L805.6 777.5M811.9 760.5L816 771.5M824 753.5L828.1 764.5M782.2 804.5L847.5 766.7M781.7 791.3L785.8 802.4M793.8 784.3L797.9 795.4M804.2 778.3L808.3 789.4M818.1 770.3L822.1 781.4M830.2 763.3L834.3 774.4M838 758.8L842.1 769.9M786.3 815.5L853 777M787.1 801.6L791.2 812.7M794.9 797.1L799 808.2M801 793.6L805 804.7M813.1 786.6L817.2 797.7M826.9 778.6L831 789.7M840.8 770.6L844.9 781.7M790.3 826.6L858.4 787.3M792 812.2L796 823.3M802.3 806.2L806.4 817.3M812.7 800.2L816.8 811.3M826.6 792.2L830.7 803.3M840.4 784.2L844.5 795.3M794.4 837.6L863.9 797.5M796.3 823.1L800.4 834.2M808.4 816.1L812.5 827.2M814.5 812.6L818.6 823.7M826.6 805.6L830.7 816.7M832.7 802.1L836.8 813.2M838.7 798.6L842.8 809.7M844.8 795.1L848.9 806.2M852.6 790.6L856.7 801.7M798.5 848.7L869.3 807.8M800.1 834.3L804.2 845.4M810.5 828.3L814.6 839.4M819.2 823.3L823.3 834.4M829.6 817.3L833.6 828.4M841.7 810.3L845.8 821.4M849.5 805.8L853.6 816.9M861.6 798.8L865.7 809.9M802.6 859.8L859.2 827.1M804.4 845.3L808.5 856.4M814.8 839.3L818.9 850.4M820.9 835.8L824.9 846.9M834.7 827.8L838.8 838.9M840.8 824.3L844.9 835.4M851.2 818.3L855.3 829.4M806.6 870.8L864.7 837.3M806.6 857.4L810.7 868.5M818.7 850.4L822.8 861.5M824.8 846.9L828.9 858M838.7 838.9L842.7 850M847.3 833.9L851.4 845M856 828.9L860 840M810.7 881.9L870.1 847.6M811.9 867.8L816 878.9M818 864.3L822 875.4M824 860.8L828.1 871.9M836.2 853.8L840.2 864.9M842.2 850.3L846.3 861.4M852.6 844.3L856.7 855.4M858.7 840.8L862.7 851.9M814.8 893L875.6 857.9M815.3 879.2L819.4 890.3M821.4 875.7L825.5 886.8M835.2 867.7L839.3 878.8M841.3 864.2L845.4 875.3M849.1 859.7L853.2 870.8M856.9 855.2L861 866.3M863 851.7L867 862.8M818.9 904L881 868.1M819.3 890.3L823.4 901.4M833.2 882.3L837.3 893.4M843.6 876.3L847.7 887.4M854 870.3L858.1 881.4M860 866.8L864.1 877.9M872.2 859.8L876.3 870.9M823 915.1L874.5 885.3M822.5 901.9L826.6 913M836.4 893.9L840.4 905M845 888.9L849.1 900M853.7 883.9L857.8 895M859.7 880.4L863.8 891.5M868.4 875.4L872.5 886.5M827 926.2L880.6 895.2M825.6 913.5L829.7 924.6M836 907.5L840.1 918.6M842.1 904L846.2 915.1M849.9 899.5L854 910.6M857.7 895L861.7 906.1M871.5 887L875.6 898.1M831.1 937.2L886.7 905.1M829.7 924.6L833.8 935.7M840.1 918.6L844.2 929.7M850.5 912.6L854.5 923.7M858.3 908.1L862.3 919.2M872.1 900.1L876.2 911.2M835.2 948.3L892.8 915M834.7 935.1L838.8 946.2M846.8 928.1L850.9 939.2M854.6 923.6L858.7 934.7M868.5 915.6L872.5 926.7M876.3 911.1L880.3 922.2M839.3 959.3L898.9 924.9M841.1 944.8L845.2 955.9M847.2 941.3L851.3 952.4M857.6 935.3L861.7 946.4M868 929.3L872 940.4M875.8 924.8L879.8 935.9M881.8 921.3L885.9 932.4M890.5 916.3L894.6 927.4M843.3 970.4L905 934.8M843.4 956.9L847.5 968M849.5 953.4L853.6 964.5M857.3 948.9L861.4 960M865.1 944.4L869.2 955.5M875.5 938.4L879.6 949.5M887.6 931.4L891.7 942.5M847.4 981.5L902.3 949.7M848.9 967.2L853 978.2M855 963.7L859.1 974.7M862.8 959.2L866.9 970.2M870.6 954.7L874.7 965.7M881 948.7L885.1 959.7M889.6 943.7L893.7 954.7M895.7 940.2L899.8 951.2M851.5 992.5L908.3 959.7M851.7 979L855.8 990M860.4 974L864.5 985M870.8 968L874.8 979M876.8 964.5L880.9 975.5M882.9 961L887 972M889 957.5L893 968.5M896.8 953L900.8 964M855.6 1003.6L914.2 969.8M857.4 989.1L861.5 1000.2M863.5 985.6L867.5 996.7M875.6 978.6L879.7 989.7M884.2 973.6L888.3 984.7M892.9 968.6L897 979.7M905 961.6L909.1 972.7M859.6 1014.7L920.1 979.8M858.8 1001.7L862.9 1012.8M870.9 994.7L875 1005.8M881.3 988.7L885.4 999.8M893.5 981.7L897.5 992.8M901.3 977.2L905.3 988.3M911.7 971.2L915.7 982.3M863.7 1025.7L926 989.8M865.5 1011.3L869.6 1022.3M874.2 1006.3L878.2 1017.3M882 1001.8L886 1012.8M894.1 994.8L898.2 1005.8M901.9 990.3L906 1001.3M915.7 982.3L919.8 993.3M867.8 1036.8L922 1005.5M867.1 1023.7L871.2 1034.8M881 1015.7L885.1 1026.8M893.1 1008.7L897.2 1019.8M900.9 1004.2L905 1015.3M914.8 996.2L918.8 1007.3M871.9 1047.8L928 1015.4M875 1032.6L879.1 1043.7M887.1 1025.6L891.2 1036.7M893.2 1022.1L897.2 1033.2M903.6 1016.1L907.6 1027.2M909.6 1012.6L913.7 1023.7M915.7 1009.1L919.8 1020.2M876 1058.9L934 1025.4M874.7 1046.2L878.7 1057.3M883.3 1041.2L887.4 1052.3M891.1 1036.7L895.2 1047.8M905 1028.7L909.1 1039.8M918.8 1020.7L922.9 1031.8M880 1070L940 1035.3M879.9 1056.6L884 1067.7M892 1049.6L896.1 1060.7M902.4 1043.6L906.5 1054.7M911.1 1038.6L915.1 1049.7M923.2 1031.6L927.3 1042.7M931 1027.1L935.1 1038.2M884.1 1081L946.1 1045.3M887.7 1065.5L891.8 1076.6M895.5 1061L899.6 1072.1M903.3 1056.5L907.4 1067.6M913.7 1050.5L917.8 1061.6M925.8 1043.5L929.9 1054.6M888.2 1092.1L952.1 1055.2M891.1 1077L895.2 1088M903.3 1070L907.3 1081M909.3 1066.5L913.4 1077.5M918 1061.5L922.1 1072.5M925.8 1057L929.8 1068M933.6 1052.5L937.6 1063.5M892.3 1103.2L947.3 1071.4M890.9 1090.5L894.9 1101.6M899.5 1085.5L903.6 1096.6M909.9 1079.5L914 1090.6M920.3 1073.5L924.4 1084.6M928.1 1069L932.2 1080.1M934.2 1065.5L938.2 1076.6M940.2 1062L944.3 1073.1M896.3 1100.8L897.7 1104.6M908.4 1093.8L909.8 1097.6M920.6 1086.8L922 1090.6M928.4 1082.3L929.8 1086.1M934.4 1078.8L935.8 1082.6M943.1 1073.8L944.5 1077.6" stroke="#111" stroke-width="1" fill="none"/>
<line x1="772.5" y1="782.3" x2="892.2" y2="1107" stroke="#333" stroke-width="3.2" />
<polygon points="775.6,802 778.6,803.5 780.1,809 777.1,807.5" fill="#fff" stroke="#111" stroke-width="0.8" />
<polygon points="785.1,827.7 788.1,829.2 789.6,834.7 786.6,833.2" fill="#fff" stroke="#111" stroke-width="0.8" />
<polygon points="794.6,853.4 797.6,854.9 799.1,860.4 796.1,858.9" fill="#fff" stroke="#111" stroke-width="0.8" />
<polygon points="804.1,879.1 807.1,880.6 808.6,886.1 805.6,884.6" fill="#fff" stroke="#111" stroke-width="0.8" />
<polygon points="813.5,904.8 816.5,906.3 818,911.8 815,910.3" fill="#fff" stroke="#111" stroke-width="0.8" />
<polygon points="823,930.5 826,932 827.5,937.5 824.5,936" fill="#fff" stroke="#111" stroke-width="0.8" />
<polygon points="832.5,956.2 835.5,957.7 837,963.2 834,961.7" fill="#fff" stroke="#111" stroke-width="0.8" />
<polygon points="841.9,981.9 844.9,983.4 846.4,988.9 843.4,987.4" fill="#fff" stroke="#111" stroke-width="0.8" />
<polygon points="851.4,1007.6 854.4,1009.1 855.9,1014.6 852.9,1013.1" fill="#fff" stroke="#111" stroke-width="0.8" />
<polygon points="860.9,1033.3 863.9,1034.8 865.4,1040.3 862.4,1038.8" fill="#fff" stroke="#111" stroke-width="0.8" />
<polygon points="870.4,1059 873.4,1060.5 874.9,1066 871.9,1064.5" fill="#fff" stroke="#111" stroke-width="0.8" />
<polygon points="879.8,1084.7 882.8,1086.2 884.3,1091.7 881.3,1090.2" fill="#fff" stroke="#111" stroke-width="0.8" />
<polygon points="540.4,1098.4 784.6,740.3 768.2,749.8 524,1107.9" fill="#fff" stroke="#111" stroke-width="0" />
<line x1="540.4" y1="1098.4" x2="784.6" y2="740.3" stroke="#111" stroke-width="1" />
<line x1="540.4" y1="1098.4" x2="524" y2="1107.9" stroke="#111" stroke-width="1" />
<polyline points="521.8,1109.1 529.6,1100 527,1101.5 534.8,1092.4 532.2,1093.9 540,1084.8 537.4,1086.3 545.2,1077.2 542.6,1078.7 550.4,1069.5 547.8,1071 555.6,1061.9 553,1063.4 560.8,1054.3 558.2,1055.8 566,1046.7 563.4,1048.2 571.2,1039.1 568.6,1040.6 576.4,1031.4 573.8,1032.9 581.6,1023.8 579,1025.3 586.8,1016.2 584.2,1017.7 592,1008.6 589.4,1010.1 597.2,1001 594.6,1002.5 602.4,993.3 599.8,994.8 607.6,985.7 605,987.2 612.8,978.1 610.2,979.6 617.9,970.5 615.4,972 623.1,962.8 620.5,964.3 628.3,955.2 625.7,956.7 633.5,947.6 630.9,949.1 638.7,940 636.1,941.5 643.9,932.4 641.3,933.9 649.1,924.7 646.5,926.2 654.3,917.1 651.7,918.6 659.5,909.5 656.9,911 664.7,901.9 662.1,903.4 669.9,894.3 667.3,895.8 675.1,886.6 672.5,888.1 680.3,879 677.7,880.5 685.5,871.4 682.9,872.9 690.7,863.8 688.1,865.3 695.9,856.1 693.3,857.6 701.1,848.5 698.5,850 706.3,840.9 703.7,842.4 711.5,833.3 708.9,834.8 716.7,825.7 714.1,827.2 721.9,818 719.3,819.5 727.1,810.4 724.5,811.9 732.3,802.8 729.7,804.3 737.5,795.2 734.9,796.7 742.7,787.6 740.1,789.1 747.9,779.9 745.3,781.4 753.1,772.3 750.5,773.8 758.3,764.7 755.7,766.2 763.5,757.1 760.9,758.6 768.6,749.5" fill="none" stroke="#111" stroke-width="1" />
<line x1="526.6" y1="1106.4" x2="770.8" y2="748.3" stroke="#111" stroke-width="0.8" />
<line x1="529.2" y1="1104.9" x2="773.4" y2="746.8" stroke="#111" stroke-width="0.8" />
<polygon points="541.7,1095.8 544.2,1092 537.3,1096 534.8,1099.8" fill="#fff" stroke="#111" stroke-width="0.9" />
<polygon points="548.5,1085.8 551.1,1082 544.1,1086 541.6,1089.8" fill="#fff" stroke="#111" stroke-width="0.9" />
<polygon points="555.3,1075.8 557.9,1072 550.9,1076 548.4,1079.8" fill="#fff" stroke="#111" stroke-width="0.9" />
<polygon points="562.1,1065.8 564.7,1062 557.8,1066 555.2,1069.8" fill="#fff" stroke="#111" stroke-width="0.9" />
<polygon points="568.9,1055.8 571.5,1052 564.6,1056 562,1059.8" fill="#fff" stroke="#111" stroke-width="0.9" />
<polygon points="575.8,1045.8 578.3,1042.1 571.4,1046.1 568.8,1049.8" fill="#fff" stroke="#111" stroke-width="0.9" />
<polygon points="582.6,1035.8 585.1,1032.1 578.2,1036.1 575.7,1039.8" fill="#fff" stroke="#111" stroke-width="0.9" />
<polygon points="589.4,1025.8 592,1022.1 585,1026.1 582.5,1029.8" fill="#fff" stroke="#111" stroke-width="0.9" />
<polygon points="596.2,1015.8 598.8,1012.1 591.8,1016.1 589.3,1019.8" fill="#fff" stroke="#111" stroke-width="0.9" />
<polygon points="603,1005.8 605.6,1002.1 598.7,1006.1 596.1,1009.8" fill="#fff" stroke="#111" stroke-width="0.9" />
<polygon points="609.8,995.8 612.4,992.1 605.5,996.1 602.9,999.8" fill="#fff" stroke="#111" stroke-width="0.9" />
<polygon points="616.7,985.8 619.2,982.1 612.3,986.1 609.7,989.8" fill="#fff" stroke="#111" stroke-width="0.9" />
<polygon points="623.5,975.8 626,972.1 619.1,976.1 616.5,979.8" fill="#fff" stroke="#111" stroke-width="0.9" />
<polygon points="630.3,965.8 632.8,962.1 625.9,966.1 623.4,969.8" fill="#fff" stroke="#111" stroke-width="0.9" />
<polygon points="637.1,955.8 639.7,952.1 632.7,956.1 630.2,959.8" fill="#fff" stroke="#111" stroke-width="0.9" />
<polygon points="643.9,945.8 646.5,942.1 639.6,946.1 637,949.8" fill="#fff" stroke="#111" stroke-width="0.9" />
<polygon points="650.7,935.9 653.3,932.1 646.4,936.1 643.8,939.9" fill="#fff" stroke="#111" stroke-width="0.9" />
<polygon points="657.6,925.9 660.1,922.1 653.2,926.1 650.6,929.9" fill="#fff" stroke="#111" stroke-width="0.9" />
<polygon points="664.4,915.9 666.9,912.1 660,916.1 657.4,919.9" fill="#fff" stroke="#111" stroke-width="0.9" />
<polygon points="671.2,905.9 673.7,902.1 666.8,906.1 664.3,909.9" fill="#fff" stroke="#111" stroke-width="0.9" />
<polygon points="678,895.9 680.6,892.1 673.6,896.1 671.1,899.9" fill="#fff" stroke="#111" stroke-width="0.9" />
<polygon points="684.8,885.9 687.4,882.1 680.4,886.1 677.9,889.9" fill="#fff" stroke="#111" stroke-width="0.9" />
<polygon points="691.6,875.9 694.2,872.1 687.3,876.1 684.7,879.9" fill="#fff" stroke="#111" stroke-width="0.9" />
<polygon points="698.5,865.9 701,862.1 694.1,866.1 691.5,869.9" fill="#fff" stroke="#111" stroke-width="0.9" />
<polygon points="705.3,855.9 707.8,852.1 700.9,856.1 698.3,859.9" fill="#fff" stroke="#111" stroke-width="0.9" />
<polygon points="712.1,845.9 714.6,842.1 707.7,846.1 705.2,849.9" fill="#fff" stroke="#111" stroke-width="0.9" />
<polygon points="718.9,835.9 721.5,832.2 714.5,836.2 712,839.9" fill="#fff" stroke="#111" stroke-width="0.9" />
<polygon points="725.7,825.9 728.3,822.2 721.3,826.2 718.8,829.9" fill="#fff" stroke="#111" stroke-width="0.9" />
<polygon points="732.5,815.9 735.1,812.2 728.2,816.2 725.6,819.9" fill="#fff" stroke="#111" stroke-width="0.9" />
<polygon points="739.3,805.9 741.9,802.2 735,806.2 732.4,809.9" fill="#fff" stroke="#111" stroke-width="0.9" />
<polygon points="746.2,795.9 748.7,792.2 741.8,796.2 739.2,799.9" fill="#fff" stroke="#111" stroke-width="0.9" />
<polygon points="753,785.9 755.5,782.2 748.6,786.2 746.1,789.9" fill="#fff" stroke="#111" stroke-width="0.9" />
<polygon points="759.8,775.9 762.4,772.2 755.4,776.2 752.9,779.9" fill="#fff" stroke="#111" stroke-width="0.9" />
<polygon points="766.6,765.9 769.2,762.2 762.2,766.2 759.7,769.9" fill="#fff" stroke="#111" stroke-width="0.9" />
<polygon points="773.4,755.9 776,752.2 769.1,756.2 766.5,759.9" fill="#fff" stroke="#111" stroke-width="0.9" />
<polygon points="780.2,745.9 782.8,742.2 775.9,746.2 773.3,749.9" fill="#fff" stroke="#111" stroke-width="0.9" />
<polygon points="831.6,698 836.4,700.2 855.2,716.3 850.4,720" fill="#fff" stroke="#111" stroke-width="1" />
<polygon points="793.1,753.2 850.4,720 833.8,748.4 775.4,782.2" fill="#fff" stroke="#111" stroke-width="1" />
<polygon points="774.3,731.3 831.6,698 850.4,720 793.1,753.2" fill="#fff" stroke="#111" stroke-width="1" />
<line x1="358.5" y1="285.8" x2="831" y2="285.8" stroke="#444" stroke-width="1.1" />
<line x1="358.5" y1="508.6" x2="824.8" y2="508.6" stroke="#444" stroke-width="1.1" />
<line x1="443.5" y1="722.4" x2="796.3" y2="722.4" stroke="#444" stroke-width="1.1" />
<line x1="396" y1="828.8" x2="808.5" y2="828.8" stroke="#444" stroke-width="1.1" />
<line x1="367.4" y1="1029.8" x2="700" y2="1029.8" stroke="#444" stroke-width="1.1" />
<line x1="367.4" y1="1113.3" x2="880.2" y2="1113.3" stroke="#444" stroke-width="1.1" />
<line x1="323.7" y1="1196.5" x2="888" y2="1196.5" stroke="#444" stroke-width="1.1" />
<line x1="323.7" y1="1344.1" x2="853.2" y2="1344.1" stroke="#444" stroke-width="1.1" />
<line x1="413" y1="1501.9" x2="685.3" y2="1501.9" stroke="#444" stroke-width="1.1" />
<line x1="413" y1="1585.1" x2="683.5" y2="1585.1" stroke="#444" stroke-width="1.1" />
<line x1="413" y1="1667.9" x2="930.5" y2="1667.9" stroke="#444" stroke-width="1.1" />
<line x1="704.1" y1="1171" x2="704.1" y2="1471" stroke="#222" stroke-width="1" stroke-dasharray="2 3"/>
<line x1="774.4" y1="1211" x2="774.4" y2="1514" stroke="#222" stroke-width="1" stroke-dasharray="2 3"/>
<line x1="798.5" y1="1201" x2="798.5" y2="1419" stroke="#222" stroke-width="1" stroke-dasharray="2 3"/>
<line x1="867.9" y1="1241" x2="867.9" y2="1460" stroke="#222" stroke-width="1" stroke-dasharray="2 3"/>
<line x1="924.1" y1="1273" x2="924.1" y2="1570" stroke="#222" stroke-width="1" stroke-dasharray="2 3"/>
<line x1="928.1" y1="1273" x2="928.1" y2="1562" stroke="#222" stroke-width="1" stroke-dasharray="2 3"/>
<line x1="936.2" y1="1281" x2="936.2" y2="1556" stroke="#222" stroke-width="1" stroke-dasharray="2 3"/>
<line x1="940.6" y1="1281" x2="940.6" y2="1560" stroke="#222" stroke-width="1" stroke-dasharray="2 3"/>
<line x1="1031.3" y1="1312" x2="1031.3" y2="1500" stroke="#222" stroke-width="1" stroke-dasharray="2 3"/>
<line x1="1040.7" y1="1316" x2="1040.7" y2="1496" stroke="#222" stroke-width="1" stroke-dasharray="2 3"/>
<line x1="1047.7" y1="1310" x2="1047.7" y2="1498" stroke="#222" stroke-width="1" stroke-dasharray="2 3"/>
<line x1="1138" y1="1150" x2="1138" y2="1438" stroke="#222" stroke-width="1" stroke-dasharray="2 3"/>
<line x1="1143" y1="1152" x2="1143" y2="1434" stroke="#222" stroke-width="1" stroke-dasharray="2 3"/>
<line x1="1154" y1="1146" x2="1154" y2="1436" stroke="#222" stroke-width="1" stroke-dasharray="2 3"/>
<line x1="971.2" y1="1084" x2="971.2" y2="1137" stroke="#222" stroke-width="1" stroke-dasharray="2 3"/>
</svg>

</body></html>
